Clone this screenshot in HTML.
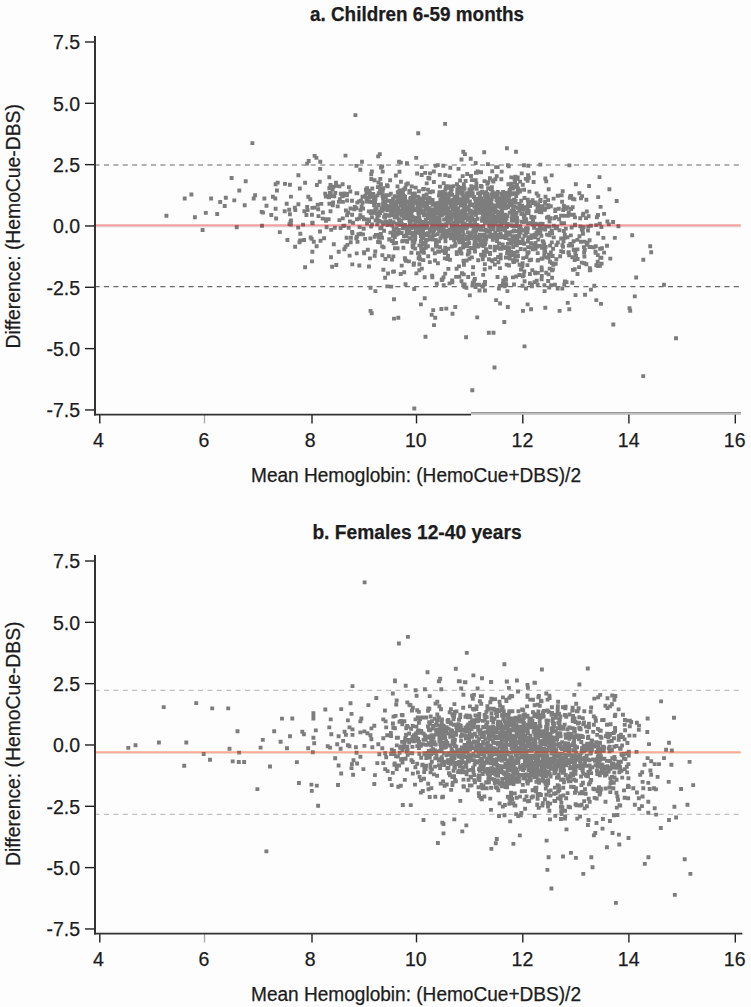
<!DOCTYPE html>
<html><head><meta charset="utf-8"><style>
html,body{margin:0;padding:0;background:#fdfdfd;}
svg{display:block;font-family:"Liberation Sans",sans-serif;}
text{font-size:19.5px;fill:#1c1c1c;stroke:#1c1c1c;stroke-width:0.25px;}
</style></head><body>
<svg width="751" height="1007" viewBox="0 0 751 1007">
<defs><filter id="bl" x="-5%" y="-5%" width="110%" height="110%"><feGaussianBlur stdDeviation="0.45"/></filter></defs>
<rect width="751" height="1007" fill="#fdfdfd"/>
<text x="310.0" y="21.3" font-weight="bold" textLength="214.0" lengthAdjust="spacingAndGlyphs">a. Children 6-59 months</text>
<text transform="translate(20,348.5) rotate(-90)" x="0" y="0" textLength="244.4" lengthAdjust="spacingAndGlyphs">Difference: (HemoCue-DBS)</text>
<text x="251.0" y="481.8" textLength="330" lengthAdjust="spacingAndGlyphs">Mean Hemoglobin: (HemoCue+DBS)/2</text>
<line x1="85" y1="41.99" x2="95" y2="41.99" stroke="#222" stroke-width="1.4"/>
<text x="80.1" y="49.39" text-anchor="end">7.5</text>
<line x1="85" y1="103.32" x2="95" y2="103.32" stroke="#222" stroke-width="1.4"/>
<text x="80.1" y="110.72" text-anchor="end">5.0</text>
<line x1="85" y1="164.64" x2="95" y2="164.64" stroke="#222" stroke-width="1.4"/>
<text x="80.1" y="172.04" text-anchor="end">2.5</text>
<line x1="85" y1="225.97" x2="95" y2="225.97" stroke="#222" stroke-width="1.4"/>
<text x="80.1" y="233.37" text-anchor="end">0.0</text>
<line x1="85" y1="287.30" x2="95" y2="287.30" stroke="#222" stroke-width="1.4"/>
<text x="80.1" y="294.69" text-anchor="end">-2.5</text>
<line x1="85" y1="348.62" x2="95" y2="348.62" stroke="#222" stroke-width="1.4"/>
<text x="80.1" y="356.02" text-anchor="end">-5.0</text>
<line x1="85" y1="409.95" x2="95" y2="409.95" stroke="#222" stroke-width="1.4"/>
<text x="80.1" y="417.35" text-anchor="end">-7.5</text>
<line x1="99.8" y1="414.0" x2="99.8" y2="423.4" stroke="#222" stroke-width="1.4"/>
<text x="98.4" y="447.4" text-anchor="middle">4</text>
<line x1="204.5" y1="414.0" x2="204.5" y2="423.4" stroke="#aaa" stroke-width="1.4"/>
<text x="203.9" y="447.4" text-anchor="middle">6</text>
<line x1="312.0" y1="414.0" x2="312.0" y2="423.4" stroke="#222" stroke-width="1.4"/>
<text x="310.2" y="447.4" text-anchor="middle">8</text>
<line x1="416.5" y1="414.0" x2="416.5" y2="423.4" stroke="#222" stroke-width="1.4"/>
<text x="415.8" y="447.4" text-anchor="middle">10</text>
<line x1="522.8" y1="414.0" x2="522.8" y2="423.4" stroke="#222" stroke-width="1.4"/>
<text x="522.4" y="447.4" text-anchor="middle">12</text>
<line x1="628.9" y1="414.0" x2="628.9" y2="423.4" stroke="#222" stroke-width="1.4"/>
<text x="628.7" y="447.4" text-anchor="middle">14</text>
<line x1="735.3" y1="414.0" x2="735.3" y2="423.4" stroke="#222" stroke-width="1.4"/>
<text x="734.7" y="447.4" text-anchor="middle">16</text>
<line x1="94.6" y1="165.00" x2="740.7" y2="165.00" stroke="#686868" stroke-width="1.15" stroke-dasharray="5 4.4"/>
<line x1="94.6" y1="286.60" x2="740.7" y2="286.60" stroke="#686868" stroke-width="1.15" stroke-dasharray="5 4.4"/>
<path d="M354.45 163.95h3.9v3.9h-3.9zM380.25 164.55h3.9v3.9h-3.9zM419.85 165.15h3.9v3.9h-3.9zM433.65 163.85h3.9v3.9h-3.9zM435.85 163.15h3.9v3.9h-3.9zM441.35 163.85h3.9v3.9h-3.9zM494.15 165.15h3.9v3.9h-3.9zM495.65 165.15h3.9v3.9h-3.9zM505.95 163.15h3.9v3.9h-3.9zM506.75 164.25h3.9v3.9h-3.9zM526.35 163.75h3.9v3.9h-3.9zM522.05 163.35h3.9v3.9h-3.9zM538.35 162.65h3.9v3.9h-3.9zM567.45 163.45h3.9v3.9h-3.9zM318.25 166.95h3.9v3.9h-3.9zM358.35 167.75h3.9v3.9h-3.9zM379.05 165.55h3.9v3.9h-3.9zM448.35 165.75h3.9v3.9h-3.9zM456.55 166.95h3.9v3.9h-3.9zM369.95 169.45h3.9v3.9h-3.9zM380.75 169.65h3.9v3.9h-3.9zM397.55 169.85h3.9v3.9h-3.9zM415.15 171.55h3.9v3.9h-3.9zM428.05 171.45h3.9v3.9h-3.9zM423.25 170.95h3.9v3.9h-3.9zM431.85 169.55h3.9v3.9h-3.9zM474.05 170.75h3.9v3.9h-3.9zM474.85 170.95h3.9v3.9h-3.9zM475.85 169.55h3.9v3.9h-3.9zM479.15 170.25h3.9v3.9h-3.9zM490.25 169.35h3.9v3.9h-3.9zM499.75 169.65h3.9v3.9h-3.9zM519.75 171.45h3.9v3.9h-3.9zM531.85 171.25h3.9v3.9h-3.9zM296.45 173.25h3.9v3.9h-3.9zM369.25 172.25h3.9v3.9h-3.9zM393.95 173.55h3.9v3.9h-3.9zM419.75 173.05h3.9v3.9h-3.9zM437.85 172.95h3.9v3.9h-3.9zM447.55 174.15h3.9v3.9h-3.9zM443.35 173.15h3.9v3.9h-3.9zM460.75 174.15h3.9v3.9h-3.9zM465.25 172.05h3.9v3.9h-3.9zM469.05 174.05h3.9v3.9h-3.9zM494.75 174.25h3.9v3.9h-3.9zM513.35 174.65h3.9v3.9h-3.9zM526.15 173.25h3.9v3.9h-3.9zM549.75 173.45h3.9v3.9h-3.9zM327.35 175.25h3.9v3.9h-3.9zM369.35 177.05h3.9v3.9h-3.9zM378.35 176.95h3.9v3.9h-3.9zM426.45 176.05h3.9v3.9h-3.9zM427.35 176.55h3.9v3.9h-3.9zM487.95 176.25h3.9v3.9h-3.9zM493.45 177.25h3.9v3.9h-3.9zM499.35 177.35h3.9v3.9h-3.9zM509.35 175.45h3.9v3.9h-3.9zM512.55 176.85h3.9v3.9h-3.9zM515.75 175.55h3.9v3.9h-3.9zM515.65 176.95h3.9v3.9h-3.9zM526.85 175.75h3.9v3.9h-3.9zM523.85 176.95h3.9v3.9h-3.9zM543.35 176.55h3.9v3.9h-3.9zM597.55 175.15h3.9v3.9h-3.9zM303.15 180.75h3.9v3.9h-3.9zM317.75 179.85h3.9v3.9h-3.9zM334.05 180.75h3.9v3.9h-3.9zM372.55 178.35h3.9v3.9h-3.9zM376.55 180.55h3.9v3.9h-3.9zM388.15 178.25h3.9v3.9h-3.9zM398.95 179.85h3.9v3.9h-3.9zM431.95 180.05h3.9v3.9h-3.9zM458.15 178.55h3.9v3.9h-3.9zM463.65 179.05h3.9v3.9h-3.9zM473.75 178.15h3.9v3.9h-3.9zM469.85 178.15h3.9v3.9h-3.9zM482.55 179.15h3.9v3.9h-3.9zM486.25 180.35h3.9v3.9h-3.9zM490.65 178.45h3.9v3.9h-3.9zM491.45 179.55h3.9v3.9h-3.9zM513.15 180.55h3.9v3.9h-3.9zM518.15 179.65h3.9v3.9h-3.9zM525.65 178.75h3.9v3.9h-3.9zM531.65 180.05h3.9v3.9h-3.9zM544.25 179.45h3.9v3.9h-3.9zM287.95 182.85h3.9v3.9h-3.9zM283.05 181.95h3.9v3.9h-3.9zM314.95 183.05h3.9v3.9h-3.9zM328.55 183.05h3.9v3.9h-3.9zM334.35 183.75h3.9v3.9h-3.9zM340.65 182.35h3.9v3.9h-3.9zM378.95 182.15h3.9v3.9h-3.9zM385.05 183.25h3.9v3.9h-3.9zM404.35 182.55h3.9v3.9h-3.9zM405.85 181.55h3.9v3.9h-3.9zM424.75 181.45h3.9v3.9h-3.9zM441.75 181.25h3.9v3.9h-3.9zM455.05 182.25h3.9v3.9h-3.9zM461.85 182.15h3.9v3.9h-3.9zM474.45 181.55h3.9v3.9h-3.9zM485.45 181.95h3.9v3.9h-3.9zM506.45 182.35h3.9v3.9h-3.9zM509.45 181.75h3.9v3.9h-3.9zM515.05 182.95h3.9v3.9h-3.9zM520.85 182.75h3.9v3.9h-3.9zM573.85 182.35h3.9v3.9h-3.9zM297.85 186.55h3.9v3.9h-3.9zM327.35 186.25h3.9v3.9h-3.9zM327.95 185.65h3.9v3.9h-3.9zM331.75 184.65h3.9v3.9h-3.9zM337.45 184.45h3.9v3.9h-3.9zM346.95 185.15h3.9v3.9h-3.9zM365.25 186.25h3.9v3.9h-3.9zM370.35 186.55h3.9v3.9h-3.9zM381.35 186.25h3.9v3.9h-3.9zM377.55 185.05h3.9v3.9h-3.9zM375.85 185.15h3.9v3.9h-3.9zM385.75 184.25h3.9v3.9h-3.9zM395.55 184.45h3.9v3.9h-3.9zM403.35 186.95h3.9v3.9h-3.9zM403.35 185.65h3.9v3.9h-3.9zM413.75 185.65h3.9v3.9h-3.9zM409.75 184.55h3.9v3.9h-3.9zM421.95 186.95h3.9v3.9h-3.9zM438.05 184.65h3.9v3.9h-3.9zM443.95 185.85h3.9v3.9h-3.9zM444.55 184.25h3.9v3.9h-3.9zM447.15 185.75h3.9v3.9h-3.9zM447.05 184.55h3.9v3.9h-3.9zM448.75 185.05h3.9v3.9h-3.9zM451.45 184.15h3.9v3.9h-3.9zM459.15 185.85h3.9v3.9h-3.9zM456.25 185.05h3.9v3.9h-3.9zM462.05 184.65h3.9v3.9h-3.9zM462.55 186.85h3.9v3.9h-3.9zM474.35 186.75h3.9v3.9h-3.9zM474.35 185.45h3.9v3.9h-3.9zM473.25 185.25h3.9v3.9h-3.9zM474.75 186.75h3.9v3.9h-3.9zM470.05 186.85h3.9v3.9h-3.9zM469.35 184.25h3.9v3.9h-3.9zM478.95 184.05h3.9v3.9h-3.9zM479.65 184.85h3.9v3.9h-3.9zM486.25 186.25h3.9v3.9h-3.9zM489.95 185.25h3.9v3.9h-3.9zM508.95 184.95h3.9v3.9h-3.9zM510.95 185.55h3.9v3.9h-3.9zM511.45 185.05h3.9v3.9h-3.9zM513.45 184.85h3.9v3.9h-3.9zM510.95 186.65h3.9v3.9h-3.9zM516.05 186.45h3.9v3.9h-3.9zM587.15 184.05h3.9v3.9h-3.9zM330.75 187.15h3.9v3.9h-3.9zM348.35 189.55h3.9v3.9h-3.9zM367.65 188.75h3.9v3.9h-3.9zM363.95 187.55h3.9v3.9h-3.9zM379.75 189.85h3.9v3.9h-3.9zM380.75 188.85h3.9v3.9h-3.9zM378.15 188.65h3.9v3.9h-3.9zM397.55 188.45h3.9v3.9h-3.9zM400.55 188.45h3.9v3.9h-3.9zM401.65 187.55h3.9v3.9h-3.9zM407.55 189.55h3.9v3.9h-3.9zM408.05 188.95h3.9v3.9h-3.9zM416.95 189.25h3.9v3.9h-3.9zM421.15 187.35h3.9v3.9h-3.9zM427.65 189.95h3.9v3.9h-3.9zM426.05 187.65h3.9v3.9h-3.9zM430.95 189.55h3.9v3.9h-3.9zM441.25 189.95h3.9v3.9h-3.9zM443.45 187.45h3.9v3.9h-3.9zM449.75 187.65h3.9v3.9h-3.9zM448.75 188.65h3.9v3.9h-3.9zM456.75 189.95h3.9v3.9h-3.9zM455.35 187.85h3.9v3.9h-3.9zM458.05 187.85h3.9v3.9h-3.9zM458.45 187.15h3.9v3.9h-3.9zM467.45 187.55h3.9v3.9h-3.9zM468.05 189.05h3.9v3.9h-3.9zM468.45 189.35h3.9v3.9h-3.9zM480.15 189.75h3.9v3.9h-3.9zM490.55 190.05h3.9v3.9h-3.9zM489.85 187.45h3.9v3.9h-3.9zM488.95 187.45h3.9v3.9h-3.9zM495.85 189.95h3.9v3.9h-3.9zM501.15 190.05h3.9v3.9h-3.9zM507.55 188.55h3.9v3.9h-3.9zM507.95 188.05h3.9v3.9h-3.9zM518.05 188.35h3.9v3.9h-3.9zM517.95 189.55h3.9v3.9h-3.9zM515.75 188.85h3.9v3.9h-3.9zM527.45 189.65h3.9v3.9h-3.9zM522.15 187.85h3.9v3.9h-3.9zM546.75 187.35h3.9v3.9h-3.9zM560.75 189.15h3.9v3.9h-3.9zM327.95 190.95h3.9v3.9h-3.9zM328.85 190.95h3.9v3.9h-3.9zM323.25 191.65h3.9v3.9h-3.9zM333.35 190.95h3.9v3.9h-3.9zM338.85 191.75h3.9v3.9h-3.9zM345.15 191.95h3.9v3.9h-3.9zM342.75 191.45h3.9v3.9h-3.9zM354.55 191.25h3.9v3.9h-3.9zM355.35 191.25h3.9v3.9h-3.9zM367.85 192.25h3.9v3.9h-3.9zM364.55 191.05h3.9v3.9h-3.9zM371.25 192.05h3.9v3.9h-3.9zM376.85 191.25h3.9v3.9h-3.9zM379.45 190.55h3.9v3.9h-3.9zM388.85 191.75h3.9v3.9h-3.9zM399.75 190.45h3.9v3.9h-3.9zM401.05 191.25h3.9v3.9h-3.9zM398.45 192.85h3.9v3.9h-3.9zM397.15 190.65h3.9v3.9h-3.9zM400.75 191.95h3.9v3.9h-3.9zM395.85 190.15h3.9v3.9h-3.9zM407.35 190.65h3.9v3.9h-3.9zM411.35 192.05h3.9v3.9h-3.9zM412.85 191.45h3.9v3.9h-3.9zM424.65 192.45h3.9v3.9h-3.9zM428.35 190.25h3.9v3.9h-3.9zM437.75 191.85h3.9v3.9h-3.9zM440.85 190.75h3.9v3.9h-3.9zM437.55 190.35h3.9v3.9h-3.9zM439.25 190.15h3.9v3.9h-3.9zM443.15 191.55h3.9v3.9h-3.9zM447.25 191.75h3.9v3.9h-3.9zM443.45 193.15h3.9v3.9h-3.9zM450.25 192.85h3.9v3.9h-3.9zM449.15 191.75h3.9v3.9h-3.9zM455.25 191.45h3.9v3.9h-3.9zM456.95 190.65h3.9v3.9h-3.9zM460.65 190.75h3.9v3.9h-3.9zM460.35 192.95h3.9v3.9h-3.9zM455.65 192.85h3.9v3.9h-3.9zM457.45 190.75h3.9v3.9h-3.9zM464.75 191.25h3.9v3.9h-3.9zM470.75 191.25h3.9v3.9h-3.9zM469.25 190.85h3.9v3.9h-3.9zM476.15 191.45h3.9v3.9h-3.9zM478.45 190.85h3.9v3.9h-3.9zM479.35 190.75h3.9v3.9h-3.9zM483.95 191.75h3.9v3.9h-3.9zM485.35 192.05h3.9v3.9h-3.9zM484.25 190.25h3.9v3.9h-3.9zM493.95 192.25h3.9v3.9h-3.9zM489.45 192.65h3.9v3.9h-3.9zM494.45 191.15h3.9v3.9h-3.9zM494.55 191.55h3.9v3.9h-3.9zM499.45 191.85h3.9v3.9h-3.9zM495.35 191.75h3.9v3.9h-3.9zM504.45 191.85h3.9v3.9h-3.9zM506.65 190.75h3.9v3.9h-3.9zM501.85 192.45h3.9v3.9h-3.9zM504.85 191.05h3.9v3.9h-3.9zM507.95 192.15h3.9v3.9h-3.9zM512.75 191.15h3.9v3.9h-3.9zM511.05 191.85h3.9v3.9h-3.9zM509.45 192.25h3.9v3.9h-3.9zM511.55 191.25h3.9v3.9h-3.9zM508.55 191.75h3.9v3.9h-3.9zM515.65 191.35h3.9v3.9h-3.9zM534.65 191.55h3.9v3.9h-3.9zM577.45 191.35h3.9v3.9h-3.9zM288.95 194.65h3.9v3.9h-3.9zM306.35 194.75h3.9v3.9h-3.9zM327.05 195.45h3.9v3.9h-3.9zM323.85 194.55h3.9v3.9h-3.9zM328.85 194.15h3.9v3.9h-3.9zM327.45 193.65h3.9v3.9h-3.9zM332.35 194.35h3.9v3.9h-3.9zM340.25 194.45h3.9v3.9h-3.9zM340.95 193.95h3.9v3.9h-3.9zM344.85 193.35h3.9v3.9h-3.9zM360.55 194.75h3.9v3.9h-3.9zM362.45 194.85h3.9v3.9h-3.9zM367.05 195.95h3.9v3.9h-3.9zM363.45 193.65h3.9v3.9h-3.9zM369.75 194.85h3.9v3.9h-3.9zM373.15 195.05h3.9v3.9h-3.9zM369.85 193.55h3.9v3.9h-3.9zM375.45 193.45h3.9v3.9h-3.9zM380.55 194.35h3.9v3.9h-3.9zM386.65 193.15h3.9v3.9h-3.9zM383.85 195.35h3.9v3.9h-3.9zM383.15 193.25h3.9v3.9h-3.9zM393.95 194.35h3.9v3.9h-3.9zM393.95 194.55h3.9v3.9h-3.9zM393.05 194.15h3.9v3.9h-3.9zM396.75 194.45h3.9v3.9h-3.9zM395.85 194.15h3.9v3.9h-3.9zM399.05 194.85h3.9v3.9h-3.9zM402.05 194.25h3.9v3.9h-3.9zM403.15 194.95h3.9v3.9h-3.9zM411.95 194.45h3.9v3.9h-3.9zM410.55 193.35h3.9v3.9h-3.9zM413.75 194.65h3.9v3.9h-3.9zM409.15 196.05h3.9v3.9h-3.9zM421.75 193.65h3.9v3.9h-3.9zM417.55 196.25h3.9v3.9h-3.9zM415.95 194.65h3.9v3.9h-3.9zM421.85 194.65h3.9v3.9h-3.9zM421.75 195.35h3.9v3.9h-3.9zM427.45 195.95h3.9v3.9h-3.9zM437.05 193.55h3.9v3.9h-3.9zM439.15 193.45h3.9v3.9h-3.9zM441.35 193.25h3.9v3.9h-3.9zM446.55 194.75h3.9v3.9h-3.9zM446.75 194.75h3.9v3.9h-3.9zM452.65 194.75h3.9v3.9h-3.9zM455.35 195.25h3.9v3.9h-3.9zM465.45 193.25h3.9v3.9h-3.9zM463.55 195.45h3.9v3.9h-3.9zM463.15 194.65h3.9v3.9h-3.9zM463.15 194.25h3.9v3.9h-3.9zM465.75 195.45h3.9v3.9h-3.9zM468.45 193.95h3.9v3.9h-3.9zM471.95 195.05h3.9v3.9h-3.9zM469.65 193.75h3.9v3.9h-3.9zM478.05 193.95h3.9v3.9h-3.9zM486.15 195.45h3.9v3.9h-3.9zM483.75 195.35h3.9v3.9h-3.9zM483.15 193.85h3.9v3.9h-3.9zM482.85 193.75h3.9v3.9h-3.9zM493.05 194.65h3.9v3.9h-3.9zM490.45 194.75h3.9v3.9h-3.9zM490.85 193.75h3.9v3.9h-3.9zM500.45 195.65h3.9v3.9h-3.9zM499.35 196.15h3.9v3.9h-3.9zM495.55 195.55h3.9v3.9h-3.9zM500.55 193.55h3.9v3.9h-3.9zM502.15 193.85h3.9v3.9h-3.9zM506.75 194.45h3.9v3.9h-3.9zM503.35 194.55h3.9v3.9h-3.9zM507.35 193.95h3.9v3.9h-3.9zM501.35 196.05h3.9v3.9h-3.9zM514.25 194.05h3.9v3.9h-3.9zM522.55 196.05h3.9v3.9h-3.9zM536.35 193.85h3.9v3.9h-3.9zM543.55 194.75h3.9v3.9h-3.9zM559.65 193.35h3.9v3.9h-3.9zM555.85 193.75h3.9v3.9h-3.9zM568.25 194.45h3.9v3.9h-3.9zM567.85 195.95h3.9v3.9h-3.9zM569.15 194.05h3.9v3.9h-3.9zM580.15 194.15h3.9v3.9h-3.9zM596.25 195.15h3.9v3.9h-3.9zM308.35 197.25h3.9v3.9h-3.9zM337.85 197.15h3.9v3.9h-3.9zM345.15 198.55h3.9v3.9h-3.9zM350.05 198.85h3.9v3.9h-3.9zM358.95 198.85h3.9v3.9h-3.9zM364.55 196.25h3.9v3.9h-3.9zM371.75 197.65h3.9v3.9h-3.9zM373.55 196.85h3.9v3.9h-3.9zM381.15 196.75h3.9v3.9h-3.9zM385.55 198.85h3.9v3.9h-3.9zM387.65 198.95h3.9v3.9h-3.9zM391.15 196.55h3.9v3.9h-3.9zM401.15 196.55h3.9v3.9h-3.9zM395.85 198.75h3.9v3.9h-3.9zM397.15 198.25h3.9v3.9h-3.9zM395.45 196.85h3.9v3.9h-3.9zM399.95 196.35h3.9v3.9h-3.9zM398.65 199.15h3.9v3.9h-3.9zM396.65 198.35h3.9v3.9h-3.9zM400.15 198.15h3.9v3.9h-3.9zM403.15 197.85h3.9v3.9h-3.9zM408.25 196.85h3.9v3.9h-3.9zM411.95 198.25h3.9v3.9h-3.9zM409.45 198.45h3.9v3.9h-3.9zM413.75 198.85h3.9v3.9h-3.9zM421.05 197.55h3.9v3.9h-3.9zM417.75 197.85h3.9v3.9h-3.9zM423.75 196.45h3.9v3.9h-3.9zM427.85 198.45h3.9v3.9h-3.9zM425.65 197.45h3.9v3.9h-3.9zM428.05 197.55h3.9v3.9h-3.9zM430.65 198.05h3.9v3.9h-3.9zM439.05 197.75h3.9v3.9h-3.9zM438.45 197.75h3.9v3.9h-3.9zM440.45 196.85h3.9v3.9h-3.9zM440.15 197.15h3.9v3.9h-3.9zM440.65 196.45h3.9v3.9h-3.9zM443.35 196.65h3.9v3.9h-3.9zM445.35 198.05h3.9v3.9h-3.9zM441.65 196.75h3.9v3.9h-3.9zM452.65 198.75h3.9v3.9h-3.9zM452.65 196.25h3.9v3.9h-3.9zM451.15 197.75h3.9v3.9h-3.9zM448.55 198.65h3.9v3.9h-3.9zM458.15 198.85h3.9v3.9h-3.9zM458.25 197.25h3.9v3.9h-3.9zM455.25 197.95h3.9v3.9h-3.9zM461.75 196.75h3.9v3.9h-3.9zM462.05 198.85h3.9v3.9h-3.9zM465.35 196.95h3.9v3.9h-3.9zM473.05 196.95h3.9v3.9h-3.9zM474.75 196.65h3.9v3.9h-3.9zM475.75 197.55h3.9v3.9h-3.9zM479.35 196.45h3.9v3.9h-3.9zM480.85 198.85h3.9v3.9h-3.9zM480.85 198.35h3.9v3.9h-3.9zM482.55 198.65h3.9v3.9h-3.9zM481.95 198.55h3.9v3.9h-3.9zM483.95 198.95h3.9v3.9h-3.9zM486.35 198.35h3.9v3.9h-3.9zM489.75 197.35h3.9v3.9h-3.9zM497.95 198.55h3.9v3.9h-3.9zM499.95 197.35h3.9v3.9h-3.9zM496.95 198.15h3.9v3.9h-3.9zM496.15 198.95h3.9v3.9h-3.9zM494.55 198.25h3.9v3.9h-3.9zM497.85 196.85h3.9v3.9h-3.9zM506.65 198.75h3.9v3.9h-3.9zM507.75 198.55h3.9v3.9h-3.9zM503.85 196.85h3.9v3.9h-3.9zM505.55 196.85h3.9v3.9h-3.9zM506.25 197.95h3.9v3.9h-3.9zM506.65 197.35h3.9v3.9h-3.9zM503.25 199.05h3.9v3.9h-3.9zM512.05 197.85h3.9v3.9h-3.9zM509.75 199.25h3.9v3.9h-3.9zM513.65 198.55h3.9v3.9h-3.9zM519.25 198.75h3.9v3.9h-3.9zM525.85 197.85h3.9v3.9h-3.9zM530.65 198.25h3.9v3.9h-3.9zM538.15 199.15h3.9v3.9h-3.9zM538.65 198.05h3.9v3.9h-3.9zM546.15 198.15h3.9v3.9h-3.9zM551.65 196.65h3.9v3.9h-3.9zM572.45 197.45h3.9v3.9h-3.9zM570.95 196.75h3.9v3.9h-3.9zM579.05 196.45h3.9v3.9h-3.9zM584.45 197.75h3.9v3.9h-3.9zM284.75 201.85h3.9v3.9h-3.9zM296.45 202.25h3.9v3.9h-3.9zM319.35 201.95h3.9v3.9h-3.9zM327.45 201.85h3.9v3.9h-3.9zM331.15 200.55h3.9v3.9h-3.9zM336.95 199.95h3.9v3.9h-3.9zM340.95 199.95h3.9v3.9h-3.9zM355.35 200.65h3.9v3.9h-3.9zM360.75 200.55h3.9v3.9h-3.9zM356.95 199.45h3.9v3.9h-3.9zM367.65 199.95h3.9v3.9h-3.9zM365.05 199.55h3.9v3.9h-3.9zM369.75 200.05h3.9v3.9h-3.9zM373.05 200.15h3.9v3.9h-3.9zM381.15 201.25h3.9v3.9h-3.9zM383.15 201.25h3.9v3.9h-3.9zM382.15 199.65h3.9v3.9h-3.9zM388.75 199.55h3.9v3.9h-3.9zM390.25 200.75h3.9v3.9h-3.9zM389.45 202.25h3.9v3.9h-3.9zM392.45 201.55h3.9v3.9h-3.9zM394.55 199.95h3.9v3.9h-3.9zM394.45 202.25h3.9v3.9h-3.9zM390.45 199.65h3.9v3.9h-3.9zM393.95 202.05h3.9v3.9h-3.9zM396.85 200.55h3.9v3.9h-3.9zM400.15 199.55h3.9v3.9h-3.9zM401.45 199.35h3.9v3.9h-3.9zM407.35 199.65h3.9v3.9h-3.9zM407.75 201.15h3.9v3.9h-3.9zM402.25 202.15h3.9v3.9h-3.9zM403.95 199.55h3.9v3.9h-3.9zM403.55 199.35h3.9v3.9h-3.9zM403.75 201.45h3.9v3.9h-3.9zM408.45 201.25h3.9v3.9h-3.9zM412.15 199.95h3.9v3.9h-3.9zM413.35 200.25h3.9v3.9h-3.9zM412.35 200.95h3.9v3.9h-3.9zM412.65 199.75h3.9v3.9h-3.9zM410.15 201.45h3.9v3.9h-3.9zM421.35 200.95h3.9v3.9h-3.9zM420.15 201.35h3.9v3.9h-3.9zM416.45 200.85h3.9v3.9h-3.9zM418.95 200.75h3.9v3.9h-3.9zM419.45 202.05h3.9v3.9h-3.9zM422.85 202.25h3.9v3.9h-3.9zM424.25 201.45h3.9v3.9h-3.9zM425.65 200.55h3.9v3.9h-3.9zM424.65 201.05h3.9v3.9h-3.9zM428.25 200.95h3.9v3.9h-3.9zM426.95 200.25h3.9v3.9h-3.9zM434.75 201.15h3.9v3.9h-3.9zM430.05 200.75h3.9v3.9h-3.9zM429.05 200.05h3.9v3.9h-3.9zM433.95 201.45h3.9v3.9h-3.9zM437.45 200.85h3.9v3.9h-3.9zM439.65 200.25h3.9v3.9h-3.9zM445.55 199.85h3.9v3.9h-3.9zM441.85 200.75h3.9v3.9h-3.9zM445.05 201.15h3.9v3.9h-3.9zM444.05 202.15h3.9v3.9h-3.9zM454.55 200.55h3.9v3.9h-3.9zM448.95 199.85h3.9v3.9h-3.9zM457.15 201.35h3.9v3.9h-3.9zM461.15 201.75h3.9v3.9h-3.9zM459.05 201.25h3.9v3.9h-3.9zM462.85 201.45h3.9v3.9h-3.9zM467.95 199.45h3.9v3.9h-3.9zM463.15 202.35h3.9v3.9h-3.9zM462.05 201.85h3.9v3.9h-3.9zM465.35 199.55h3.9v3.9h-3.9zM473.75 200.25h3.9v3.9h-3.9zM479.75 199.55h3.9v3.9h-3.9zM475.25 199.65h3.9v3.9h-3.9zM480.45 200.05h3.9v3.9h-3.9zM476.85 200.65h3.9v3.9h-3.9zM482.95 199.85h3.9v3.9h-3.9zM486.85 200.25h3.9v3.9h-3.9zM487.25 201.85h3.9v3.9h-3.9zM483.85 200.35h3.9v3.9h-3.9zM482.05 201.95h3.9v3.9h-3.9zM489.45 201.95h3.9v3.9h-3.9zM488.85 201.05h3.9v3.9h-3.9zM500.05 202.05h3.9v3.9h-3.9zM498.35 200.05h3.9v3.9h-3.9zM500.65 199.95h3.9v3.9h-3.9zM495.75 201.25h3.9v3.9h-3.9zM507.65 199.75h3.9v3.9h-3.9zM503.45 202.35h3.9v3.9h-3.9zM513.45 200.55h3.9v3.9h-3.9zM507.95 201.75h3.9v3.9h-3.9zM517.45 202.05h3.9v3.9h-3.9zM526.25 200.65h3.9v3.9h-3.9zM532.25 201.05h3.9v3.9h-3.9zM530.85 201.05h3.9v3.9h-3.9zM529.75 199.95h3.9v3.9h-3.9zM533.75 200.45h3.9v3.9h-3.9zM543.15 199.75h3.9v3.9h-3.9zM543.15 201.85h3.9v3.9h-3.9zM560.15 199.85h3.9v3.9h-3.9zM305.25 204.95h3.9v3.9h-3.9zM315.75 202.75h3.9v3.9h-3.9zM330.85 203.25h3.9v3.9h-3.9zM335.75 204.45h3.9v3.9h-3.9zM352.85 204.95h3.9v3.9h-3.9zM359.65 204.55h3.9v3.9h-3.9zM372.15 203.25h3.9v3.9h-3.9zM376.85 202.65h3.9v3.9h-3.9zM376.25 203.05h3.9v3.9h-3.9zM381.25 203.65h3.9v3.9h-3.9zM384.15 203.95h3.9v3.9h-3.9zM383.75 203.45h3.9v3.9h-3.9zM383.45 203.15h3.9v3.9h-3.9zM386.95 204.25h3.9v3.9h-3.9zM394.25 203.75h3.9v3.9h-3.9zM390.85 205.35h3.9v3.9h-3.9zM393.65 203.45h3.9v3.9h-3.9zM388.75 203.75h3.9v3.9h-3.9zM399.05 203.15h3.9v3.9h-3.9zM400.25 203.95h3.9v3.9h-3.9zM403.75 202.55h3.9v3.9h-3.9zM404.75 205.15h3.9v3.9h-3.9zM408.15 204.35h3.9v3.9h-3.9zM410.95 204.35h3.9v3.9h-3.9zM408.65 203.85h3.9v3.9h-3.9zM418.15 204.35h3.9v3.9h-3.9zM415.45 203.95h3.9v3.9h-3.9zM418.45 202.95h3.9v3.9h-3.9zM416.75 204.85h3.9v3.9h-3.9zM417.45 202.95h3.9v3.9h-3.9zM423.85 203.05h3.9v3.9h-3.9zM425.05 204.25h3.9v3.9h-3.9zM422.35 204.15h3.9v3.9h-3.9zM430.65 202.75h3.9v3.9h-3.9zM434.15 205.15h3.9v3.9h-3.9zM433.55 204.35h3.9v3.9h-3.9zM434.85 204.05h3.9v3.9h-3.9zM438.65 204.15h3.9v3.9h-3.9zM437.35 205.05h3.9v3.9h-3.9zM440.65 204.45h3.9v3.9h-3.9zM438.55 204.55h3.9v3.9h-3.9zM436.25 204.85h3.9v3.9h-3.9zM442.85 204.25h3.9v3.9h-3.9zM444.65 204.55h3.9v3.9h-3.9zM442.25 205.05h3.9v3.9h-3.9zM451.35 202.45h3.9v3.9h-3.9zM449.95 204.95h3.9v3.9h-3.9zM449.05 202.65h3.9v3.9h-3.9zM453.85 203.55h3.9v3.9h-3.9zM451.75 204.15h3.9v3.9h-3.9zM460.45 203.35h3.9v3.9h-3.9zM458.95 203.35h3.9v3.9h-3.9zM459.85 203.55h3.9v3.9h-3.9zM467.75 203.05h3.9v3.9h-3.9zM462.75 205.25h3.9v3.9h-3.9zM467.85 202.75h3.9v3.9h-3.9zM466.65 205.25h3.9v3.9h-3.9zM463.25 204.75h3.9v3.9h-3.9zM472.45 204.55h3.9v3.9h-3.9zM470.05 202.55h3.9v3.9h-3.9zM468.65 203.15h3.9v3.9h-3.9zM474.75 204.65h3.9v3.9h-3.9zM479.45 204.75h3.9v3.9h-3.9zM480.75 203.65h3.9v3.9h-3.9zM474.95 203.35h3.9v3.9h-3.9zM474.85 203.25h3.9v3.9h-3.9zM478.65 203.25h3.9v3.9h-3.9zM476.35 202.65h3.9v3.9h-3.9zM477.05 203.95h3.9v3.9h-3.9zM481.85 205.25h3.9v3.9h-3.9zM485.55 204.35h3.9v3.9h-3.9zM486.75 202.35h3.9v3.9h-3.9zM489.85 203.15h3.9v3.9h-3.9zM492.75 203.75h3.9v3.9h-3.9zM488.95 203.45h3.9v3.9h-3.9zM491.75 203.55h3.9v3.9h-3.9zM491.85 204.95h3.9v3.9h-3.9zM495.15 204.65h3.9v3.9h-3.9zM500.35 204.55h3.9v3.9h-3.9zM497.95 204.05h3.9v3.9h-3.9zM495.35 204.25h3.9v3.9h-3.9zM501.25 203.05h3.9v3.9h-3.9zM498.65 204.95h3.9v3.9h-3.9zM506.05 205.25h3.9v3.9h-3.9zM507.05 203.65h3.9v3.9h-3.9zM509.15 202.35h3.9v3.9h-3.9zM512.65 204.65h3.9v3.9h-3.9zM508.15 202.55h3.9v3.9h-3.9zM509.95 203.05h3.9v3.9h-3.9zM518.15 203.45h3.9v3.9h-3.9zM520.15 203.75h3.9v3.9h-3.9zM522.35 205.25h3.9v3.9h-3.9zM526.05 204.05h3.9v3.9h-3.9zM528.15 204.05h3.9v3.9h-3.9zM533.65 202.65h3.9v3.9h-3.9zM536.15 203.05h3.9v3.9h-3.9zM540.25 205.35h3.9v3.9h-3.9zM539.65 204.15h3.9v3.9h-3.9zM546.45 203.25h3.9v3.9h-3.9zM546.45 205.25h3.9v3.9h-3.9zM548.85 204.35h3.9v3.9h-3.9zM561.85 203.95h3.9v3.9h-3.9zM565.55 205.15h3.9v3.9h-3.9zM570.75 205.35h3.9v3.9h-3.9zM598.65 204.95h3.9v3.9h-3.9zM287.25 207.85h3.9v3.9h-3.9zM293.35 208.05h3.9v3.9h-3.9zM292.85 205.75h3.9v3.9h-3.9zM305.65 208.15h3.9v3.9h-3.9zM312.55 205.65h3.9v3.9h-3.9zM310.45 205.95h3.9v3.9h-3.9zM316.25 207.35h3.9v3.9h-3.9zM348.55 206.55h3.9v3.9h-3.9zM354.45 206.25h3.9v3.9h-3.9zM352.35 207.45h3.9v3.9h-3.9zM358.55 208.35h3.9v3.9h-3.9zM361.15 206.55h3.9v3.9h-3.9zM374.65 206.25h3.9v3.9h-3.9zM373.35 207.55h3.9v3.9h-3.9zM379.55 206.25h3.9v3.9h-3.9zM385.35 207.25h3.9v3.9h-3.9zM385.25 208.25h3.9v3.9h-3.9zM383.35 206.95h3.9v3.9h-3.9zM385.15 206.05h3.9v3.9h-3.9zM391.05 208.35h3.9v3.9h-3.9zM389.15 205.75h3.9v3.9h-3.9zM389.05 208.35h3.9v3.9h-3.9zM391.95 206.75h3.9v3.9h-3.9zM389.25 208.15h3.9v3.9h-3.9zM395.25 207.55h3.9v3.9h-3.9zM396.25 206.55h3.9v3.9h-3.9zM395.55 205.55h3.9v3.9h-3.9zM401.15 208.05h3.9v3.9h-3.9zM400.65 206.55h3.9v3.9h-3.9zM407.45 206.55h3.9v3.9h-3.9zM401.85 206.65h3.9v3.9h-3.9zM407.75 205.95h3.9v3.9h-3.9zM406.05 205.85h3.9v3.9h-3.9zM403.65 207.35h3.9v3.9h-3.9zM413.55 208.05h3.9v3.9h-3.9zM410.35 207.75h3.9v3.9h-3.9zM413.55 207.25h3.9v3.9h-3.9zM418.15 208.15h3.9v3.9h-3.9zM417.25 207.15h3.9v3.9h-3.9zM418.85 207.25h3.9v3.9h-3.9zM416.35 207.45h3.9v3.9h-3.9zM415.85 207.05h3.9v3.9h-3.9zM418.15 207.55h3.9v3.9h-3.9zM427.45 206.15h3.9v3.9h-3.9zM423.55 206.35h3.9v3.9h-3.9zM423.25 206.35h3.9v3.9h-3.9zM423.65 207.05h3.9v3.9h-3.9zM424.15 207.75h3.9v3.9h-3.9zM427.95 208.25h3.9v3.9h-3.9zM433.35 207.45h3.9v3.9h-3.9zM430.65 207.45h3.9v3.9h-3.9zM428.85 207.85h3.9v3.9h-3.9zM434.35 208.45h3.9v3.9h-3.9zM429.15 207.55h3.9v3.9h-3.9zM436.45 205.55h3.9v3.9h-3.9zM436.85 208.05h3.9v3.9h-3.9zM438.85 207.85h3.9v3.9h-3.9zM444.55 206.55h3.9v3.9h-3.9zM443.35 207.55h3.9v3.9h-3.9zM445.85 206.25h3.9v3.9h-3.9zM442.75 206.95h3.9v3.9h-3.9zM446.35 207.45h3.9v3.9h-3.9zM445.85 208.15h3.9v3.9h-3.9zM450.75 207.65h3.9v3.9h-3.9zM453.25 206.35h3.9v3.9h-3.9zM451.85 205.65h3.9v3.9h-3.9zM452.15 206.85h3.9v3.9h-3.9zM453.35 208.05h3.9v3.9h-3.9zM461.25 208.45h3.9v3.9h-3.9zM456.35 206.35h3.9v3.9h-3.9zM463.65 206.75h3.9v3.9h-3.9zM466.15 206.45h3.9v3.9h-3.9zM465.15 207.15h3.9v3.9h-3.9zM466.75 206.85h3.9v3.9h-3.9zM464.25 207.15h3.9v3.9h-3.9zM464.55 207.65h3.9v3.9h-3.9zM462.15 205.95h3.9v3.9h-3.9zM473.75 207.25h3.9v3.9h-3.9zM476.25 207.25h3.9v3.9h-3.9zM475.25 206.65h3.9v3.9h-3.9zM479.55 206.25h3.9v3.9h-3.9zM475.75 207.75h3.9v3.9h-3.9zM476.05 208.25h3.9v3.9h-3.9zM487.65 206.15h3.9v3.9h-3.9zM481.85 208.35h3.9v3.9h-3.9zM484.95 207.25h3.9v3.9h-3.9zM487.45 207.65h3.9v3.9h-3.9zM483.05 206.35h3.9v3.9h-3.9zM491.35 205.65h3.9v3.9h-3.9zM493.25 207.45h3.9v3.9h-3.9zM488.95 207.25h3.9v3.9h-3.9zM499.85 206.85h3.9v3.9h-3.9zM499.45 206.15h3.9v3.9h-3.9zM503.55 205.45h3.9v3.9h-3.9zM504.15 205.95h3.9v3.9h-3.9zM502.85 206.35h3.9v3.9h-3.9zM511.15 205.85h3.9v3.9h-3.9zM518.85 206.15h3.9v3.9h-3.9zM520.65 206.95h3.9v3.9h-3.9zM519.25 207.85h3.9v3.9h-3.9zM515.35 205.75h3.9v3.9h-3.9zM521.25 207.85h3.9v3.9h-3.9zM525.65 206.55h3.9v3.9h-3.9zM525.55 207.95h3.9v3.9h-3.9zM538.35 205.75h3.9v3.9h-3.9zM539.55 207.45h3.9v3.9h-3.9zM537.05 205.55h3.9v3.9h-3.9zM535.55 206.65h3.9v3.9h-3.9zM542.65 206.15h3.9v3.9h-3.9zM542.85 207.85h3.9v3.9h-3.9zM543.35 206.45h3.9v3.9h-3.9zM553.35 207.55h3.9v3.9h-3.9zM556.85 206.85h3.9v3.9h-3.9zM561.25 208.05h3.9v3.9h-3.9zM564.85 206.75h3.9v3.9h-3.9zM561.95 206.85h3.9v3.9h-3.9zM569.15 207.05h3.9v3.9h-3.9zM282.75 209.25h3.9v3.9h-3.9zM302.45 209.35h3.9v3.9h-3.9zM320.95 210.55h3.9v3.9h-3.9zM328.55 209.25h3.9v3.9h-3.9zM343.95 208.55h3.9v3.9h-3.9zM346.25 210.65h3.9v3.9h-3.9zM368.65 210.75h3.9v3.9h-3.9zM366.85 209.45h3.9v3.9h-3.9zM369.65 209.15h3.9v3.9h-3.9zM369.55 211.25h3.9v3.9h-3.9zM372.35 209.95h3.9v3.9h-3.9zM371.25 210.05h3.9v3.9h-3.9zM371.65 210.75h3.9v3.9h-3.9zM378.15 211.05h3.9v3.9h-3.9zM377.75 210.25h3.9v3.9h-3.9zM376.75 211.05h3.9v3.9h-3.9zM377.55 209.65h3.9v3.9h-3.9zM380.75 208.75h3.9v3.9h-3.9zM391.25 210.85h3.9v3.9h-3.9zM394.45 211.35h3.9v3.9h-3.9zM398.25 208.55h3.9v3.9h-3.9zM400.45 209.35h3.9v3.9h-3.9zM403.15 208.55h3.9v3.9h-3.9zM404.65 209.25h3.9v3.9h-3.9zM403.55 210.95h3.9v3.9h-3.9zM406.75 209.75h3.9v3.9h-3.9zM410.25 208.85h3.9v3.9h-3.9zM416.15 208.55h3.9v3.9h-3.9zM421.05 210.95h3.9v3.9h-3.9zM416.35 210.45h3.9v3.9h-3.9zM416.35 210.85h3.9v3.9h-3.9zM417.65 210.65h3.9v3.9h-3.9zM418.65 208.75h3.9v3.9h-3.9zM421.95 209.35h3.9v3.9h-3.9zM426.55 211.55h3.9v3.9h-3.9zM431.75 210.75h3.9v3.9h-3.9zM429.35 209.95h3.9v3.9h-3.9zM431.85 210.25h3.9v3.9h-3.9zM432.95 209.35h3.9v3.9h-3.9zM431.55 209.95h3.9v3.9h-3.9zM429.05 210.95h3.9v3.9h-3.9zM436.75 211.45h3.9v3.9h-3.9zM437.45 209.15h3.9v3.9h-3.9zM439.35 208.55h3.9v3.9h-3.9zM437.35 210.25h3.9v3.9h-3.9zM440.45 209.45h3.9v3.9h-3.9zM444.35 210.05h3.9v3.9h-3.9zM448.15 209.65h3.9v3.9h-3.9zM454.15 210.05h3.9v3.9h-3.9zM453.05 209.35h3.9v3.9h-3.9zM452.65 211.35h3.9v3.9h-3.9zM457.45 209.85h3.9v3.9h-3.9zM460.95 210.35h3.9v3.9h-3.9zM455.25 208.95h3.9v3.9h-3.9zM458.35 209.55h3.9v3.9h-3.9zM455.25 211.05h3.9v3.9h-3.9zM457.05 211.25h3.9v3.9h-3.9zM463.15 210.15h3.9v3.9h-3.9zM463.25 209.65h3.9v3.9h-3.9zM461.55 208.55h3.9v3.9h-3.9zM467.65 210.85h3.9v3.9h-3.9zM463.05 210.35h3.9v3.9h-3.9zM470.95 209.85h3.9v3.9h-3.9zM473.55 209.45h3.9v3.9h-3.9zM468.65 208.85h3.9v3.9h-3.9zM478.45 208.95h3.9v3.9h-3.9zM477.55 210.85h3.9v3.9h-3.9zM487.75 210.25h3.9v3.9h-3.9zM482.35 211.55h3.9v3.9h-3.9zM482.15 211.55h3.9v3.9h-3.9zM481.55 208.75h3.9v3.9h-3.9zM484.45 210.35h3.9v3.9h-3.9zM494.25 210.45h3.9v3.9h-3.9zM492.55 208.95h3.9v3.9h-3.9zM494.05 209.35h3.9v3.9h-3.9zM489.35 209.75h3.9v3.9h-3.9zM495.35 209.75h3.9v3.9h-3.9zM499.35 210.55h3.9v3.9h-3.9zM495.95 210.55h3.9v3.9h-3.9zM500.15 210.65h3.9v3.9h-3.9zM507.75 210.65h3.9v3.9h-3.9zM512.25 209.65h3.9v3.9h-3.9zM510.35 209.55h3.9v3.9h-3.9zM512.75 211.15h3.9v3.9h-3.9zM509.75 208.75h3.9v3.9h-3.9zM514.55 211.05h3.9v3.9h-3.9zM517.35 208.75h3.9v3.9h-3.9zM526.45 210.05h3.9v3.9h-3.9zM525.35 209.15h3.9v3.9h-3.9zM525.25 208.75h3.9v3.9h-3.9zM526.75 209.05h3.9v3.9h-3.9zM524.85 211.05h3.9v3.9h-3.9zM526.55 211.15h3.9v3.9h-3.9zM534.25 209.45h3.9v3.9h-3.9zM537.95 210.15h3.9v3.9h-3.9zM539.45 210.35h3.9v3.9h-3.9zM553.25 209.05h3.9v3.9h-3.9zM566.75 210.95h3.9v3.9h-3.9zM584.85 209.55h3.9v3.9h-3.9zM287.95 212.25h3.9v3.9h-3.9zM304.45 213.05h3.9v3.9h-3.9zM309.95 212.75h3.9v3.9h-3.9zM316.55 214.15h3.9v3.9h-3.9zM345.15 213.25h3.9v3.9h-3.9zM350.15 212.85h3.9v3.9h-3.9zM358.35 213.35h3.9v3.9h-3.9zM374.75 211.65h3.9v3.9h-3.9zM376.95 213.35h3.9v3.9h-3.9zM383.25 213.05h3.9v3.9h-3.9zM387.15 213.75h3.9v3.9h-3.9zM386.65 213.15h3.9v3.9h-3.9zM390.55 212.85h3.9v3.9h-3.9zM393.65 212.75h3.9v3.9h-3.9zM390.95 213.25h3.9v3.9h-3.9zM389.15 212.35h3.9v3.9h-3.9zM395.15 212.35h3.9v3.9h-3.9zM393.95 211.55h3.9v3.9h-3.9zM390.65 213.15h3.9v3.9h-3.9zM401.35 214.05h3.9v3.9h-3.9zM398.65 211.75h3.9v3.9h-3.9zM395.35 213.65h3.9v3.9h-3.9zM399.75 213.05h3.9v3.9h-3.9zM405.95 212.85h3.9v3.9h-3.9zM404.15 212.25h3.9v3.9h-3.9zM406.25 214.45h3.9v3.9h-3.9zM409.35 214.15h3.9v3.9h-3.9zM409.45 211.95h3.9v3.9h-3.9zM409.05 214.05h3.9v3.9h-3.9zM416.95 213.15h3.9v3.9h-3.9zM423.85 212.35h3.9v3.9h-3.9zM421.85 213.45h3.9v3.9h-3.9zM423.55 213.65h3.9v3.9h-3.9zM427.25 212.55h3.9v3.9h-3.9zM430.95 212.55h3.9v3.9h-3.9zM429.15 214.15h3.9v3.9h-3.9zM432.95 213.05h3.9v3.9h-3.9zM439.25 212.35h3.9v3.9h-3.9zM439.95 213.35h3.9v3.9h-3.9zM437.35 214.05h3.9v3.9h-3.9zM445.65 212.45h3.9v3.9h-3.9zM442.65 211.75h3.9v3.9h-3.9zM453.85 214.35h3.9v3.9h-3.9zM450.35 212.75h3.9v3.9h-3.9zM454.15 212.45h3.9v3.9h-3.9zM448.85 211.65h3.9v3.9h-3.9zM451.95 212.55h3.9v3.9h-3.9zM454.55 211.65h3.9v3.9h-3.9zM450.85 213.75h3.9v3.9h-3.9zM456.55 213.15h3.9v3.9h-3.9zM457.75 212.75h3.9v3.9h-3.9zM455.45 214.55h3.9v3.9h-3.9zM457.05 213.05h3.9v3.9h-3.9zM457.15 213.25h3.9v3.9h-3.9zM460.05 214.45h3.9v3.9h-3.9zM458.85 214.45h3.9v3.9h-3.9zM457.25 213.05h3.9v3.9h-3.9zM457.05 214.55h3.9v3.9h-3.9zM461.95 212.75h3.9v3.9h-3.9zM464.55 212.95h3.9v3.9h-3.9zM463.05 212.65h3.9v3.9h-3.9zM469.35 214.45h3.9v3.9h-3.9zM473.95 212.75h3.9v3.9h-3.9zM471.65 211.85h3.9v3.9h-3.9zM480.95 211.85h3.9v3.9h-3.9zM485.25 212.35h3.9v3.9h-3.9zM486.35 214.15h3.9v3.9h-3.9zM489.95 212.15h3.9v3.9h-3.9zM491.05 212.85h3.9v3.9h-3.9zM490.65 214.55h3.9v3.9h-3.9zM489.45 214.25h3.9v3.9h-3.9zM497.75 211.95h3.9v3.9h-3.9zM496.05 212.85h3.9v3.9h-3.9zM495.85 214.15h3.9v3.9h-3.9zM501.75 214.25h3.9v3.9h-3.9zM504.45 214.55h3.9v3.9h-3.9zM503.35 212.75h3.9v3.9h-3.9zM505.55 214.15h3.9v3.9h-3.9zM513.85 214.35h3.9v3.9h-3.9zM510.75 212.05h3.9v3.9h-3.9zM513.65 213.05h3.9v3.9h-3.9zM519.35 211.95h3.9v3.9h-3.9zM520.65 212.05h3.9v3.9h-3.9zM522.55 213.55h3.9v3.9h-3.9zM559.15 213.65h3.9v3.9h-3.9zM565.95 213.75h3.9v3.9h-3.9zM562.05 213.95h3.9v3.9h-3.9zM561.05 213.65h3.9v3.9h-3.9zM571.85 212.85h3.9v3.9h-3.9zM568.15 212.75h3.9v3.9h-3.9zM586.65 214.35h3.9v3.9h-3.9zM580.85 213.25h3.9v3.9h-3.9zM581.35 211.85h3.9v3.9h-3.9zM596.05 213.05h3.9v3.9h-3.9zM320.75 216.65h3.9v3.9h-3.9zM324.55 217.25h3.9v3.9h-3.9zM326.65 217.25h3.9v3.9h-3.9zM340.85 216.45h3.9v3.9h-3.9zM355.05 217.35h3.9v3.9h-3.9zM357.15 216.65h3.9v3.9h-3.9zM362.05 217.35h3.9v3.9h-3.9zM360.85 215.15h3.9v3.9h-3.9zM365.85 217.45h3.9v3.9h-3.9zM369.95 215.45h3.9v3.9h-3.9zM375.25 217.45h3.9v3.9h-3.9zM375.55 214.75h3.9v3.9h-3.9zM375.55 215.25h3.9v3.9h-3.9zM382.15 214.65h3.9v3.9h-3.9zM382.95 215.65h3.9v3.9h-3.9zM383.05 215.35h3.9v3.9h-3.9zM393.75 215.55h3.9v3.9h-3.9zM392.75 215.55h3.9v3.9h-3.9zM397.05 217.25h3.9v3.9h-3.9zM404.65 216.05h3.9v3.9h-3.9zM402.15 216.25h3.9v3.9h-3.9zM404.65 215.75h3.9v3.9h-3.9zM410.75 216.85h3.9v3.9h-3.9zM412.35 217.25h3.9v3.9h-3.9zM410.45 214.85h3.9v3.9h-3.9zM414.25 216.45h3.9v3.9h-3.9zM413.85 216.95h3.9v3.9h-3.9zM413.65 215.75h3.9v3.9h-3.9zM414.25 216.55h3.9v3.9h-3.9zM416.65 215.65h3.9v3.9h-3.9zM417.35 216.55h3.9v3.9h-3.9zM426.35 216.25h3.9v3.9h-3.9zM426.85 215.75h3.9v3.9h-3.9zM426.05 216.25h3.9v3.9h-3.9zM432.95 214.95h3.9v3.9h-3.9zM434.35 216.55h3.9v3.9h-3.9zM428.55 214.65h3.9v3.9h-3.9zM433.95 217.05h3.9v3.9h-3.9zM432.45 215.85h3.9v3.9h-3.9zM429.95 216.15h3.9v3.9h-3.9zM434.35 216.55h3.9v3.9h-3.9zM428.65 215.25h3.9v3.9h-3.9zM428.95 217.25h3.9v3.9h-3.9zM433.95 217.45h3.9v3.9h-3.9zM436.65 215.75h3.9v3.9h-3.9zM437.55 215.65h3.9v3.9h-3.9zM446.85 214.95h3.9v3.9h-3.9zM442.15 217.65h3.9v3.9h-3.9zM444.75 215.95h3.9v3.9h-3.9zM446.75 217.35h3.9v3.9h-3.9zM444.05 217.15h3.9v3.9h-3.9zM448.65 215.85h3.9v3.9h-3.9zM448.95 216.65h3.9v3.9h-3.9zM454.85 215.55h3.9v3.9h-3.9zM453.25 216.45h3.9v3.9h-3.9zM456.15 215.35h3.9v3.9h-3.9zM461.15 216.55h3.9v3.9h-3.9zM458.15 216.15h3.9v3.9h-3.9zM460.45 216.55h3.9v3.9h-3.9zM456.35 217.55h3.9v3.9h-3.9zM460.45 217.05h3.9v3.9h-3.9zM464.35 214.85h3.9v3.9h-3.9zM467.35 215.35h3.9v3.9h-3.9zM464.25 214.95h3.9v3.9h-3.9zM464.95 216.25h3.9v3.9h-3.9zM466.95 217.55h3.9v3.9h-3.9zM467.35 216.65h3.9v3.9h-3.9zM470.55 216.35h3.9v3.9h-3.9zM468.85 215.35h3.9v3.9h-3.9zM468.25 215.95h3.9v3.9h-3.9zM469.65 217.15h3.9v3.9h-3.9zM480.25 216.25h3.9v3.9h-3.9zM475.65 216.75h3.9v3.9h-3.9zM481.35 215.55h3.9v3.9h-3.9zM483.85 217.15h3.9v3.9h-3.9zM484.15 216.25h3.9v3.9h-3.9zM485.05 214.65h3.9v3.9h-3.9zM481.55 217.35h3.9v3.9h-3.9zM492.15 214.65h3.9v3.9h-3.9zM491.55 217.15h3.9v3.9h-3.9zM491.15 215.75h3.9v3.9h-3.9zM493.65 216.75h3.9v3.9h-3.9zM494.05 216.35h3.9v3.9h-3.9zM495.45 217.55h3.9v3.9h-3.9zM498.85 214.75h3.9v3.9h-3.9zM499.55 216.95h3.9v3.9h-3.9zM504.55 216.85h3.9v3.9h-3.9zM504.45 215.75h3.9v3.9h-3.9zM513.85 217.45h3.9v3.9h-3.9zM509.85 217.05h3.9v3.9h-3.9zM510.15 214.85h3.9v3.9h-3.9zM510.95 217.45h3.9v3.9h-3.9zM511.35 217.15h3.9v3.9h-3.9zM513.45 217.05h3.9v3.9h-3.9zM509.85 217.45h3.9v3.9h-3.9zM515.05 215.85h3.9v3.9h-3.9zM524.25 217.45h3.9v3.9h-3.9zM523.35 217.25h3.9v3.9h-3.9zM523.05 217.15h3.9v3.9h-3.9zM522.35 217.65h3.9v3.9h-3.9zM521.85 214.85h3.9v3.9h-3.9zM532.45 215.25h3.9v3.9h-3.9zM529.85 215.55h3.9v3.9h-3.9zM529.25 214.75h3.9v3.9h-3.9zM544.95 215.65h3.9v3.9h-3.9zM546.35 214.65h3.9v3.9h-3.9zM554.05 215.05h3.9v3.9h-3.9zM548.15 216.25h3.9v3.9h-3.9zM552.35 216.25h3.9v3.9h-3.9zM557.25 217.35h3.9v3.9h-3.9zM573.05 215.45h3.9v3.9h-3.9zM578.25 216.25h3.9v3.9h-3.9zM584.05 216.15h3.9v3.9h-3.9zM594.95 215.25h3.9v3.9h-3.9zM289.05 218.45h3.9v3.9h-3.9zM288.55 220.05h3.9v3.9h-3.9zM324.05 218.75h3.9v3.9h-3.9zM337.45 218.15h3.9v3.9h-3.9zM347.95 219.55h3.9v3.9h-3.9zM367.15 219.35h3.9v3.9h-3.9zM373.65 218.45h3.9v3.9h-3.9zM376.95 218.95h3.9v3.9h-3.9zM380.85 220.15h3.9v3.9h-3.9zM377.95 219.55h3.9v3.9h-3.9zM388.25 218.85h3.9v3.9h-3.9zM384.15 219.65h3.9v3.9h-3.9zM391.55 220.25h3.9v3.9h-3.9zM399.25 218.55h3.9v3.9h-3.9zM398.75 219.25h3.9v3.9h-3.9zM407.35 218.35h3.9v3.9h-3.9zM412.85 217.75h3.9v3.9h-3.9zM409.35 218.95h3.9v3.9h-3.9zM414.55 219.25h3.9v3.9h-3.9zM416.55 219.35h3.9v3.9h-3.9zM417.85 220.75h3.9v3.9h-3.9zM421.35 219.95h3.9v3.9h-3.9zM416.75 218.45h3.9v3.9h-3.9zM418.05 218.65h3.9v3.9h-3.9zM423.75 218.05h3.9v3.9h-3.9zM423.75 220.65h3.9v3.9h-3.9zM430.55 219.35h3.9v3.9h-3.9zM434.95 217.75h3.9v3.9h-3.9zM432.95 220.15h3.9v3.9h-3.9zM430.15 220.05h3.9v3.9h-3.9zM434.15 217.95h3.9v3.9h-3.9zM435.25 219.05h3.9v3.9h-3.9zM437.25 219.05h3.9v3.9h-3.9zM436.35 220.75h3.9v3.9h-3.9zM437.75 219.25h3.9v3.9h-3.9zM437.35 220.45h3.9v3.9h-3.9zM445.55 218.45h3.9v3.9h-3.9zM447.05 218.35h3.9v3.9h-3.9zM446.85 219.75h3.9v3.9h-3.9zM447.55 220.75h3.9v3.9h-3.9zM453.65 220.55h3.9v3.9h-3.9zM449.15 217.85h3.9v3.9h-3.9zM453.55 218.75h3.9v3.9h-3.9zM458.05 217.85h3.9v3.9h-3.9zM455.55 220.55h3.9v3.9h-3.9zM457.85 219.95h3.9v3.9h-3.9zM457.95 219.95h3.9v3.9h-3.9zM458.35 218.15h3.9v3.9h-3.9zM456.95 219.65h3.9v3.9h-3.9zM455.85 220.65h3.9v3.9h-3.9zM455.25 219.45h3.9v3.9h-3.9zM460.65 219.95h3.9v3.9h-3.9zM455.85 218.05h3.9v3.9h-3.9zM459.55 218.95h3.9v3.9h-3.9zM465.85 217.75h3.9v3.9h-3.9zM469.45 217.85h3.9v3.9h-3.9zM472.95 219.45h3.9v3.9h-3.9zM473.15 220.25h3.9v3.9h-3.9zM472.85 218.05h3.9v3.9h-3.9zM480.05 218.85h3.9v3.9h-3.9zM484.35 220.65h3.9v3.9h-3.9zM487.85 220.55h3.9v3.9h-3.9zM484.55 218.25h3.9v3.9h-3.9zM487.25 218.35h3.9v3.9h-3.9zM485.35 218.95h3.9v3.9h-3.9zM486.95 218.85h3.9v3.9h-3.9zM483.85 220.35h3.9v3.9h-3.9zM492.45 219.25h3.9v3.9h-3.9zM493.85 219.15h3.9v3.9h-3.9zM488.25 219.15h3.9v3.9h-3.9zM498.35 218.35h3.9v3.9h-3.9zM501.05 218.15h3.9v3.9h-3.9zM498.85 219.95h3.9v3.9h-3.9zM495.95 219.55h3.9v3.9h-3.9zM503.05 217.95h3.9v3.9h-3.9zM512.45 218.65h3.9v3.9h-3.9zM509.85 218.85h3.9v3.9h-3.9zM513.35 218.85h3.9v3.9h-3.9zM512.95 218.15h3.9v3.9h-3.9zM515.55 218.95h3.9v3.9h-3.9zM519.85 219.75h3.9v3.9h-3.9zM522.65 219.25h3.9v3.9h-3.9zM521.85 220.15h3.9v3.9h-3.9zM531.05 219.05h3.9v3.9h-3.9zM547.55 219.55h3.9v3.9h-3.9zM288.85 222.55h3.9v3.9h-3.9zM287.55 222.15h3.9v3.9h-3.9zM301.15 222.65h3.9v3.9h-3.9zM310.25 220.85h3.9v3.9h-3.9zM310.75 221.35h3.9v3.9h-3.9zM342.35 223.65h3.9v3.9h-3.9zM351.05 220.85h3.9v3.9h-3.9zM365.05 221.55h3.9v3.9h-3.9zM370.15 222.45h3.9v3.9h-3.9zM375.25 222.45h3.9v3.9h-3.9zM381.25 221.95h3.9v3.9h-3.9zM385.55 223.05h3.9v3.9h-3.9zM383.15 220.95h3.9v3.9h-3.9zM387.55 221.35h3.9v3.9h-3.9zM387.05 222.25h3.9v3.9h-3.9zM390.35 223.55h3.9v3.9h-3.9zM395.15 221.75h3.9v3.9h-3.9zM397.85 221.75h3.9v3.9h-3.9zM399.75 222.05h3.9v3.9h-3.9zM398.05 222.85h3.9v3.9h-3.9zM397.55 221.05h3.9v3.9h-3.9zM407.95 221.25h3.9v3.9h-3.9zM408.25 221.75h3.9v3.9h-3.9zM403.25 223.05h3.9v3.9h-3.9zM408.55 222.95h3.9v3.9h-3.9zM413.45 221.75h3.9v3.9h-3.9zM411.65 223.15h3.9v3.9h-3.9zM419.65 221.75h3.9v3.9h-3.9zM417.85 223.35h3.9v3.9h-3.9zM420.45 222.65h3.9v3.9h-3.9zM420.45 223.45h3.9v3.9h-3.9zM417.65 221.05h3.9v3.9h-3.9zM421.35 220.95h3.9v3.9h-3.9zM426.95 220.85h3.9v3.9h-3.9zM425.05 222.05h3.9v3.9h-3.9zM431.45 221.25h3.9v3.9h-3.9zM434.05 221.85h3.9v3.9h-3.9zM430.75 221.45h3.9v3.9h-3.9zM431.95 223.25h3.9v3.9h-3.9zM435.45 222.05h3.9v3.9h-3.9zM439.25 222.65h3.9v3.9h-3.9zM447.35 220.85h3.9v3.9h-3.9zM444.15 223.35h3.9v3.9h-3.9zM443.55 222.35h3.9v3.9h-3.9zM443.95 222.75h3.9v3.9h-3.9zM447.15 220.95h3.9v3.9h-3.9zM444.35 223.45h3.9v3.9h-3.9zM444.35 223.75h3.9v3.9h-3.9zM443.45 222.35h3.9v3.9h-3.9zM442.75 223.45h3.9v3.9h-3.9zM454.35 223.15h3.9v3.9h-3.9zM449.85 222.55h3.9v3.9h-3.9zM450.55 222.25h3.9v3.9h-3.9zM454.55 222.15h3.9v3.9h-3.9zM452.05 220.95h3.9v3.9h-3.9zM461.05 222.55h3.9v3.9h-3.9zM460.75 222.55h3.9v3.9h-3.9zM466.45 222.75h3.9v3.9h-3.9zM462.75 221.45h3.9v3.9h-3.9zM469.35 222.95h3.9v3.9h-3.9zM468.25 222.35h3.9v3.9h-3.9zM468.65 221.25h3.9v3.9h-3.9zM473.15 223.45h3.9v3.9h-3.9zM471.45 223.75h3.9v3.9h-3.9zM472.75 222.45h3.9v3.9h-3.9zM475.35 223.05h3.9v3.9h-3.9zM487.55 222.45h3.9v3.9h-3.9zM483.05 220.95h3.9v3.9h-3.9zM485.25 220.85h3.9v3.9h-3.9zM487.05 221.25h3.9v3.9h-3.9zM493.85 221.55h3.9v3.9h-3.9zM491.75 220.85h3.9v3.9h-3.9zM491.75 223.75h3.9v3.9h-3.9zM490.55 223.05h3.9v3.9h-3.9zM490.15 221.95h3.9v3.9h-3.9zM490.55 223.45h3.9v3.9h-3.9zM498.25 222.55h3.9v3.9h-3.9zM502.95 221.35h3.9v3.9h-3.9zM501.55 221.45h3.9v3.9h-3.9zM505.65 221.95h3.9v3.9h-3.9zM504.25 221.45h3.9v3.9h-3.9zM512.45 223.75h3.9v3.9h-3.9zM511.45 223.55h3.9v3.9h-3.9zM509.05 223.15h3.9v3.9h-3.9zM515.05 220.75h3.9v3.9h-3.9zM525.95 221.55h3.9v3.9h-3.9zM526.75 221.35h3.9v3.9h-3.9zM530.45 221.75h3.9v3.9h-3.9zM530.65 222.45h3.9v3.9h-3.9zM533.35 221.75h3.9v3.9h-3.9zM531.35 221.65h3.9v3.9h-3.9zM530.65 220.95h3.9v3.9h-3.9zM531.25 222.65h3.9v3.9h-3.9zM540.65 222.05h3.9v3.9h-3.9zM535.65 222.35h3.9v3.9h-3.9zM538.95 221.65h3.9v3.9h-3.9zM559.45 221.25h3.9v3.9h-3.9zM562.15 221.15h3.9v3.9h-3.9zM572.95 223.25h3.9v3.9h-3.9zM573.15 222.75h3.9v3.9h-3.9zM588.95 223.85h3.9v3.9h-3.9zM594.25 223.15h3.9v3.9h-3.9zM597.85 221.65h3.9v3.9h-3.9zM296.25 225.65h3.9v3.9h-3.9zM324.65 225.35h3.9v3.9h-3.9zM332.85 225.85h3.9v3.9h-3.9zM341.35 224.05h3.9v3.9h-3.9zM338.65 226.15h3.9v3.9h-3.9zM346.75 225.95h3.9v3.9h-3.9zM357.65 225.15h3.9v3.9h-3.9zM361.75 226.75h3.9v3.9h-3.9zM369.15 224.55h3.9v3.9h-3.9zM379.55 225.85h3.9v3.9h-3.9zM378.35 226.45h3.9v3.9h-3.9zM394.65 226.25h3.9v3.9h-3.9zM400.95 226.25h3.9v3.9h-3.9zM407.45 224.75h3.9v3.9h-3.9zM404.75 226.55h3.9v3.9h-3.9zM401.95 224.85h3.9v3.9h-3.9zM407.25 225.05h3.9v3.9h-3.9zM407.85 226.05h3.9v3.9h-3.9zM413.25 225.35h3.9v3.9h-3.9zM408.95 226.45h3.9v3.9h-3.9zM409.65 225.75h3.9v3.9h-3.9zM418.75 224.15h3.9v3.9h-3.9zM416.25 224.45h3.9v3.9h-3.9zM423.95 224.85h3.9v3.9h-3.9zM425.35 225.95h3.9v3.9h-3.9zM423.55 225.15h3.9v3.9h-3.9zM424.25 224.85h3.9v3.9h-3.9zM422.15 226.15h3.9v3.9h-3.9zM429.85 225.15h3.9v3.9h-3.9zM435.95 226.55h3.9v3.9h-3.9zM437.55 225.05h3.9v3.9h-3.9zM437.35 224.85h3.9v3.9h-3.9zM436.25 224.75h3.9v3.9h-3.9zM438.15 225.25h3.9v3.9h-3.9zM441.75 225.25h3.9v3.9h-3.9zM452.75 226.05h3.9v3.9h-3.9zM450.25 225.85h3.9v3.9h-3.9zM449.65 224.15h3.9v3.9h-3.9zM450.45 225.55h3.9v3.9h-3.9zM450.85 224.65h3.9v3.9h-3.9zM454.65 225.95h3.9v3.9h-3.9zM450.05 224.05h3.9v3.9h-3.9zM457.45 225.65h3.9v3.9h-3.9zM455.85 225.75h3.9v3.9h-3.9zM459.55 224.65h3.9v3.9h-3.9zM458.95 224.95h3.9v3.9h-3.9zM459.35 225.25h3.9v3.9h-3.9zM461.25 225.25h3.9v3.9h-3.9zM455.15 224.05h3.9v3.9h-3.9zM464.15 226.45h3.9v3.9h-3.9zM465.05 225.15h3.9v3.9h-3.9zM464.55 225.65h3.9v3.9h-3.9zM464.45 226.05h3.9v3.9h-3.9zM471.15 224.45h3.9v3.9h-3.9zM469.35 224.35h3.9v3.9h-3.9zM475.05 226.35h3.9v3.9h-3.9zM478.05 226.85h3.9v3.9h-3.9zM478.95 224.55h3.9v3.9h-3.9zM481.25 224.15h3.9v3.9h-3.9zM475.85 224.25h3.9v3.9h-3.9zM487.35 224.25h3.9v3.9h-3.9zM488.55 224.95h3.9v3.9h-3.9zM489.85 226.05h3.9v3.9h-3.9zM498.95 225.05h3.9v3.9h-3.9zM497.95 226.05h3.9v3.9h-3.9zM499.15 225.05h3.9v3.9h-3.9zM499.95 225.65h3.9v3.9h-3.9zM496.15 224.45h3.9v3.9h-3.9zM505.15 224.05h3.9v3.9h-3.9zM501.65 225.95h3.9v3.9h-3.9zM504.85 225.15h3.9v3.9h-3.9zM514.05 224.05h3.9v3.9h-3.9zM511.75 224.35h3.9v3.9h-3.9zM510.25 223.95h3.9v3.9h-3.9zM517.25 225.75h3.9v3.9h-3.9zM518.25 224.15h3.9v3.9h-3.9zM525.05 226.25h3.9v3.9h-3.9zM523.85 226.85h3.9v3.9h-3.9zM525.85 226.55h3.9v3.9h-3.9zM532.15 225.95h3.9v3.9h-3.9zM538.05 224.55h3.9v3.9h-3.9zM540.75 226.65h3.9v3.9h-3.9zM544.55 224.45h3.9v3.9h-3.9zM547.55 224.65h3.9v3.9h-3.9zM541.65 226.25h3.9v3.9h-3.9zM553.65 226.35h3.9v3.9h-3.9zM551.85 223.85h3.9v3.9h-3.9zM555.05 224.85h3.9v3.9h-3.9zM563.85 226.65h3.9v3.9h-3.9zM569.65 225.55h3.9v3.9h-3.9zM578.35 224.45h3.9v3.9h-3.9zM581.65 225.25h3.9v3.9h-3.9zM586.35 224.65h3.9v3.9h-3.9zM599.45 225.05h3.9v3.9h-3.9zM318.05 229.55h3.9v3.9h-3.9zM329.25 227.95h3.9v3.9h-3.9zM350.15 229.95h3.9v3.9h-3.9zM382.15 228.85h3.9v3.9h-3.9zM391.75 227.45h3.9v3.9h-3.9zM396.85 227.95h3.9v3.9h-3.9zM404.95 227.75h3.9v3.9h-3.9zM407.45 229.75h3.9v3.9h-3.9zM407.45 228.15h3.9v3.9h-3.9zM406.65 227.85h3.9v3.9h-3.9zM415.05 228.65h3.9v3.9h-3.9zM413.65 229.55h3.9v3.9h-3.9zM413.85 227.25h3.9v3.9h-3.9zM416.05 229.35h3.9v3.9h-3.9zM420.95 226.95h3.9v3.9h-3.9zM417.35 227.25h3.9v3.9h-3.9zM417.95 226.95h3.9v3.9h-3.9zM428.15 227.35h3.9v3.9h-3.9zM427.85 229.15h3.9v3.9h-3.9zM432.15 227.35h3.9v3.9h-3.9zM432.25 228.45h3.9v3.9h-3.9zM429.65 229.85h3.9v3.9h-3.9zM439.85 227.15h3.9v3.9h-3.9zM438.75 229.45h3.9v3.9h-3.9zM437.95 228.45h3.9v3.9h-3.9zM439.55 229.35h3.9v3.9h-3.9zM437.15 228.75h3.9v3.9h-3.9zM440.35 228.85h3.9v3.9h-3.9zM446.15 228.65h3.9v3.9h-3.9zM447.65 227.65h3.9v3.9h-3.9zM441.75 227.95h3.9v3.9h-3.9zM444.45 229.05h3.9v3.9h-3.9zM454.75 227.15h3.9v3.9h-3.9zM449.95 227.15h3.9v3.9h-3.9zM453.55 229.85h3.9v3.9h-3.9zM460.95 229.55h3.9v3.9h-3.9zM458.05 228.65h3.9v3.9h-3.9zM455.35 228.15h3.9v3.9h-3.9zM460.15 227.05h3.9v3.9h-3.9zM456.15 228.65h3.9v3.9h-3.9zM474.35 228.55h3.9v3.9h-3.9zM472.65 227.15h3.9v3.9h-3.9zM471.55 228.55h3.9v3.9h-3.9zM478.75 227.95h3.9v3.9h-3.9zM479.35 227.75h3.9v3.9h-3.9zM483.25 228.55h3.9v3.9h-3.9zM483.75 227.75h3.9v3.9h-3.9zM487.95 229.85h3.9v3.9h-3.9zM484.75 228.65h3.9v3.9h-3.9zM486.75 228.85h3.9v3.9h-3.9zM490.65 227.15h3.9v3.9h-3.9zM491.75 227.05h3.9v3.9h-3.9zM490.85 227.35h3.9v3.9h-3.9zM499.95 227.55h3.9v3.9h-3.9zM496.05 228.25h3.9v3.9h-3.9zM498.65 227.55h3.9v3.9h-3.9zM502.95 228.15h3.9v3.9h-3.9zM512.55 229.25h3.9v3.9h-3.9zM513.95 229.15h3.9v3.9h-3.9zM512.05 228.85h3.9v3.9h-3.9zM510.35 229.65h3.9v3.9h-3.9zM517.85 229.65h3.9v3.9h-3.9zM518.75 226.95h3.9v3.9h-3.9zM522.35 228.35h3.9v3.9h-3.9zM535.85 227.85h3.9v3.9h-3.9zM538.45 229.45h3.9v3.9h-3.9zM535.55 228.55h3.9v3.9h-3.9zM538.65 227.65h3.9v3.9h-3.9zM543.25 227.55h3.9v3.9h-3.9zM549.65 228.75h3.9v3.9h-3.9zM557.55 228.35h3.9v3.9h-3.9zM561.95 229.05h3.9v3.9h-3.9zM579.85 227.65h3.9v3.9h-3.9zM586.05 228.65h3.9v3.9h-3.9zM580.75 228.75h3.9v3.9h-3.9zM298.35 231.75h3.9v3.9h-3.9zM350.55 231.45h3.9v3.9h-3.9zM361.05 232.45h3.9v3.9h-3.9zM357.85 232.35h3.9v3.9h-3.9zM358.75 231.75h3.9v3.9h-3.9zM356.55 232.25h3.9v3.9h-3.9zM373.85 232.95h3.9v3.9h-3.9zM378.95 231.95h3.9v3.9h-3.9zM377.75 232.75h3.9v3.9h-3.9zM388.45 230.65h3.9v3.9h-3.9zM392.45 230.25h3.9v3.9h-3.9zM394.65 232.65h3.9v3.9h-3.9zM394.65 230.65h3.9v3.9h-3.9zM392.25 232.55h3.9v3.9h-3.9zM399.75 231.05h3.9v3.9h-3.9zM396.15 231.55h3.9v3.9h-3.9zM404.75 231.25h3.9v3.9h-3.9zM410.05 231.05h3.9v3.9h-3.9zM408.65 231.55h3.9v3.9h-3.9zM414.45 230.75h3.9v3.9h-3.9zM421.25 230.25h3.9v3.9h-3.9zM418.05 230.95h3.9v3.9h-3.9zM418.45 231.65h3.9v3.9h-3.9zM419.65 230.85h3.9v3.9h-3.9zM421.25 232.95h3.9v3.9h-3.9zM425.85 231.35h3.9v3.9h-3.9zM423.85 232.05h3.9v3.9h-3.9zM424.25 232.75h3.9v3.9h-3.9zM431.45 230.45h3.9v3.9h-3.9zM435.85 232.15h3.9v3.9h-3.9zM440.65 231.85h3.9v3.9h-3.9zM444.75 231.15h3.9v3.9h-3.9zM445.75 230.45h3.9v3.9h-3.9zM442.95 231.65h3.9v3.9h-3.9zM442.55 230.45h3.9v3.9h-3.9zM445.25 231.35h3.9v3.9h-3.9zM447.05 233.05h3.9v3.9h-3.9zM449.85 231.25h3.9v3.9h-3.9zM453.85 230.05h3.9v3.9h-3.9zM454.85 232.25h3.9v3.9h-3.9zM451.55 230.85h3.9v3.9h-3.9zM449.85 231.05h3.9v3.9h-3.9zM453.05 231.95h3.9v3.9h-3.9zM457.35 232.15h3.9v3.9h-3.9zM454.95 232.85h3.9v3.9h-3.9zM454.95 231.35h3.9v3.9h-3.9zM461.75 232.75h3.9v3.9h-3.9zM467.55 232.65h3.9v3.9h-3.9zM466.05 230.45h3.9v3.9h-3.9zM469.15 233.05h3.9v3.9h-3.9zM470.25 230.45h3.9v3.9h-3.9zM469.15 232.95h3.9v3.9h-3.9zM473.45 231.35h3.9v3.9h-3.9zM468.45 232.45h3.9v3.9h-3.9zM468.15 232.25h3.9v3.9h-3.9zM479.15 232.65h3.9v3.9h-3.9zM477.75 232.65h3.9v3.9h-3.9zM482.55 233.05h3.9v3.9h-3.9zM484.75 229.95h3.9v3.9h-3.9zM493.35 231.05h3.9v3.9h-3.9zM489.75 232.65h3.9v3.9h-3.9zM495.05 233.05h3.9v3.9h-3.9zM498.65 231.65h3.9v3.9h-3.9zM507.15 232.95h3.9v3.9h-3.9zM506.55 230.45h3.9v3.9h-3.9zM504.25 232.75h3.9v3.9h-3.9zM504.15 230.65h3.9v3.9h-3.9zM504.35 230.35h3.9v3.9h-3.9zM507.85 231.25h3.9v3.9h-3.9zM518.65 230.55h3.9v3.9h-3.9zM517.65 230.55h3.9v3.9h-3.9zM517.15 232.45h3.9v3.9h-3.9zM523.95 231.15h3.9v3.9h-3.9zM523.55 231.45h3.9v3.9h-3.9zM525.55 230.05h3.9v3.9h-3.9zM532.65 232.85h3.9v3.9h-3.9zM538.35 231.45h3.9v3.9h-3.9zM537.75 231.25h3.9v3.9h-3.9zM534.45 231.05h3.9v3.9h-3.9zM534.55 232.75h3.9v3.9h-3.9zM545.15 232.65h3.9v3.9h-3.9zM550.15 231.05h3.9v3.9h-3.9zM548.15 230.95h3.9v3.9h-3.9zM562.85 233.05h3.9v3.9h-3.9zM581.05 231.75h3.9v3.9h-3.9zM596.15 231.55h3.9v3.9h-3.9zM308.75 235.55h3.9v3.9h-3.9zM344.65 235.85h3.9v3.9h-3.9zM355.05 234.65h3.9v3.9h-3.9zM348.95 235.75h3.9v3.9h-3.9zM372.75 234.75h3.9v3.9h-3.9zM376.95 235.75h3.9v3.9h-3.9zM380.05 235.85h3.9v3.9h-3.9zM378.05 235.95h3.9v3.9h-3.9zM390.95 233.75h3.9v3.9h-3.9zM392.85 235.15h3.9v3.9h-3.9zM392.65 234.25h3.9v3.9h-3.9zM404.45 233.15h3.9v3.9h-3.9zM403.25 234.05h3.9v3.9h-3.9zM401.95 234.15h3.9v3.9h-3.9zM403.95 234.35h3.9v3.9h-3.9zM410.65 234.45h3.9v3.9h-3.9zM413.05 233.55h3.9v3.9h-3.9zM413.15 236.05h3.9v3.9h-3.9zM413.35 235.15h3.9v3.9h-3.9zM418.85 234.25h3.9v3.9h-3.9zM426.35 233.35h3.9v3.9h-3.9zM424.25 233.35h3.9v3.9h-3.9zM430.25 234.35h3.9v3.9h-3.9zM428.45 235.75h3.9v3.9h-3.9zM432.65 233.15h3.9v3.9h-3.9zM440.15 233.65h3.9v3.9h-3.9zM440.45 234.55h3.9v3.9h-3.9zM443.15 235.45h3.9v3.9h-3.9zM444.65 233.15h3.9v3.9h-3.9zM447.55 233.45h3.9v3.9h-3.9zM446.55 233.55h3.9v3.9h-3.9zM444.65 234.65h3.9v3.9h-3.9zM454.45 233.55h3.9v3.9h-3.9zM454.05 235.85h3.9v3.9h-3.9zM452.35 233.15h3.9v3.9h-3.9zM450.05 233.75h3.9v3.9h-3.9zM460.25 234.35h3.9v3.9h-3.9zM458.25 234.45h3.9v3.9h-3.9zM457.25 234.65h3.9v3.9h-3.9zM458.75 234.05h3.9v3.9h-3.9zM465.65 234.75h3.9v3.9h-3.9zM466.35 235.05h3.9v3.9h-3.9zM473.35 235.85h3.9v3.9h-3.9zM472.45 234.65h3.9v3.9h-3.9zM470.15 234.75h3.9v3.9h-3.9zM476.15 234.75h3.9v3.9h-3.9zM480.55 233.95h3.9v3.9h-3.9zM478.05 234.05h3.9v3.9h-3.9zM485.85 234.15h3.9v3.9h-3.9zM491.75 235.85h3.9v3.9h-3.9zM490.95 234.65h3.9v3.9h-3.9zM488.55 234.95h3.9v3.9h-3.9zM491.85 235.95h3.9v3.9h-3.9zM488.45 233.75h3.9v3.9h-3.9zM492.95 235.45h3.9v3.9h-3.9zM497.95 235.05h3.9v3.9h-3.9zM495.45 235.35h3.9v3.9h-3.9zM500.75 234.95h3.9v3.9h-3.9zM498.85 235.35h3.9v3.9h-3.9zM498.95 233.45h3.9v3.9h-3.9zM500.15 235.45h3.9v3.9h-3.9zM502.85 234.15h3.9v3.9h-3.9zM504.45 235.45h3.9v3.9h-3.9zM511.45 234.25h3.9v3.9h-3.9zM511.55 234.35h3.9v3.9h-3.9zM512.25 235.35h3.9v3.9h-3.9zM510.65 234.55h3.9v3.9h-3.9zM515.15 233.95h3.9v3.9h-3.9zM517.35 234.55h3.9v3.9h-3.9zM526.45 235.25h3.9v3.9h-3.9zM522.45 233.95h3.9v3.9h-3.9zM528.85 236.05h3.9v3.9h-3.9zM529.75 234.95h3.9v3.9h-3.9zM529.55 233.45h3.9v3.9h-3.9zM533.05 235.35h3.9v3.9h-3.9zM539.45 233.95h3.9v3.9h-3.9zM547.55 233.45h3.9v3.9h-3.9zM551.75 235.45h3.9v3.9h-3.9zM565.55 235.25h3.9v3.9h-3.9zM562.75 235.75h3.9v3.9h-3.9zM568.85 233.45h3.9v3.9h-3.9zM577.55 234.35h3.9v3.9h-3.9zM285.45 238.05h3.9v3.9h-3.9zM302.15 238.05h3.9v3.9h-3.9zM298.25 238.55h3.9v3.9h-3.9zM309.75 236.95h3.9v3.9h-3.9zM322.15 236.35h3.9v3.9h-3.9zM318.55 238.75h3.9v3.9h-3.9zM354.35 236.35h3.9v3.9h-3.9zM363.25 236.95h3.9v3.9h-3.9zM368.35 236.45h3.9v3.9h-3.9zM387.25 237.55h3.9v3.9h-3.9zM387.45 237.25h3.9v3.9h-3.9zM389.85 238.75h3.9v3.9h-3.9zM390.95 239.05h3.9v3.9h-3.9zM401.15 238.75h3.9v3.9h-3.9zM403.75 238.95h3.9v3.9h-3.9zM407.65 236.35h3.9v3.9h-3.9zM411.25 238.85h3.9v3.9h-3.9zM408.55 236.55h3.9v3.9h-3.9zM413.15 237.35h3.9v3.9h-3.9zM419.95 236.45h3.9v3.9h-3.9zM418.95 239.15h3.9v3.9h-3.9zM421.45 236.35h3.9v3.9h-3.9zM427.75 237.35h3.9v3.9h-3.9zM427.85 236.35h3.9v3.9h-3.9zM425.25 237.95h3.9v3.9h-3.9zM433.95 238.85h3.9v3.9h-3.9zM433.85 238.05h3.9v3.9h-3.9zM431.05 237.55h3.9v3.9h-3.9zM438.45 236.25h3.9v3.9h-3.9zM448.95 236.35h3.9v3.9h-3.9zM452.15 238.45h3.9v3.9h-3.9zM451.25 236.25h3.9v3.9h-3.9zM458.55 236.15h3.9v3.9h-3.9zM457.15 236.75h3.9v3.9h-3.9zM461.05 238.35h3.9v3.9h-3.9zM456.55 238.35h3.9v3.9h-3.9zM455.65 236.35h3.9v3.9h-3.9zM464.35 237.35h3.9v3.9h-3.9zM466.05 237.55h3.9v3.9h-3.9zM463.05 236.95h3.9v3.9h-3.9zM465.15 236.35h3.9v3.9h-3.9zM469.45 236.25h3.9v3.9h-3.9zM478.05 238.05h3.9v3.9h-3.9zM478.95 238.95h3.9v3.9h-3.9zM475.05 236.35h3.9v3.9h-3.9zM475.15 236.45h3.9v3.9h-3.9zM484.35 236.75h3.9v3.9h-3.9zM482.75 237.25h3.9v3.9h-3.9zM482.15 238.05h3.9v3.9h-3.9zM482.95 239.05h3.9v3.9h-3.9zM483.55 238.45h3.9v3.9h-3.9zM490.85 237.75h3.9v3.9h-3.9zM495.15 238.75h3.9v3.9h-3.9zM495.05 239.05h3.9v3.9h-3.9zM507.25 237.55h3.9v3.9h-3.9zM503.65 236.15h3.9v3.9h-3.9zM513.45 237.55h3.9v3.9h-3.9zM511.95 237.95h3.9v3.9h-3.9zM508.65 237.95h3.9v3.9h-3.9zM515.55 237.45h3.9v3.9h-3.9zM520.75 237.55h3.9v3.9h-3.9zM526.05 238.75h3.9v3.9h-3.9zM536.35 237.55h3.9v3.9h-3.9zM559.25 236.55h3.9v3.9h-3.9zM575.45 237.95h3.9v3.9h-3.9zM587.65 238.25h3.9v3.9h-3.9zM297.55 240.35h3.9v3.9h-3.9zM311.85 239.85h3.9v3.9h-3.9zM348.75 240.35h3.9v3.9h-3.9zM355.55 239.95h3.9v3.9h-3.9zM377.95 240.35h3.9v3.9h-3.9zM376.15 240.05h3.9v3.9h-3.9zM394.15 240.95h3.9v3.9h-3.9zM391.75 241.45h3.9v3.9h-3.9zM400.25 239.45h3.9v3.9h-3.9zM405.25 239.75h3.9v3.9h-3.9zM410.65 239.55h3.9v3.9h-3.9zM412.45 240.45h3.9v3.9h-3.9zM419.05 239.25h3.9v3.9h-3.9zM421.15 240.95h3.9v3.9h-3.9zM423.75 240.15h3.9v3.9h-3.9zM422.85 242.15h3.9v3.9h-3.9zM433.95 239.55h3.9v3.9h-3.9zM434.85 239.75h3.9v3.9h-3.9zM437.05 239.45h3.9v3.9h-3.9zM443.55 239.25h3.9v3.9h-3.9zM457.85 240.25h3.9v3.9h-3.9zM461.35 242.15h3.9v3.9h-3.9zM465.05 241.95h3.9v3.9h-3.9zM467.25 241.35h3.9v3.9h-3.9zM472.65 239.95h3.9v3.9h-3.9zM473.95 239.85h3.9v3.9h-3.9zM473.85 241.15h3.9v3.9h-3.9zM478.15 242.25h3.9v3.9h-3.9zM479.35 241.45h3.9v3.9h-3.9zM483.45 240.25h3.9v3.9h-3.9zM481.95 242.05h3.9v3.9h-3.9zM483.05 241.75h3.9v3.9h-3.9zM483.65 240.15h3.9v3.9h-3.9zM497.05 241.55h3.9v3.9h-3.9zM505.95 241.95h3.9v3.9h-3.9zM509.15 241.65h3.9v3.9h-3.9zM510.45 240.65h3.9v3.9h-3.9zM512.45 240.45h3.9v3.9h-3.9zM509.55 240.05h3.9v3.9h-3.9zM517.15 240.75h3.9v3.9h-3.9zM517.85 241.05h3.9v3.9h-3.9zM515.85 240.55h3.9v3.9h-3.9zM519.35 240.05h3.9v3.9h-3.9zM521.75 241.25h3.9v3.9h-3.9zM526.05 239.55h3.9v3.9h-3.9zM522.25 241.95h3.9v3.9h-3.9zM533.65 241.05h3.9v3.9h-3.9zM529.15 241.35h3.9v3.9h-3.9zM540.85 239.25h3.9v3.9h-3.9zM542.15 242.15h3.9v3.9h-3.9zM541.55 240.25h3.9v3.9h-3.9zM549.85 240.45h3.9v3.9h-3.9zM555.85 240.55h3.9v3.9h-3.9zM561.55 239.35h3.9v3.9h-3.9zM571.65 239.35h3.9v3.9h-3.9zM568.35 242.05h3.9v3.9h-3.9zM579.05 239.85h3.9v3.9h-3.9zM585.65 240.75h3.9v3.9h-3.9zM582.55 239.65h3.9v3.9h-3.9zM293.15 244.85h3.9v3.9h-3.9zM314.65 244.35h3.9v3.9h-3.9zM331.85 242.35h3.9v3.9h-3.9zM345.55 242.95h3.9v3.9h-3.9zM343.55 244.75h3.9v3.9h-3.9zM380.25 244.45h3.9v3.9h-3.9zM411.45 244.05h3.9v3.9h-3.9zM410.55 243.95h3.9v3.9h-3.9zM410.55 243.75h3.9v3.9h-3.9zM419.15 243.55h3.9v3.9h-3.9zM417.45 243.45h3.9v3.9h-3.9zM425.95 244.25h3.9v3.9h-3.9zM433.95 243.55h3.9v3.9h-3.9zM434.65 243.05h3.9v3.9h-3.9zM438.15 245.15h3.9v3.9h-3.9zM435.15 244.55h3.9v3.9h-3.9zM453.55 242.35h3.9v3.9h-3.9zM449.85 244.55h3.9v3.9h-3.9zM452.95 243.85h3.9v3.9h-3.9zM464.85 244.45h3.9v3.9h-3.9zM472.35 243.45h3.9v3.9h-3.9zM476.25 244.65h3.9v3.9h-3.9zM477.75 243.25h3.9v3.9h-3.9zM481.75 243.15h3.9v3.9h-3.9zM482.85 242.65h3.9v3.9h-3.9zM481.45 244.05h3.9v3.9h-3.9zM488.15 244.85h3.9v3.9h-3.9zM492.95 244.85h3.9v3.9h-3.9zM500.75 242.55h3.9v3.9h-3.9zM503.25 245.15h3.9v3.9h-3.9zM511.25 245.05h3.9v3.9h-3.9zM513.55 242.45h3.9v3.9h-3.9zM514.85 243.45h3.9v3.9h-3.9zM526.15 245.15h3.9v3.9h-3.9zM532.45 242.75h3.9v3.9h-3.9zM540.15 244.45h3.9v3.9h-3.9zM535.25 244.55h3.9v3.9h-3.9zM537.55 243.95h3.9v3.9h-3.9zM543.75 244.95h3.9v3.9h-3.9zM542.25 243.35h3.9v3.9h-3.9zM548.15 243.65h3.9v3.9h-3.9zM554.45 243.15h3.9v3.9h-3.9zM560.45 243.15h3.9v3.9h-3.9zM566.85 243.65h3.9v3.9h-3.9zM561.05 244.95h3.9v3.9h-3.9zM570.15 243.55h3.9v3.9h-3.9zM581.95 245.25h3.9v3.9h-3.9zM584.75 242.75h3.9v3.9h-3.9zM587.65 245.05h3.9v3.9h-3.9zM591.75 245.35h3.9v3.9h-3.9zM593.85 244.35h3.9v3.9h-3.9zM587.95 245.05h3.9v3.9h-3.9zM342.35 247.25h3.9v3.9h-3.9zM365.85 247.85h3.9v3.9h-3.9zM381.65 245.45h3.9v3.9h-3.9zM392.95 246.35h3.9v3.9h-3.9zM401.45 245.85h3.9v3.9h-3.9zM395.65 246.25h3.9v3.9h-3.9zM410.95 245.45h3.9v3.9h-3.9zM413.25 246.65h3.9v3.9h-3.9zM419.25 246.05h3.9v3.9h-3.9zM421.25 248.35h3.9v3.9h-3.9zM422.05 246.55h3.9v3.9h-3.9zM423.85 245.95h3.9v3.9h-3.9zM430.65 247.55h3.9v3.9h-3.9zM443.25 245.75h3.9v3.9h-3.9zM443.45 247.55h3.9v3.9h-3.9zM446.25 246.75h3.9v3.9h-3.9zM458.55 246.75h3.9v3.9h-3.9zM461.15 245.55h3.9v3.9h-3.9zM457.65 248.25h3.9v3.9h-3.9zM469.05 246.05h3.9v3.9h-3.9zM468.55 246.35h3.9v3.9h-3.9zM471.65 246.35h3.9v3.9h-3.9zM472.45 245.45h3.9v3.9h-3.9zM484.05 247.25h3.9v3.9h-3.9zM488.45 245.35h3.9v3.9h-3.9zM495.05 245.55h3.9v3.9h-3.9zM499.65 246.95h3.9v3.9h-3.9zM498.85 246.55h3.9v3.9h-3.9zM496.45 245.95h3.9v3.9h-3.9zM497.95 246.75h3.9v3.9h-3.9zM507.15 245.95h3.9v3.9h-3.9zM503.95 246.15h3.9v3.9h-3.9zM501.25 245.55h3.9v3.9h-3.9zM518.75 247.05h3.9v3.9h-3.9zM522.95 247.45h3.9v3.9h-3.9zM531.05 247.35h3.9v3.9h-3.9zM533.75 246.75h3.9v3.9h-3.9zM529.65 245.55h3.9v3.9h-3.9zM529.05 245.65h3.9v3.9h-3.9zM539.85 245.75h3.9v3.9h-3.9zM542.85 245.95h3.9v3.9h-3.9zM551.15 246.85h3.9v3.9h-3.9zM571.75 247.75h3.9v3.9h-3.9zM575.55 247.45h3.9v3.9h-3.9zM582.85 247.85h3.9v3.9h-3.9zM600.05 246.35h3.9v3.9h-3.9zM598.15 246.75h3.9v3.9h-3.9zM310.45 249.75h3.9v3.9h-3.9zM336.75 249.85h3.9v3.9h-3.9zM354.75 251.45h3.9v3.9h-3.9zM362.05 250.15h3.9v3.9h-3.9zM362.25 251.45h3.9v3.9h-3.9zM373.35 249.55h3.9v3.9h-3.9zM409.45 250.75h3.9v3.9h-3.9zM415.95 251.25h3.9v3.9h-3.9zM419.55 249.75h3.9v3.9h-3.9zM420.95 248.65h3.9v3.9h-3.9zM421.95 250.95h3.9v3.9h-3.9zM432.85 251.35h3.9v3.9h-3.9zM440.95 248.95h3.9v3.9h-3.9zM436.25 249.55h3.9v3.9h-3.9zM440.75 248.75h3.9v3.9h-3.9zM437.05 249.95h3.9v3.9h-3.9zM444.05 248.85h3.9v3.9h-3.9zM442.75 251.05h3.9v3.9h-3.9zM443.85 249.75h3.9v3.9h-3.9zM454.75 250.25h3.9v3.9h-3.9zM458.95 250.85h3.9v3.9h-3.9zM467.45 250.55h3.9v3.9h-3.9zM466.45 248.95h3.9v3.9h-3.9zM472.85 248.75h3.9v3.9h-3.9zM473.05 249.55h3.9v3.9h-3.9zM484.75 249.85h3.9v3.9h-3.9zM481.75 249.85h3.9v3.9h-3.9zM488.15 250.95h3.9v3.9h-3.9zM492.75 248.45h3.9v3.9h-3.9zM505.15 251.15h3.9v3.9h-3.9zM505.65 248.45h3.9v3.9h-3.9zM512.35 250.65h3.9v3.9h-3.9zM508.05 251.05h3.9v3.9h-3.9zM509.05 249.85h3.9v3.9h-3.9zM515.55 249.85h3.9v3.9h-3.9zM526.65 250.25h3.9v3.9h-3.9zM525.45 250.25h3.9v3.9h-3.9zM535.75 251.15h3.9v3.9h-3.9zM542.45 249.55h3.9v3.9h-3.9zM543.25 249.75h3.9v3.9h-3.9zM548.85 250.55h3.9v3.9h-3.9zM559.25 249.15h3.9v3.9h-3.9zM566.75 250.35h3.9v3.9h-3.9zM561.25 250.05h3.9v3.9h-3.9zM566.45 250.75h3.9v3.9h-3.9zM573.35 250.75h3.9v3.9h-3.9zM582.15 250.25h3.9v3.9h-3.9zM593.75 250.75h3.9v3.9h-3.9zM593.55 249.75h3.9v3.9h-3.9zM347.65 253.65h3.9v3.9h-3.9zM372.75 253.75h3.9v3.9h-3.9zM380.45 253.25h3.9v3.9h-3.9zM386.85 254.35h3.9v3.9h-3.9zM391.45 254.45h3.9v3.9h-3.9zM417.55 254.25h3.9v3.9h-3.9zM426.25 254.25h3.9v3.9h-3.9zM446.05 253.85h3.9v3.9h-3.9zM454.85 252.05h3.9v3.9h-3.9zM459.55 251.65h3.9v3.9h-3.9zM465.85 252.65h3.9v3.9h-3.9zM480.35 253.75h3.9v3.9h-3.9zM479.15 252.75h3.9v3.9h-3.9zM482.85 253.55h3.9v3.9h-3.9zM488.05 252.05h3.9v3.9h-3.9zM498.65 252.65h3.9v3.9h-3.9zM507.45 254.45h3.9v3.9h-3.9zM513.25 254.45h3.9v3.9h-3.9zM509.95 253.25h3.9v3.9h-3.9zM516.05 254.05h3.9v3.9h-3.9zM525.55 251.65h3.9v3.9h-3.9zM546.95 252.85h3.9v3.9h-3.9zM542.35 253.45h3.9v3.9h-3.9zM550.65 254.05h3.9v3.9h-3.9zM558.25 254.35h3.9v3.9h-3.9zM567.25 253.45h3.9v3.9h-3.9zM574.05 253.75h3.9v3.9h-3.9zM595.85 253.15h3.9v3.9h-3.9zM329.05 255.35h3.9v3.9h-3.9zM367.95 256.45h3.9v3.9h-3.9zM383.45 257.05h3.9v3.9h-3.9zM390.05 257.55h3.9v3.9h-3.9zM402.95 256.25h3.9v3.9h-3.9zM403.25 257.55h3.9v3.9h-3.9zM416.65 256.15h3.9v3.9h-3.9zM418.15 257.45h3.9v3.9h-3.9zM442.85 256.45h3.9v3.9h-3.9zM445.35 257.05h3.9v3.9h-3.9zM467.55 256.95h3.9v3.9h-3.9zM469.95 255.45h3.9v3.9h-3.9zM480.85 257.25h3.9v3.9h-3.9zM487.05 257.25h3.9v3.9h-3.9zM493.45 257.15h3.9v3.9h-3.9zM498.75 256.35h3.9v3.9h-3.9zM496.15 255.05h3.9v3.9h-3.9zM503.95 255.55h3.9v3.9h-3.9zM507.75 256.55h3.9v3.9h-3.9zM524.65 255.15h3.9v3.9h-3.9zM521.25 256.15h3.9v3.9h-3.9zM540.45 256.55h3.9v3.9h-3.9zM539.65 256.85h3.9v3.9h-3.9zM544.45 255.45h3.9v3.9h-3.9zM546.55 255.75h3.9v3.9h-3.9zM554.35 257.25h3.9v3.9h-3.9zM570.45 255.25h3.9v3.9h-3.9zM575.65 257.05h3.9v3.9h-3.9zM582.45 254.55h3.9v3.9h-3.9zM598.35 255.85h3.9v3.9h-3.9zM599.45 255.85h3.9v3.9h-3.9zM310.05 259.45h3.9v3.9h-3.9zM403.95 258.75h3.9v3.9h-3.9zM406.95 259.45h3.9v3.9h-3.9zM421.35 258.15h3.9v3.9h-3.9zM427.85 260.15h3.9v3.9h-3.9zM433.05 258.55h3.9v3.9h-3.9zM448.05 257.85h3.9v3.9h-3.9zM464.65 258.55h3.9v3.9h-3.9zM461.55 258.85h3.9v3.9h-3.9zM476.25 258.25h3.9v3.9h-3.9zM489.65 258.15h3.9v3.9h-3.9zM490.55 259.25h3.9v3.9h-3.9zM496.45 260.35h3.9v3.9h-3.9zM511.45 260.05h3.9v3.9h-3.9zM511.15 258.35h3.9v3.9h-3.9zM512.05 259.85h3.9v3.9h-3.9zM514.95 258.55h3.9v3.9h-3.9zM527.65 258.45h3.9v3.9h-3.9zM529.15 257.75h3.9v3.9h-3.9zM536.25 257.95h3.9v3.9h-3.9zM535.75 258.65h3.9v3.9h-3.9zM548.05 259.75h3.9v3.9h-3.9zM572.75 258.05h3.9v3.9h-3.9zM579.85 260.65h3.9v3.9h-3.9zM595.75 259.75h3.9v3.9h-3.9zM334.35 263.05h3.9v3.9h-3.9zM350.35 262.45h3.9v3.9h-3.9zM357.35 263.55h3.9v3.9h-3.9zM399.75 263.65h3.9v3.9h-3.9zM411.65 262.95h3.9v3.9h-3.9zM412.05 261.55h3.9v3.9h-3.9zM417.45 262.35h3.9v3.9h-3.9zM435.95 261.25h3.9v3.9h-3.9zM462.05 262.85h3.9v3.9h-3.9zM482.85 262.15h3.9v3.9h-3.9zM492.85 262.65h3.9v3.9h-3.9zM504.75 262.65h3.9v3.9h-3.9zM506.95 263.25h3.9v3.9h-3.9zM507.05 263.65h3.9v3.9h-3.9zM518.85 262.95h3.9v3.9h-3.9zM517.65 262.85h3.9v3.9h-3.9zM520.65 261.25h3.9v3.9h-3.9zM525.45 263.15h3.9v3.9h-3.9zM553.75 261.85h3.9v3.9h-3.9zM551.35 262.95h3.9v3.9h-3.9zM549.95 261.15h3.9v3.9h-3.9zM584.45 262.25h3.9v3.9h-3.9zM582.35 261.35h3.9v3.9h-3.9zM599.65 261.65h3.9v3.9h-3.9zM594.35 263.25h3.9v3.9h-3.9zM303.15 265.35h3.9v3.9h-3.9zM330.15 264.75h3.9v3.9h-3.9zM367.05 264.55h3.9v3.9h-3.9zM419.85 266.65h3.9v3.9h-3.9zM454.65 266.75h3.9v3.9h-3.9zM457.05 264.45h3.9v3.9h-3.9zM471.15 265.25h3.9v3.9h-3.9zM488.15 265.65h3.9v3.9h-3.9zM498.05 266.15h3.9v3.9h-3.9zM520.45 264.55h3.9v3.9h-3.9zM539.65 265.45h3.9v3.9h-3.9zM547.75 266.65h3.9v3.9h-3.9zM577.15 265.15h3.9v3.9h-3.9zM587.95 266.35h3.9v3.9h-3.9zM596.15 264.15h3.9v3.9h-3.9zM597.95 263.95h3.9v3.9h-3.9zM596.95 263.95h3.9v3.9h-3.9zM381.45 267.75h3.9v3.9h-3.9zM391.15 269.75h3.9v3.9h-3.9zM392.05 269.45h3.9v3.9h-3.9zM417.35 268.25h3.9v3.9h-3.9zM446.45 266.95h3.9v3.9h-3.9zM482.75 267.25h3.9v3.9h-3.9zM519.05 267.55h3.9v3.9h-3.9zM522.35 269.55h3.9v3.9h-3.9zM530.35 268.15h3.9v3.9h-3.9zM539.85 268.45h3.9v3.9h-3.9zM539.75 267.25h3.9v3.9h-3.9zM550.95 267.55h3.9v3.9h-3.9zM550.05 268.35h3.9v3.9h-3.9zM572.75 267.25h3.9v3.9h-3.9zM571.05 267.95h3.9v3.9h-3.9zM587.85 268.45h3.9v3.9h-3.9zM588.35 268.15h3.9v3.9h-3.9zM386.05 271.55h3.9v3.9h-3.9zM398.75 272.05h3.9v3.9h-3.9zM402.25 270.35h3.9v3.9h-3.9zM414.45 271.45h3.9v3.9h-3.9zM443.25 271.65h3.9v3.9h-3.9zM460.05 271.25h3.9v3.9h-3.9zM461.85 272.45h3.9v3.9h-3.9zM470.95 271.85h3.9v3.9h-3.9zM481.25 272.95h3.9v3.9h-3.9zM533.35 271.35h3.9v3.9h-3.9zM527.95 272.05h3.9v3.9h-3.9zM532.95 270.45h3.9v3.9h-3.9zM535.85 270.95h3.9v3.9h-3.9zM544.25 270.85h3.9v3.9h-3.9zM546.55 272.45h3.9v3.9h-3.9zM575.55 272.05h3.9v3.9h-3.9zM383.15 275.75h3.9v3.9h-3.9zM422.75 275.35h3.9v3.9h-3.9zM430.15 273.65h3.9v3.9h-3.9zM430.45 275.25h3.9v3.9h-3.9zM441.55 275.45h3.9v3.9h-3.9zM454.15 274.95h3.9v3.9h-3.9zM457.35 274.85h3.9v3.9h-3.9zM466.25 275.05h3.9v3.9h-3.9zM495.55 275.05h3.9v3.9h-3.9zM503.25 275.65h3.9v3.9h-3.9zM510.95 275.45h3.9v3.9h-3.9zM514.25 274.55h3.9v3.9h-3.9zM517.45 273.05h3.9v3.9h-3.9zM520.85 274.25h3.9v3.9h-3.9zM521.75 273.05h3.9v3.9h-3.9zM539.85 273.95h3.9v3.9h-3.9zM550.15 275.75h3.9v3.9h-3.9zM440.45 277.65h3.9v3.9h-3.9zM439.75 278.05h3.9v3.9h-3.9zM440.15 277.45h3.9v3.9h-3.9zM450.15 278.55h3.9v3.9h-3.9zM472.95 276.95h3.9v3.9h-3.9zM472.25 278.65h3.9v3.9h-3.9zM504.15 277.55h3.9v3.9h-3.9zM501.35 278.55h3.9v3.9h-3.9zM534.75 278.65h3.9v3.9h-3.9zM539.65 277.35h3.9v3.9h-3.9zM546.25 279.05h3.9v3.9h-3.9zM434.85 281.75h3.9v3.9h-3.9zM447.55 281.45h3.9v3.9h-3.9zM450.45 280.35h3.9v3.9h-3.9zM459.55 279.25h3.9v3.9h-3.9zM470.85 280.65h3.9v3.9h-3.9zM483.05 280.05h3.9v3.9h-3.9zM500.85 282.05h3.9v3.9h-3.9zM503.85 281.65h3.9v3.9h-3.9zM522.65 279.35h3.9v3.9h-3.9zM527.95 281.35h3.9v3.9h-3.9zM532.55 280.15h3.9v3.9h-3.9zM562.95 279.45h3.9v3.9h-3.9zM564.55 280.15h3.9v3.9h-3.9zM570.35 280.75h3.9v3.9h-3.9zM385.35 284.45h3.9v3.9h-3.9zM389.25 284.65h3.9v3.9h-3.9zM403.55 282.25h3.9v3.9h-3.9zM441.75 283.25h3.9v3.9h-3.9zM461.25 283.05h3.9v3.9h-3.9zM462.35 284.95h3.9v3.9h-3.9zM462.05 283.25h3.9v3.9h-3.9zM462.65 282.55h3.9v3.9h-3.9zM470.55 283.35h3.9v3.9h-3.9zM473.55 285.15h3.9v3.9h-3.9zM480.75 284.55h3.9v3.9h-3.9zM474.75 282.75h3.9v3.9h-3.9zM476.95 282.85h3.9v3.9h-3.9zM482.95 282.45h3.9v3.9h-3.9zM481.65 282.75h3.9v3.9h-3.9zM497.85 283.95h3.9v3.9h-3.9zM504.35 283.15h3.9v3.9h-3.9zM502.75 284.45h3.9v3.9h-3.9zM512.05 282.55h3.9v3.9h-3.9zM520.55 283.75h3.9v3.9h-3.9zM529.85 282.65h3.9v3.9h-3.9zM529.95 284.45h3.9v3.9h-3.9zM535.75 282.65h3.9v3.9h-3.9zM542.45 283.35h3.9v3.9h-3.9zM552.95 282.75h3.9v3.9h-3.9zM549.15 283.35h3.9v3.9h-3.9zM562.35 282.45h3.9v3.9h-3.9zM592.35 283.85h3.9v3.9h-3.9zM164.45 213.85h3.9v3.9h-3.9zM182.75 196.55h3.9v3.9h-3.9zM189.45 192.55h3.9v3.9h-3.9zM192.95 215.25h3.9v3.9h-3.9zM200.65 228.05h3.9v3.9h-3.9zM203.85 210.95h3.9v3.9h-3.9zM209.15 196.55h3.9v3.9h-3.9zM215.25 212.05h3.9v3.9h-3.9zM218.25 200.05h3.9v3.9h-3.9zM222.75 204.05h3.9v3.9h-3.9zM223.85 195.75h3.9v3.9h-3.9zM229.65 176.05h3.9v3.9h-3.9zM232.35 198.45h3.9v3.9h-3.9zM234.75 225.35h3.9v3.9h-3.9zM237.35 188.55h3.9v3.9h-3.9zM242.75 203.25h3.9v3.9h-3.9zM243.75 179.25h3.9v3.9h-3.9zM250.45 141.15h3.9v3.9h-3.9zM251.75 196.55h3.9v3.9h-3.9zM253.15 193.35h3.9v3.9h-3.9zM259.75 209.95h3.9v3.9h-3.9zM261.05 210.65h3.9v3.9h-3.9zM260.05 223.75h3.9v3.9h-3.9zM262.45 196.55h3.9v3.9h-3.9zM264.55 203.75h3.9v3.9h-3.9zM269.35 213.05h3.9v3.9h-3.9zM270.95 194.75h3.9v3.9h-3.9zM273.35 196.55h3.9v3.9h-3.9zM273.65 206.75h3.9v3.9h-3.9zM274.15 216.55h3.9v3.9h-3.9zM273.65 182.25h3.9v3.9h-3.9zM275.75 180.65h3.9v3.9h-3.9zM274.95 188.55h3.9v3.9h-3.9zM277.85 230.15h3.9v3.9h-3.9zM607.45 187.25h3.9v3.9h-3.9zM614.75 199.05h3.9v3.9h-3.9zM602.15 211.95h3.9v3.9h-3.9zM605.45 219.55h3.9v3.9h-3.9zM611.15 220.05h3.9v3.9h-3.9zM606.85 222.45h3.9v3.9h-3.9zM616.45 224.25h3.9v3.9h-3.9zM630.25 233.25h3.9v3.9h-3.9zM601.45 235.95h3.9v3.9h-3.9zM612.85 235.95h3.9v3.9h-3.9zM605.05 243.85h3.9v3.9h-3.9zM602.15 250.65h3.9v3.9h-3.9zM608.35 256.65h3.9v3.9h-3.9zM648.25 244.25h3.9v3.9h-3.9zM649.25 250.35h3.9v3.9h-3.9zM641.35 257.75h3.9v3.9h-3.9zM634.25 275.55h3.9v3.9h-3.9zM662.05 282.75h3.9v3.9h-3.9zM353.45 113.15h3.9v3.9h-3.9zM312.65 153.95h3.9v3.9h-3.9zM314.45 155.95h3.9v3.9h-3.9zM306.75 159.05h3.9v3.9h-3.9zM305.25 161.65h3.9v3.9h-3.9zM318.35 159.85h3.9v3.9h-3.9zM343.55 153.65h3.9v3.9h-3.9zM360.05 159.85h3.9v3.9h-3.9zM376.25 154.45h3.9v3.9h-3.9zM377.85 152.15h3.9v3.9h-3.9zM397.05 159.85h3.9v3.9h-3.9zM416.25 131.25h3.9v3.9h-3.9zM443.15 121.95h3.9v3.9h-3.9zM414.25 155.95h3.9v3.9h-3.9zM405.05 161.35h3.9v3.9h-3.9zM398.85 160.65h3.9v3.9h-3.9zM461.35 149.75h3.9v3.9h-3.9zM462.95 152.15h3.9v3.9h-3.9zM459.55 157.55h3.9v3.9h-3.9zM468.75 156.75h3.9v3.9h-3.9zM482.25 150.25h3.9v3.9h-3.9zM504.95 146.35h3.9v3.9h-3.9zM514.05 149.75h3.9v3.9h-3.9zM473.75 161.05h3.9v3.9h-3.9zM486.05 162.15h3.9v3.9h-3.9zM373.45 289.15h3.9v3.9h-3.9zM392.05 297.35h3.9v3.9h-3.9zM368.55 308.95h3.9v3.9h-3.9zM369.75 311.25h3.9v3.9h-3.9zM392.05 316.65h3.9v3.9h-3.9zM396.35 315.85h3.9v3.9h-3.9zM368.55 285.85h3.9v3.9h-3.9zM412.25 287.05h3.9v3.9h-3.9zM467.85 293.45h3.9v3.9h-3.9zM477.55 288.55h3.9v3.9h-3.9zM483.05 288.55h3.9v3.9h-3.9zM496.95 286.55h3.9v3.9h-3.9zM505.45 289.15h3.9v3.9h-3.9zM422.75 296.25h3.9v3.9h-3.9zM418.95 302.45h3.9v3.9h-3.9zM431.25 308.15h3.9v3.9h-3.9zM429.75 312.85h3.9v3.9h-3.9zM433.25 315.85h3.9v3.9h-3.9zM439.45 307.05h3.9v3.9h-3.9zM444.35 306.65h3.9v3.9h-3.9zM453.35 305.05h3.9v3.9h-3.9zM450.55 311.75h3.9v3.9h-3.9zM432.05 323.15h3.9v3.9h-3.9zM423.55 334.85h3.9v3.9h-3.9zM464.15 335.25h3.9v3.9h-3.9zM475.25 315.45h3.9v3.9h-3.9zM494.15 298.15h3.9v3.9h-3.9zM498.15 301.55h3.9v3.9h-3.9zM505.85 305.05h3.9v3.9h-3.9zM502.35 320.05h3.9v3.9h-3.9zM486.85 330.85h3.9v3.9h-3.9zM491.55 330.85h3.9v3.9h-3.9zM464.45 285.75h3.9v3.9h-3.9zM524.05 286.55h3.9v3.9h-3.9zM542.65 289.15h3.9v3.9h-3.9zM547.25 285.65h3.9v3.9h-3.9zM555.75 286.55h3.9v3.9h-3.9zM560.35 286.55h3.9v3.9h-3.9zM573.55 293.15h3.9v3.9h-3.9zM583.05 292.75h3.9v3.9h-3.9zM588.95 287.65h3.9v3.9h-3.9zM594.35 298.15h3.9v3.9h-3.9zM599.05 301.95h3.9v3.9h-3.9zM525.65 302.45h3.9v3.9h-3.9zM521.05 308.95h3.9v3.9h-3.9zM529.15 307.35h3.9v3.9h-3.9zM543.35 305.85h3.9v3.9h-3.9zM557.65 308.95h3.9v3.9h-3.9zM565.75 300.95h3.9v3.9h-3.9zM567.35 307.35h3.9v3.9h-3.9zM611.35 322.55h3.9v3.9h-3.9zM627.55 306.15h3.9v3.9h-3.9zM628.25 308.85h3.9v3.9h-3.9zM522.55 344.45h3.9v3.9h-3.9zM632.85 294.45h3.9v3.9h-3.9zM674.05 336.35h3.9v3.9h-3.9zM641.25 374.15h3.9v3.9h-3.9zM492.55 365.55h3.9v3.9h-3.9zM470.35 388.35h3.9v3.9h-3.9zM412.35 406.55h3.9v3.9h-3.9z" fill="#7d7d7d" filter="url(#bl)"/>
<line x1="95" y1="225.30" x2="740.7" y2="225.30" stroke="rgb(225,0,0)" stroke-opacity="0.37" stroke-width="2.0"/>
<line x1="95" y1="226.80" x2="740.7" y2="226.80" stroke="rgba(150,60,60,0.25)" stroke-width="1"/>
<line x1="95" y1="36.0" x2="95" y2="415.4" stroke="#333" stroke-width="2"/>
<line x1="96" y1="413.5" x2="471" y2="413.5" stroke="#c8c8c8" stroke-width="1"/>
<line x1="94" y1="414.8" x2="471" y2="414.8" stroke="#333" stroke-width="1.5"/>
<line x1="471" y1="412.6" x2="741" y2="412.6" stroke="#8a8a8a" stroke-width="1"/>
<line x1="471" y1="414.0" x2="741" y2="414.0" stroke="#b5b5b5" stroke-width="1.4"/>
<text x="312.4" y="538.6" font-weight="bold" textLength="209.2" lengthAdjust="spacingAndGlyphs">b. Females 12-40 years</text>
<text transform="translate(20,865.9) rotate(-90)" x="0" y="0" textLength="244.4" lengthAdjust="spacingAndGlyphs">Difference: (HemoCue-DBS)</text>
<text x="251.0" y="1000.8" textLength="330" lengthAdjust="spacingAndGlyphs">Mean Hemoglobin: (HemoCue+DBS)/2</text>
<line x1="85" y1="561.00" x2="95" y2="561.00" stroke="#222" stroke-width="1.4"/>
<text x="80.1" y="568.39" text-anchor="end">7.5</text>
<line x1="85" y1="622.32" x2="95" y2="622.32" stroke="#222" stroke-width="1.4"/>
<text x="80.1" y="629.72" text-anchor="end">5.0</text>
<line x1="85" y1="683.64" x2="95" y2="683.64" stroke="#222" stroke-width="1.4"/>
<text x="80.1" y="691.04" text-anchor="end">2.5</text>
<line x1="85" y1="744.97" x2="95" y2="744.97" stroke="#222" stroke-width="1.4"/>
<text x="80.1" y="752.37" text-anchor="end">0.0</text>
<line x1="85" y1="806.30" x2="95" y2="806.30" stroke="#222" stroke-width="1.4"/>
<text x="80.1" y="813.70" text-anchor="end">-2.5</text>
<line x1="85" y1="867.62" x2="95" y2="867.62" stroke="#222" stroke-width="1.4"/>
<text x="80.1" y="875.02" text-anchor="end">-5.0</text>
<line x1="85" y1="928.95" x2="95" y2="928.95" stroke="#222" stroke-width="1.4"/>
<text x="80.1" y="936.35" text-anchor="end">-7.5</text>
<line x1="99.8" y1="933.0" x2="99.8" y2="942.4" stroke="#222" stroke-width="1.4"/>
<text x="98.4" y="966.4" text-anchor="middle">4</text>
<line x1="204.5" y1="933.0" x2="204.5" y2="942.4" stroke="#aaa" stroke-width="1.4"/>
<text x="203.9" y="966.4" text-anchor="middle">6</text>
<line x1="312.0" y1="933.0" x2="312.0" y2="942.4" stroke="#222" stroke-width="1.4"/>
<text x="310.2" y="966.4" text-anchor="middle">8</text>
<line x1="416.5" y1="933.0" x2="416.5" y2="942.4" stroke="#222" stroke-width="1.4"/>
<text x="415.8" y="966.4" text-anchor="middle">10</text>
<line x1="522.8" y1="933.0" x2="522.8" y2="942.4" stroke="#222" stroke-width="1.4"/>
<text x="522.4" y="966.4" text-anchor="middle">12</text>
<line x1="628.9" y1="933.0" x2="628.9" y2="942.4" stroke="#222" stroke-width="1.4"/>
<text x="628.7" y="966.4" text-anchor="middle">14</text>
<line x1="735.3" y1="933.0" x2="735.3" y2="942.4" stroke="#222" stroke-width="1.4"/>
<text x="734.7" y="966.4" text-anchor="middle">16</text>
<line x1="94.6" y1="690.40" x2="740.7" y2="690.40" stroke="#c0c0c0" stroke-width="1.15" stroke-dasharray="5 4.4"/>
<line x1="94.6" y1="814.40" x2="740.7" y2="814.40" stroke="#c0c0c0" stroke-width="1.15" stroke-dasharray="5 4.4"/>
<path d="M414.65 693.85h3.9v3.9h-3.9zM427.75 694.15h3.9v3.9h-3.9zM480.05 694.15h3.9v3.9h-3.9zM478.85 694.15h3.9v3.9h-3.9zM489.35 696.75h3.9v3.9h-3.9zM500.95 695.45h3.9v3.9h-3.9zM507.45 695.85h3.9v3.9h-3.9zM510.25 694.25h3.9v3.9h-3.9zM508.75 693.95h3.9v3.9h-3.9zM525.55 694.75h3.9v3.9h-3.9zM536.45 695.25h3.9v3.9h-3.9zM547.45 693.85h3.9v3.9h-3.9zM547.65 696.15h3.9v3.9h-3.9zM592.35 696.65h3.9v3.9h-3.9zM596.25 695.35h3.9v3.9h-3.9zM605.55 696.25h3.9v3.9h-3.9zM613.45 694.05h3.9v3.9h-3.9zM394.75 698.45h3.9v3.9h-3.9zM435.35 699.85h3.9v3.9h-3.9zM470.85 696.95h3.9v3.9h-3.9zM477.95 699.35h3.9v3.9h-3.9zM493.15 697.15h3.9v3.9h-3.9zM490.85 697.25h3.9v3.9h-3.9zM497.55 699.85h3.9v3.9h-3.9zM504.45 699.05h3.9v3.9h-3.9zM504.35 697.75h3.9v3.9h-3.9zM531.05 697.85h3.9v3.9h-3.9zM528.25 697.65h3.9v3.9h-3.9zM539.55 699.25h3.9v3.9h-3.9zM538.95 698.85h3.9v3.9h-3.9zM545.65 697.65h3.9v3.9h-3.9zM556.15 699.75h3.9v3.9h-3.9zM612.45 697.85h3.9v3.9h-3.9zM394.25 702.55h3.9v3.9h-3.9zM405.35 700.45h3.9v3.9h-3.9zM407.45 702.75h3.9v3.9h-3.9zM433.55 701.65h3.9v3.9h-3.9zM452.45 702.15h3.9v3.9h-3.9zM479.25 701.85h3.9v3.9h-3.9zM488.35 700.35h3.9v3.9h-3.9zM535.95 702.65h3.9v3.9h-3.9zM574.25 701.75h3.9v3.9h-3.9zM609.95 702.35h3.9v3.9h-3.9zM410.85 705.75h3.9v3.9h-3.9zM408.55 703.25h3.9v3.9h-3.9zM437.45 704.25h3.9v3.9h-3.9zM461.25 705.75h3.9v3.9h-3.9zM467.95 704.45h3.9v3.9h-3.9zM474.65 704.45h3.9v3.9h-3.9zM485.45 704.35h3.9v3.9h-3.9zM498.15 703.75h3.9v3.9h-3.9zM500.75 705.35h3.9v3.9h-3.9zM525.15 704.45h3.9v3.9h-3.9zM532.65 703.35h3.9v3.9h-3.9zM537.85 703.95h3.9v3.9h-3.9zM549.95 705.25h3.9v3.9h-3.9zM555.85 704.35h3.9v3.9h-3.9zM560.95 705.35h3.9v3.9h-3.9zM563.65 704.75h3.9v3.9h-3.9zM570.65 705.75h3.9v3.9h-3.9zM589.25 705.55h3.9v3.9h-3.9zM603.45 703.85h3.9v3.9h-3.9zM608.15 704.45h3.9v3.9h-3.9zM410.05 708.55h3.9v3.9h-3.9zM415.25 708.25h3.9v3.9h-3.9zM427.35 706.75h3.9v3.9h-3.9zM426.05 708.95h3.9v3.9h-3.9zM426.45 706.45h3.9v3.9h-3.9zM439.05 707.25h3.9v3.9h-3.9zM448.95 707.15h3.9v3.9h-3.9zM470.95 706.95h3.9v3.9h-3.9zM472.05 707.55h3.9v3.9h-3.9zM474.35 707.15h3.9v3.9h-3.9zM485.55 707.55h3.9v3.9h-3.9zM491.65 706.85h3.9v3.9h-3.9zM492.95 707.65h3.9v3.9h-3.9zM488.85 706.75h3.9v3.9h-3.9zM499.35 708.05h3.9v3.9h-3.9zM495.15 708.05h3.9v3.9h-3.9zM520.25 707.55h3.9v3.9h-3.9zM521.25 708.25h3.9v3.9h-3.9zM541.75 709.05h3.9v3.9h-3.9zM545.35 708.55h3.9v3.9h-3.9zM555.75 707.05h3.9v3.9h-3.9zM563.35 706.45h3.9v3.9h-3.9zM570.35 708.65h3.9v3.9h-3.9zM570.85 707.85h3.9v3.9h-3.9zM576.65 706.35h3.9v3.9h-3.9zM605.55 706.05h3.9v3.9h-3.9zM616.65 707.45h3.9v3.9h-3.9zM416.85 709.95h3.9v3.9h-3.9zM447.75 710.25h3.9v3.9h-3.9zM454.45 709.45h3.9v3.9h-3.9zM452.65 709.95h3.9v3.9h-3.9zM452.65 711.35h3.9v3.9h-3.9zM477.35 712.05h3.9v3.9h-3.9zM484.45 709.95h3.9v3.9h-3.9zM489.55 711.15h3.9v3.9h-3.9zM494.15 711.05h3.9v3.9h-3.9zM494.95 711.45h3.9v3.9h-3.9zM497.35 709.25h3.9v3.9h-3.9zM501.85 709.35h3.9v3.9h-3.9zM507.15 710.65h3.9v3.9h-3.9zM507.45 709.25h3.9v3.9h-3.9zM510.45 709.25h3.9v3.9h-3.9zM516.45 709.25h3.9v3.9h-3.9zM531.05 710.35h3.9v3.9h-3.9zM536.45 709.45h3.9v3.9h-3.9zM546.65 709.75h3.9v3.9h-3.9zM541.05 710.75h3.9v3.9h-3.9zM550.05 711.05h3.9v3.9h-3.9zM557.15 711.65h3.9v3.9h-3.9zM555.65 709.45h3.9v3.9h-3.9zM574.95 709.35h3.9v3.9h-3.9zM575.65 709.35h3.9v3.9h-3.9zM582.35 709.25h3.9v3.9h-3.9zM588.65 709.95h3.9v3.9h-3.9zM393.65 713.95h3.9v3.9h-3.9zM391.55 714.65h3.9v3.9h-3.9zM399.85 712.95h3.9v3.9h-3.9zM400.65 713.35h3.9v3.9h-3.9zM428.75 714.55h3.9v3.9h-3.9zM435.35 712.55h3.9v3.9h-3.9zM451.05 713.25h3.9v3.9h-3.9zM450.45 712.25h3.9v3.9h-3.9zM452.15 714.75h3.9v3.9h-3.9zM458.35 712.65h3.9v3.9h-3.9zM463.55 714.95h3.9v3.9h-3.9zM464.55 713.45h3.9v3.9h-3.9zM464.45 714.55h3.9v3.9h-3.9zM467.65 713.75h3.9v3.9h-3.9zM473.45 713.45h3.9v3.9h-3.9zM468.45 715.15h3.9v3.9h-3.9zM482.75 713.05h3.9v3.9h-3.9zM482.65 713.85h3.9v3.9h-3.9zM483.75 714.45h3.9v3.9h-3.9zM489.65 715.15h3.9v3.9h-3.9zM500.05 713.65h3.9v3.9h-3.9zM494.85 712.65h3.9v3.9h-3.9zM495.25 714.35h3.9v3.9h-3.9zM500.55 712.75h3.9v3.9h-3.9zM506.55 713.35h3.9v3.9h-3.9zM501.25 713.75h3.9v3.9h-3.9zM505.05 712.75h3.9v3.9h-3.9zM503.75 713.15h3.9v3.9h-3.9zM517.65 714.35h3.9v3.9h-3.9zM524.65 714.65h3.9v3.9h-3.9zM523.45 713.95h3.9v3.9h-3.9zM525.55 713.75h3.9v3.9h-3.9zM522.95 712.45h3.9v3.9h-3.9zM521.65 713.25h3.9v3.9h-3.9zM533.85 713.05h3.9v3.9h-3.9zM532.45 712.35h3.9v3.9h-3.9zM532.65 714.25h3.9v3.9h-3.9zM537.75 714.95h3.9v3.9h-3.9zM535.95 715.15h3.9v3.9h-3.9zM537.95 713.35h3.9v3.9h-3.9zM534.35 713.35h3.9v3.9h-3.9zM535.55 714.15h3.9v3.9h-3.9zM540.25 714.95h3.9v3.9h-3.9zM541.65 714.25h3.9v3.9h-3.9zM553.45 712.85h3.9v3.9h-3.9zM549.55 712.95h3.9v3.9h-3.9zM558.35 714.55h3.9v3.9h-3.9zM555.65 712.35h3.9v3.9h-3.9zM563.55 713.45h3.9v3.9h-3.9zM564.35 714.95h3.9v3.9h-3.9zM562.85 713.05h3.9v3.9h-3.9zM567.65 712.55h3.9v3.9h-3.9zM571.15 714.05h3.9v3.9h-3.9zM591.85 714.45h3.9v3.9h-3.9zM612.85 714.15h3.9v3.9h-3.9zM613.35 712.85h3.9v3.9h-3.9zM621.05 712.75h3.9v3.9h-3.9zM413.55 717.45h3.9v3.9h-3.9zM421.55 715.55h3.9v3.9h-3.9zM415.85 715.45h3.9v3.9h-3.9zM416.45 716.35h3.9v3.9h-3.9zM418.15 717.35h3.9v3.9h-3.9zM420.05 715.45h3.9v3.9h-3.9zM424.25 715.55h3.9v3.9h-3.9zM432.85 716.75h3.9v3.9h-3.9zM440.05 717.45h3.9v3.9h-3.9zM436.95 715.55h3.9v3.9h-3.9zM446.45 718.05h3.9v3.9h-3.9zM451.55 717.35h3.9v3.9h-3.9zM457.05 717.85h3.9v3.9h-3.9zM458.25 715.35h3.9v3.9h-3.9zM465.85 715.45h3.9v3.9h-3.9zM471.25 718.25h3.9v3.9h-3.9zM477.05 717.75h3.9v3.9h-3.9zM474.75 717.55h3.9v3.9h-3.9zM477.15 715.25h3.9v3.9h-3.9zM484.75 715.35h3.9v3.9h-3.9zM482.75 718.25h3.9v3.9h-3.9zM489.85 718.15h3.9v3.9h-3.9zM492.55 716.75h3.9v3.9h-3.9zM507.15 717.25h3.9v3.9h-3.9zM505.45 715.35h3.9v3.9h-3.9zM501.35 717.55h3.9v3.9h-3.9zM513.75 715.65h3.9v3.9h-3.9zM513.05 716.55h3.9v3.9h-3.9zM514.25 718.25h3.9v3.9h-3.9zM509.25 716.55h3.9v3.9h-3.9zM509.65 716.65h3.9v3.9h-3.9zM509.75 717.25h3.9v3.9h-3.9zM517.45 715.45h3.9v3.9h-3.9zM521.25 717.75h3.9v3.9h-3.9zM527.45 717.05h3.9v3.9h-3.9zM521.95 715.95h3.9v3.9h-3.9zM528.95 716.55h3.9v3.9h-3.9zM529.45 717.55h3.9v3.9h-3.9zM537.75 718.25h3.9v3.9h-3.9zM538.95 715.55h3.9v3.9h-3.9zM550.75 717.05h3.9v3.9h-3.9zM553.95 715.95h3.9v3.9h-3.9zM557.85 717.45h3.9v3.9h-3.9zM572.55 716.55h3.9v3.9h-3.9zM570.75 717.15h3.9v3.9h-3.9zM577.35 715.35h3.9v3.9h-3.9zM580.85 716.15h3.9v3.9h-3.9zM593.45 716.35h3.9v3.9h-3.9zM600.15 718.15h3.9v3.9h-3.9zM601.65 718.05h3.9v3.9h-3.9zM622.95 718.05h3.9v3.9h-3.9zM397.55 719.85h3.9v3.9h-3.9zM399.05 718.95h3.9v3.9h-3.9zM402.45 719.35h3.9v3.9h-3.9zM416.95 720.75h3.9v3.9h-3.9zM427.25 720.25h3.9v3.9h-3.9zM429.95 719.15h3.9v3.9h-3.9zM435.85 718.45h3.9v3.9h-3.9zM439.85 720.05h3.9v3.9h-3.9zM435.05 718.45h3.9v3.9h-3.9zM445.55 718.65h3.9v3.9h-3.9zM446.35 720.15h3.9v3.9h-3.9zM445.65 718.95h3.9v3.9h-3.9zM448.65 720.45h3.9v3.9h-3.9zM472.35 720.85h3.9v3.9h-3.9zM468.85 720.65h3.9v3.9h-3.9zM469.85 719.25h3.9v3.9h-3.9zM468.15 720.65h3.9v3.9h-3.9zM476.15 719.15h3.9v3.9h-3.9zM480.95 718.95h3.9v3.9h-3.9zM475.35 719.35h3.9v3.9h-3.9zM485.45 720.25h3.9v3.9h-3.9zM491.25 720.45h3.9v3.9h-3.9zM496.35 719.85h3.9v3.9h-3.9zM498.15 721.05h3.9v3.9h-3.9zM498.25 720.35h3.9v3.9h-3.9zM502.95 719.35h3.9v3.9h-3.9zM507.15 719.15h3.9v3.9h-3.9zM505.35 720.25h3.9v3.9h-3.9zM507.55 718.65h3.9v3.9h-3.9zM512.05 720.85h3.9v3.9h-3.9zM511.65 718.45h3.9v3.9h-3.9zM517.15 719.35h3.9v3.9h-3.9zM515.05 718.45h3.9v3.9h-3.9zM519.25 719.55h3.9v3.9h-3.9zM520.25 718.45h3.9v3.9h-3.9zM527.35 720.75h3.9v3.9h-3.9zM530.45 718.95h3.9v3.9h-3.9zM527.85 720.05h3.9v3.9h-3.9zM537.75 721.15h3.9v3.9h-3.9zM546.05 718.65h3.9v3.9h-3.9zM544.55 718.55h3.9v3.9h-3.9zM551.25 721.25h3.9v3.9h-3.9zM550.45 718.95h3.9v3.9h-3.9zM550.95 721.15h3.9v3.9h-3.9zM556.35 720.75h3.9v3.9h-3.9zM557.65 718.75h3.9v3.9h-3.9zM573.55 720.05h3.9v3.9h-3.9zM570.75 719.15h3.9v3.9h-3.9zM577.15 720.65h3.9v3.9h-3.9zM582.05 720.45h3.9v3.9h-3.9zM593.95 718.75h3.9v3.9h-3.9zM625.05 718.65h3.9v3.9h-3.9zM390.95 721.55h3.9v3.9h-3.9zM400.35 722.45h3.9v3.9h-3.9zM405.15 724.05h3.9v3.9h-3.9zM410.75 724.05h3.9v3.9h-3.9zM428.25 721.75h3.9v3.9h-3.9zM434.65 722.35h3.9v3.9h-3.9zM434.05 723.35h3.9v3.9h-3.9zM431.15 723.95h3.9v3.9h-3.9zM438.35 723.55h3.9v3.9h-3.9zM439.05 723.85h3.9v3.9h-3.9zM441.65 723.75h3.9v3.9h-3.9zM451.75 722.85h3.9v3.9h-3.9zM449.05 721.95h3.9v3.9h-3.9zM457.45 723.35h3.9v3.9h-3.9zM456.35 722.25h3.9v3.9h-3.9zM454.95 723.35h3.9v3.9h-3.9zM458.75 723.65h3.9v3.9h-3.9zM466.35 722.55h3.9v3.9h-3.9zM465.45 723.65h3.9v3.9h-3.9zM469.85 723.95h3.9v3.9h-3.9zM469.05 721.55h3.9v3.9h-3.9zM484.25 723.85h3.9v3.9h-3.9zM484.55 722.95h3.9v3.9h-3.9zM500.45 724.45h3.9v3.9h-3.9zM495.95 721.55h3.9v3.9h-3.9zM496.85 721.65h3.9v3.9h-3.9zM497.05 721.65h3.9v3.9h-3.9zM496.05 721.35h3.9v3.9h-3.9zM497.45 722.25h3.9v3.9h-3.9zM499.45 722.55h3.9v3.9h-3.9zM495.65 724.25h3.9v3.9h-3.9zM503.95 721.45h3.9v3.9h-3.9zM504.25 723.75h3.9v3.9h-3.9zM505.85 724.05h3.9v3.9h-3.9zM505.75 723.75h3.9v3.9h-3.9zM509.05 722.35h3.9v3.9h-3.9zM509.45 723.45h3.9v3.9h-3.9zM512.95 721.95h3.9v3.9h-3.9zM511.35 723.95h3.9v3.9h-3.9zM510.25 721.65h3.9v3.9h-3.9zM511.85 722.45h3.9v3.9h-3.9zM508.75 722.25h3.9v3.9h-3.9zM507.85 721.85h3.9v3.9h-3.9zM514.45 723.05h3.9v3.9h-3.9zM522.05 721.35h3.9v3.9h-3.9zM521.45 723.25h3.9v3.9h-3.9zM526.05 722.85h3.9v3.9h-3.9zM526.45 722.75h3.9v3.9h-3.9zM530.55 722.75h3.9v3.9h-3.9zM533.15 722.05h3.9v3.9h-3.9zM529.65 723.85h3.9v3.9h-3.9zM544.85 721.65h3.9v3.9h-3.9zM545.75 722.65h3.9v3.9h-3.9zM552.05 721.75h3.9v3.9h-3.9zM551.05 721.65h3.9v3.9h-3.9zM551.85 724.15h3.9v3.9h-3.9zM557.55 722.85h3.9v3.9h-3.9zM562.65 722.75h3.9v3.9h-3.9zM575.95 721.65h3.9v3.9h-3.9zM581.35 722.45h3.9v3.9h-3.9zM586.95 721.65h3.9v3.9h-3.9zM591.85 722.75h3.9v3.9h-3.9zM605.05 722.75h3.9v3.9h-3.9zM608.65 722.25h3.9v3.9h-3.9zM622.75 722.95h3.9v3.9h-3.9zM392.95 726.35h3.9v3.9h-3.9zM391.35 725.75h3.9v3.9h-3.9zM404.25 726.25h3.9v3.9h-3.9zM405.75 724.95h3.9v3.9h-3.9zM409.25 726.75h3.9v3.9h-3.9zM414.45 724.65h3.9v3.9h-3.9zM426.05 724.55h3.9v3.9h-3.9zM430.55 726.55h3.9v3.9h-3.9zM438.15 725.45h3.9v3.9h-3.9zM439.15 724.75h3.9v3.9h-3.9zM440.85 725.55h3.9v3.9h-3.9zM440.15 727.35h3.9v3.9h-3.9zM441.25 725.65h3.9v3.9h-3.9zM446.55 726.65h3.9v3.9h-3.9zM444.65 725.25h3.9v3.9h-3.9zM454.45 725.65h3.9v3.9h-3.9zM458.95 725.85h3.9v3.9h-3.9zM456.75 724.55h3.9v3.9h-3.9zM465.35 725.95h3.9v3.9h-3.9zM467.45 726.85h3.9v3.9h-3.9zM463.55 725.45h3.9v3.9h-3.9zM471.45 725.25h3.9v3.9h-3.9zM471.55 724.55h3.9v3.9h-3.9zM469.55 727.45h3.9v3.9h-3.9zM475.55 725.05h3.9v3.9h-3.9zM481.25 725.35h3.9v3.9h-3.9zM476.35 724.65h3.9v3.9h-3.9zM482.45 725.25h3.9v3.9h-3.9zM481.75 724.95h3.9v3.9h-3.9zM486.15 725.95h3.9v3.9h-3.9zM481.45 725.35h3.9v3.9h-3.9zM486.95 727.05h3.9v3.9h-3.9zM486.15 726.65h3.9v3.9h-3.9zM488.25 725.25h3.9v3.9h-3.9zM490.95 724.85h3.9v3.9h-3.9zM488.55 725.15h3.9v3.9h-3.9zM490.45 727.35h3.9v3.9h-3.9zM496.65 726.35h3.9v3.9h-3.9zM500.25 726.85h3.9v3.9h-3.9zM496.55 724.85h3.9v3.9h-3.9zM494.65 726.25h3.9v3.9h-3.9zM496.15 724.45h3.9v3.9h-3.9zM505.65 726.25h3.9v3.9h-3.9zM503.05 726.65h3.9v3.9h-3.9zM511.75 726.65h3.9v3.9h-3.9zM512.65 725.95h3.9v3.9h-3.9zM515.65 725.85h3.9v3.9h-3.9zM518.05 724.75h3.9v3.9h-3.9zM519.35 725.55h3.9v3.9h-3.9zM525.05 726.45h3.9v3.9h-3.9zM523.15 725.25h3.9v3.9h-3.9zM524.15 726.25h3.9v3.9h-3.9zM525.35 724.85h3.9v3.9h-3.9zM533.85 724.55h3.9v3.9h-3.9zM531.05 725.35h3.9v3.9h-3.9zM527.95 725.25h3.9v3.9h-3.9zM536.65 726.55h3.9v3.9h-3.9zM538.45 724.55h3.9v3.9h-3.9zM535.85 725.35h3.9v3.9h-3.9zM544.15 724.85h3.9v3.9h-3.9zM545.35 726.65h3.9v3.9h-3.9zM544.15 726.05h3.9v3.9h-3.9zM550.95 726.45h3.9v3.9h-3.9zM549.75 726.55h3.9v3.9h-3.9zM550.05 726.35h3.9v3.9h-3.9zM555.75 726.35h3.9v3.9h-3.9zM558.35 724.65h3.9v3.9h-3.9zM559.15 725.15h3.9v3.9h-3.9zM557.45 726.05h3.9v3.9h-3.9zM558.95 726.75h3.9v3.9h-3.9zM567.35 725.45h3.9v3.9h-3.9zM565.55 727.35h3.9v3.9h-3.9zM561.35 726.85h3.9v3.9h-3.9zM570.65 726.35h3.9v3.9h-3.9zM572.05 727.35h3.9v3.9h-3.9zM572.75 726.95h3.9v3.9h-3.9zM567.85 725.75h3.9v3.9h-3.9zM577.55 726.45h3.9v3.9h-3.9zM578.25 727.05h3.9v3.9h-3.9zM578.75 727.45h3.9v3.9h-3.9zM577.35 725.95h3.9v3.9h-3.9zM587.05 725.45h3.9v3.9h-3.9zM583.95 724.55h3.9v3.9h-3.9zM595.95 726.95h3.9v3.9h-3.9zM613.15 725.95h3.9v3.9h-3.9zM416.75 728.45h3.9v3.9h-3.9zM419.25 728.95h3.9v3.9h-3.9zM415.85 729.15h3.9v3.9h-3.9zM426.95 727.85h3.9v3.9h-3.9zM434.65 727.65h3.9v3.9h-3.9zM434.25 728.85h3.9v3.9h-3.9zM428.35 728.35h3.9v3.9h-3.9zM434.95 729.75h3.9v3.9h-3.9zM437.05 728.95h3.9v3.9h-3.9zM441.05 730.25h3.9v3.9h-3.9zM443.65 727.75h3.9v3.9h-3.9zM444.45 729.15h3.9v3.9h-3.9zM450.25 729.85h3.9v3.9h-3.9zM449.85 728.85h3.9v3.9h-3.9zM448.95 728.25h3.9v3.9h-3.9zM457.25 727.95h3.9v3.9h-3.9zM455.05 727.85h3.9v3.9h-3.9zM457.55 727.55h3.9v3.9h-3.9zM459.35 728.55h3.9v3.9h-3.9zM456.45 728.45h3.9v3.9h-3.9zM461.95 727.75h3.9v3.9h-3.9zM467.35 729.25h3.9v3.9h-3.9zM463.45 729.65h3.9v3.9h-3.9zM477.55 730.05h3.9v3.9h-3.9zM478.65 728.15h3.9v3.9h-3.9zM476.25 727.75h3.9v3.9h-3.9zM486.55 727.95h3.9v3.9h-3.9zM487.65 730.15h3.9v3.9h-3.9zM484.55 730.25h3.9v3.9h-3.9zM483.35 730.55h3.9v3.9h-3.9zM483.45 730.35h3.9v3.9h-3.9zM492.35 730.25h3.9v3.9h-3.9zM492.45 727.65h3.9v3.9h-3.9zM490.25 728.55h3.9v3.9h-3.9zM489.15 728.15h3.9v3.9h-3.9zM500.85 729.35h3.9v3.9h-3.9zM499.55 730.35h3.9v3.9h-3.9zM494.75 730.25h3.9v3.9h-3.9zM506.15 729.85h3.9v3.9h-3.9zM509.25 727.85h3.9v3.9h-3.9zM508.05 730.45h3.9v3.9h-3.9zM514.15 728.55h3.9v3.9h-3.9zM510.55 728.35h3.9v3.9h-3.9zM517.45 728.15h3.9v3.9h-3.9zM518.65 728.65h3.9v3.9h-3.9zM516.45 728.45h3.9v3.9h-3.9zM518.45 729.05h3.9v3.9h-3.9zM517.65 729.55h3.9v3.9h-3.9zM522.35 728.75h3.9v3.9h-3.9zM522.15 727.55h3.9v3.9h-3.9zM525.65 728.55h3.9v3.9h-3.9zM522.75 727.55h3.9v3.9h-3.9zM521.25 729.55h3.9v3.9h-3.9zM523.45 728.85h3.9v3.9h-3.9zM525.55 730.25h3.9v3.9h-3.9zM525.75 728.15h3.9v3.9h-3.9zM533.55 729.35h3.9v3.9h-3.9zM532.45 727.95h3.9v3.9h-3.9zM533.25 728.35h3.9v3.9h-3.9zM531.75 729.75h3.9v3.9h-3.9zM540.85 729.55h3.9v3.9h-3.9zM537.45 729.25h3.9v3.9h-3.9zM541.65 729.25h3.9v3.9h-3.9zM544.95 730.55h3.9v3.9h-3.9zM550.05 729.85h3.9v3.9h-3.9zM551.35 727.85h3.9v3.9h-3.9zM553.85 729.15h3.9v3.9h-3.9zM552.55 729.15h3.9v3.9h-3.9zM551.45 729.25h3.9v3.9h-3.9zM572.85 729.85h3.9v3.9h-3.9zM572.45 728.65h3.9v3.9h-3.9zM585.15 729.65h3.9v3.9h-3.9zM591.25 729.95h3.9v3.9h-3.9zM598.75 728.85h3.9v3.9h-3.9zM597.75 728.45h3.9v3.9h-3.9zM613.15 729.35h3.9v3.9h-3.9zM623.15 728.35h3.9v3.9h-3.9zM388.85 731.05h3.9v3.9h-3.9zM407.25 731.55h3.9v3.9h-3.9zM404.15 732.85h3.9v3.9h-3.9zM412.05 733.25h3.9v3.9h-3.9zM414.35 731.15h3.9v3.9h-3.9zM413.85 732.25h3.9v3.9h-3.9zM421.65 731.65h3.9v3.9h-3.9zM417.75 730.95h3.9v3.9h-3.9zM419.65 730.75h3.9v3.9h-3.9zM423.05 733.45h3.9v3.9h-3.9zM430.85 733.55h3.9v3.9h-3.9zM429.65 733.35h3.9v3.9h-3.9zM434.25 732.65h3.9v3.9h-3.9zM439.05 733.55h3.9v3.9h-3.9zM438.85 731.05h3.9v3.9h-3.9zM436.35 732.55h3.9v3.9h-3.9zM435.35 730.55h3.9v3.9h-3.9zM442.05 732.25h3.9v3.9h-3.9zM446.05 731.55h3.9v3.9h-3.9zM453.65 730.85h3.9v3.9h-3.9zM448.95 733.25h3.9v3.9h-3.9zM453.75 730.65h3.9v3.9h-3.9zM454.15 732.45h3.9v3.9h-3.9zM453.95 732.75h3.9v3.9h-3.9zM459.95 732.75h3.9v3.9h-3.9zM467.65 731.95h3.9v3.9h-3.9zM462.85 733.65h3.9v3.9h-3.9zM472.95 731.75h3.9v3.9h-3.9zM471.25 732.65h3.9v3.9h-3.9zM478.35 731.85h3.9v3.9h-3.9zM480.65 731.05h3.9v3.9h-3.9zM480.75 731.35h3.9v3.9h-3.9zM487.85 731.65h3.9v3.9h-3.9zM486.85 733.55h3.9v3.9h-3.9zM489.65 731.65h3.9v3.9h-3.9zM489.05 732.65h3.9v3.9h-3.9zM491.45 731.45h3.9v3.9h-3.9zM497.45 730.85h3.9v3.9h-3.9zM498.05 731.35h3.9v3.9h-3.9zM507.05 732.05h3.9v3.9h-3.9zM504.75 731.35h3.9v3.9h-3.9zM506.25 731.75h3.9v3.9h-3.9zM507.05 732.75h3.9v3.9h-3.9zM504.05 730.65h3.9v3.9h-3.9zM502.95 731.85h3.9v3.9h-3.9zM503.65 732.35h3.9v3.9h-3.9zM520.65 732.25h3.9v3.9h-3.9zM518.45 731.55h3.9v3.9h-3.9zM518.85 732.05h3.9v3.9h-3.9zM520.75 733.65h3.9v3.9h-3.9zM521.05 733.45h3.9v3.9h-3.9zM514.75 730.75h3.9v3.9h-3.9zM516.75 733.15h3.9v3.9h-3.9zM518.15 731.35h3.9v3.9h-3.9zM515.15 731.35h3.9v3.9h-3.9zM526.05 731.15h3.9v3.9h-3.9zM533.25 732.55h3.9v3.9h-3.9zM533.55 732.85h3.9v3.9h-3.9zM540.35 731.95h3.9v3.9h-3.9zM539.65 732.55h3.9v3.9h-3.9zM534.85 731.25h3.9v3.9h-3.9zM538.15 732.95h3.9v3.9h-3.9zM543.95 731.85h3.9v3.9h-3.9zM547.05 732.45h3.9v3.9h-3.9zM548.65 731.75h3.9v3.9h-3.9zM547.95 732.55h3.9v3.9h-3.9zM555.35 732.25h3.9v3.9h-3.9zM557.45 731.15h3.9v3.9h-3.9zM557.15 733.15h3.9v3.9h-3.9zM558.45 731.55h3.9v3.9h-3.9zM555.75 732.55h3.9v3.9h-3.9zM563.55 732.55h3.9v3.9h-3.9zM566.65 731.75h3.9v3.9h-3.9zM569.05 733.45h3.9v3.9h-3.9zM568.45 732.65h3.9v3.9h-3.9zM569.15 732.05h3.9v3.9h-3.9zM575.25 733.55h3.9v3.9h-3.9zM595.25 732.95h3.9v3.9h-3.9zM605.25 731.75h3.9v3.9h-3.9zM608.05 731.95h3.9v3.9h-3.9zM611.85 731.05h3.9v3.9h-3.9zM607.75 733.65h3.9v3.9h-3.9zM618.45 733.65h3.9v3.9h-3.9zM618.95 732.75h3.9v3.9h-3.9zM389.15 734.05h3.9v3.9h-3.9zM394.95 735.85h3.9v3.9h-3.9zM395.95 735.75h3.9v3.9h-3.9zM403.45 735.95h3.9v3.9h-3.9zM411.15 735.05h3.9v3.9h-3.9zM410.65 735.05h3.9v3.9h-3.9zM414.85 736.15h3.9v3.9h-3.9zM425.85 734.85h3.9v3.9h-3.9zM424.85 735.35h3.9v3.9h-3.9zM427.45 735.55h3.9v3.9h-3.9zM427.65 734.45h3.9v3.9h-3.9zM427.05 734.85h3.9v3.9h-3.9zM429.85 736.35h3.9v3.9h-3.9zM431.65 735.75h3.9v3.9h-3.9zM438.55 736.65h3.9v3.9h-3.9zM439.65 734.45h3.9v3.9h-3.9zM439.55 735.55h3.9v3.9h-3.9zM437.45 735.75h3.9v3.9h-3.9zM442.75 734.65h3.9v3.9h-3.9zM442.45 736.35h3.9v3.9h-3.9zM448.25 734.95h3.9v3.9h-3.9zM443.25 736.35h3.9v3.9h-3.9zM451.55 734.05h3.9v3.9h-3.9zM449.65 734.85h3.9v3.9h-3.9zM458.85 734.55h3.9v3.9h-3.9zM467.25 734.95h3.9v3.9h-3.9zM466.05 735.95h3.9v3.9h-3.9zM466.15 735.95h3.9v3.9h-3.9zM463.75 734.15h3.9v3.9h-3.9zM463.95 736.55h3.9v3.9h-3.9zM470.15 734.95h3.9v3.9h-3.9zM474.85 734.65h3.9v3.9h-3.9zM479.55 735.05h3.9v3.9h-3.9zM487.65 735.85h3.9v3.9h-3.9zM481.95 734.25h3.9v3.9h-3.9zM486.55 735.25h3.9v3.9h-3.9zM486.35 735.95h3.9v3.9h-3.9zM492.95 736.15h3.9v3.9h-3.9zM489.95 734.85h3.9v3.9h-3.9zM492.85 734.55h3.9v3.9h-3.9zM495.95 734.95h3.9v3.9h-3.9zM495.75 736.45h3.9v3.9h-3.9zM498.35 736.25h3.9v3.9h-3.9zM497.85 735.15h3.9v3.9h-3.9zM500.95 734.05h3.9v3.9h-3.9zM496.05 736.25h3.9v3.9h-3.9zM507.35 735.25h3.9v3.9h-3.9zM501.45 735.65h3.9v3.9h-3.9zM507.75 735.55h3.9v3.9h-3.9zM504.45 735.05h3.9v3.9h-3.9zM505.35 735.55h3.9v3.9h-3.9zM504.45 736.45h3.9v3.9h-3.9zM507.05 736.05h3.9v3.9h-3.9zM506.05 735.85h3.9v3.9h-3.9zM514.15 734.35h3.9v3.9h-3.9zM513.25 736.25h3.9v3.9h-3.9zM510.55 733.75h3.9v3.9h-3.9zM518.85 736.05h3.9v3.9h-3.9zM519.65 735.35h3.9v3.9h-3.9zM518.25 733.65h3.9v3.9h-3.9zM516.25 734.85h3.9v3.9h-3.9zM514.95 733.85h3.9v3.9h-3.9zM526.45 735.65h3.9v3.9h-3.9zM523.35 735.75h3.9v3.9h-3.9zM522.85 735.95h3.9v3.9h-3.9zM524.75 735.45h3.9v3.9h-3.9zM521.45 736.45h3.9v3.9h-3.9zM527.45 735.95h3.9v3.9h-3.9zM523.05 735.85h3.9v3.9h-3.9zM521.85 735.35h3.9v3.9h-3.9zM523.35 735.05h3.9v3.9h-3.9zM522.95 733.85h3.9v3.9h-3.9zM528.55 733.75h3.9v3.9h-3.9zM534.15 733.85h3.9v3.9h-3.9zM533.65 734.95h3.9v3.9h-3.9zM537.95 733.65h3.9v3.9h-3.9zM536.35 735.85h3.9v3.9h-3.9zM539.95 734.15h3.9v3.9h-3.9zM542.55 736.35h3.9v3.9h-3.9zM543.25 735.65h3.9v3.9h-3.9zM547.15 735.55h3.9v3.9h-3.9zM550.75 735.55h3.9v3.9h-3.9zM554.05 735.75h3.9v3.9h-3.9zM558.65 734.45h3.9v3.9h-3.9zM555.55 734.85h3.9v3.9h-3.9zM557.45 733.75h3.9v3.9h-3.9zM563.85 735.75h3.9v3.9h-3.9zM564.15 734.85h3.9v3.9h-3.9zM564.65 734.45h3.9v3.9h-3.9zM571.65 734.25h3.9v3.9h-3.9zM570.65 735.15h3.9v3.9h-3.9zM567.55 734.05h3.9v3.9h-3.9zM575.05 734.05h3.9v3.9h-3.9zM579.35 734.25h3.9v3.9h-3.9zM576.15 734.05h3.9v3.9h-3.9zM580.05 734.25h3.9v3.9h-3.9zM575.65 735.45h3.9v3.9h-3.9zM578.75 733.75h3.9v3.9h-3.9zM585.95 736.15h3.9v3.9h-3.9zM586.35 734.65h3.9v3.9h-3.9zM580.95 735.05h3.9v3.9h-3.9zM599.45 735.85h3.9v3.9h-3.9zM598.55 734.65h3.9v3.9h-3.9zM606.35 735.05h3.9v3.9h-3.9zM604.05 734.25h3.9v3.9h-3.9zM612.05 736.25h3.9v3.9h-3.9zM616.85 734.35h3.9v3.9h-3.9zM620.65 735.05h3.9v3.9h-3.9zM620.95 734.95h3.9v3.9h-3.9zM404.35 738.65h3.9v3.9h-3.9zM406.95 738.05h3.9v3.9h-3.9zM403.15 737.85h3.9v3.9h-3.9zM411.85 739.25h3.9v3.9h-3.9zM413.25 737.95h3.9v3.9h-3.9zM409.75 738.95h3.9v3.9h-3.9zM410.45 737.55h3.9v3.9h-3.9zM410.15 738.85h3.9v3.9h-3.9zM416.05 738.55h3.9v3.9h-3.9zM421.65 737.75h3.9v3.9h-3.9zM416.15 737.05h3.9v3.9h-3.9zM415.35 738.95h3.9v3.9h-3.9zM423.75 737.55h3.9v3.9h-3.9zM423.45 736.85h3.9v3.9h-3.9zM423.45 737.75h3.9v3.9h-3.9zM429.25 739.45h3.9v3.9h-3.9zM430.25 738.35h3.9v3.9h-3.9zM430.35 739.45h3.9v3.9h-3.9zM437.45 738.85h3.9v3.9h-3.9zM438.75 737.55h3.9v3.9h-3.9zM444.25 739.25h3.9v3.9h-3.9zM452.95 737.95h3.9v3.9h-3.9zM450.75 739.05h3.9v3.9h-3.9zM459.15 738.95h3.9v3.9h-3.9zM467.35 738.25h3.9v3.9h-3.9zM471.95 739.55h3.9v3.9h-3.9zM472.45 739.65h3.9v3.9h-3.9zM477.15 736.85h3.9v3.9h-3.9zM475.25 739.55h3.9v3.9h-3.9zM487.85 737.25h3.9v3.9h-3.9zM483.35 737.45h3.9v3.9h-3.9zM491.05 739.05h3.9v3.9h-3.9zM499.85 739.45h3.9v3.9h-3.9zM500.35 738.35h3.9v3.9h-3.9zM506.35 737.65h3.9v3.9h-3.9zM507.15 737.55h3.9v3.9h-3.9zM511.45 738.35h3.9v3.9h-3.9zM512.45 737.75h3.9v3.9h-3.9zM511.95 737.35h3.9v3.9h-3.9zM511.25 737.45h3.9v3.9h-3.9zM513.05 737.25h3.9v3.9h-3.9zM518.05 737.45h3.9v3.9h-3.9zM515.25 739.45h3.9v3.9h-3.9zM523.25 738.25h3.9v3.9h-3.9zM521.45 738.85h3.9v3.9h-3.9zM526.65 739.55h3.9v3.9h-3.9zM526.55 738.65h3.9v3.9h-3.9zM526.45 737.65h3.9v3.9h-3.9zM524.85 737.25h3.9v3.9h-3.9zM533.35 738.65h3.9v3.9h-3.9zM531.85 739.45h3.9v3.9h-3.9zM529.75 737.55h3.9v3.9h-3.9zM531.45 737.35h3.9v3.9h-3.9zM532.35 738.15h3.9v3.9h-3.9zM538.15 739.55h3.9v3.9h-3.9zM539.65 739.35h3.9v3.9h-3.9zM545.05 738.45h3.9v3.9h-3.9zM541.25 738.45h3.9v3.9h-3.9zM546.25 739.45h3.9v3.9h-3.9zM543.75 739.45h3.9v3.9h-3.9zM541.15 739.45h3.9v3.9h-3.9zM548.75 739.05h3.9v3.9h-3.9zM553.35 737.45h3.9v3.9h-3.9zM551.15 738.25h3.9v3.9h-3.9zM549.65 739.25h3.9v3.9h-3.9zM549.45 739.15h3.9v3.9h-3.9zM555.15 737.05h3.9v3.9h-3.9zM554.35 737.75h3.9v3.9h-3.9zM572.15 737.35h3.9v3.9h-3.9zM567.55 736.75h3.9v3.9h-3.9zM577.05 737.45h3.9v3.9h-3.9zM590.15 738.85h3.9v3.9h-3.9zM589.55 738.45h3.9v3.9h-3.9zM606.65 739.55h3.9v3.9h-3.9zM609.85 739.05h3.9v3.9h-3.9zM616.75 737.95h3.9v3.9h-3.9zM622.65 737.45h3.9v3.9h-3.9zM400.15 739.95h3.9v3.9h-3.9zM402.55 741.65h3.9v3.9h-3.9zM407.25 740.65h3.9v3.9h-3.9zM417.25 742.55h3.9v3.9h-3.9zM417.05 740.05h3.9v3.9h-3.9zM420.85 742.25h3.9v3.9h-3.9zM426.55 742.65h3.9v3.9h-3.9zM426.95 741.35h3.9v3.9h-3.9zM424.35 742.75h3.9v3.9h-3.9zM428.35 742.25h3.9v3.9h-3.9zM432.45 740.15h3.9v3.9h-3.9zM430.55 741.55h3.9v3.9h-3.9zM431.65 741.75h3.9v3.9h-3.9zM433.75 742.65h3.9v3.9h-3.9zM439.95 742.75h3.9v3.9h-3.9zM438.35 742.25h3.9v3.9h-3.9zM440.45 740.75h3.9v3.9h-3.9zM442.45 742.45h3.9v3.9h-3.9zM445.35 741.05h3.9v3.9h-3.9zM450.55 742.15h3.9v3.9h-3.9zM452.45 741.35h3.9v3.9h-3.9zM466.75 742.65h3.9v3.9h-3.9zM466.05 740.95h3.9v3.9h-3.9zM473.25 740.15h3.9v3.9h-3.9zM468.75 741.75h3.9v3.9h-3.9zM468.45 742.45h3.9v3.9h-3.9zM469.35 741.25h3.9v3.9h-3.9zM469.85 741.25h3.9v3.9h-3.9zM472.15 740.35h3.9v3.9h-3.9zM476.05 740.15h3.9v3.9h-3.9zM474.85 742.75h3.9v3.9h-3.9zM481.15 739.95h3.9v3.9h-3.9zM485.55 741.85h3.9v3.9h-3.9zM485.95 740.55h3.9v3.9h-3.9zM482.35 741.75h3.9v3.9h-3.9zM483.25 741.65h3.9v3.9h-3.9zM494.45 741.05h3.9v3.9h-3.9zM491.75 740.75h3.9v3.9h-3.9zM497.55 741.55h3.9v3.9h-3.9zM495.95 742.65h3.9v3.9h-3.9zM498.15 740.95h3.9v3.9h-3.9zM504.25 739.95h3.9v3.9h-3.9zM506.45 742.75h3.9v3.9h-3.9zM505.15 742.75h3.9v3.9h-3.9zM504.35 742.45h3.9v3.9h-3.9zM514.15 740.05h3.9v3.9h-3.9zM511.65 741.65h3.9v3.9h-3.9zM508.95 740.85h3.9v3.9h-3.9zM509.85 739.85h3.9v3.9h-3.9zM519.05 742.25h3.9v3.9h-3.9zM515.35 740.85h3.9v3.9h-3.9zM518.55 740.75h3.9v3.9h-3.9zM520.55 741.05h3.9v3.9h-3.9zM519.15 739.95h3.9v3.9h-3.9zM520.45 742.75h3.9v3.9h-3.9zM520.85 740.85h3.9v3.9h-3.9zM525.45 742.85h3.9v3.9h-3.9zM521.25 742.35h3.9v3.9h-3.9zM525.45 741.25h3.9v3.9h-3.9zM533.65 742.05h3.9v3.9h-3.9zM528.85 741.65h3.9v3.9h-3.9zM531.65 742.65h3.9v3.9h-3.9zM539.25 740.05h3.9v3.9h-3.9zM539.85 741.65h3.9v3.9h-3.9zM538.55 742.65h3.9v3.9h-3.9zM540.05 742.05h3.9v3.9h-3.9zM542.25 741.85h3.9v3.9h-3.9zM543.65 741.15h3.9v3.9h-3.9zM546.55 740.95h3.9v3.9h-3.9zM551.45 740.05h3.9v3.9h-3.9zM548.85 740.55h3.9v3.9h-3.9zM552.75 742.15h3.9v3.9h-3.9zM550.15 741.65h3.9v3.9h-3.9zM550.45 741.45h3.9v3.9h-3.9zM554.95 742.45h3.9v3.9h-3.9zM557.15 741.75h3.9v3.9h-3.9zM558.15 741.65h3.9v3.9h-3.9zM560.15 740.25h3.9v3.9h-3.9zM562.75 741.35h3.9v3.9h-3.9zM566.15 741.55h3.9v3.9h-3.9zM571.25 741.55h3.9v3.9h-3.9zM572.05 741.35h3.9v3.9h-3.9zM579.35 740.05h3.9v3.9h-3.9zM585.25 741.65h3.9v3.9h-3.9zM589.05 741.65h3.9v3.9h-3.9zM598.05 740.75h3.9v3.9h-3.9zM594.25 740.35h3.9v3.9h-3.9zM625.45 741.05h3.9v3.9h-3.9zM394.85 743.45h3.9v3.9h-3.9zM401.75 744.85h3.9v3.9h-3.9zM399.05 744.55h3.9v3.9h-3.9zM398.25 745.75h3.9v3.9h-3.9zM405.35 744.95h3.9v3.9h-3.9zM403.05 745.55h3.9v3.9h-3.9zM410.45 744.95h3.9v3.9h-3.9zM419.05 743.95h3.9v3.9h-3.9zM416.75 743.15h3.9v3.9h-3.9zM415.35 744.15h3.9v3.9h-3.9zM429.25 743.45h3.9v3.9h-3.9zM439.05 744.55h3.9v3.9h-3.9zM441.35 745.35h3.9v3.9h-3.9zM447.75 743.65h3.9v3.9h-3.9zM448.25 743.55h3.9v3.9h-3.9zM443.85 745.15h3.9v3.9h-3.9zM445.35 743.55h3.9v3.9h-3.9zM442.45 745.55h3.9v3.9h-3.9zM442.95 744.45h3.9v3.9h-3.9zM454.45 744.65h3.9v3.9h-3.9zM452.65 744.05h3.9v3.9h-3.9zM452.95 744.05h3.9v3.9h-3.9zM459.85 745.55h3.9v3.9h-3.9zM467.25 745.15h3.9v3.9h-3.9zM465.25 744.65h3.9v3.9h-3.9zM462.55 742.95h3.9v3.9h-3.9zM461.65 745.55h3.9v3.9h-3.9zM464.15 744.65h3.9v3.9h-3.9zM474.35 743.35h3.9v3.9h-3.9zM474.15 744.45h3.9v3.9h-3.9zM469.05 745.85h3.9v3.9h-3.9zM469.45 744.95h3.9v3.9h-3.9zM469.85 743.25h3.9v3.9h-3.9zM478.95 742.95h3.9v3.9h-3.9zM476.85 744.45h3.9v3.9h-3.9zM477.85 744.15h3.9v3.9h-3.9zM477.25 742.95h3.9v3.9h-3.9zM479.05 743.95h3.9v3.9h-3.9zM475.45 743.95h3.9v3.9h-3.9zM479.15 745.15h3.9v3.9h-3.9zM485.35 744.35h3.9v3.9h-3.9zM487.75 743.95h3.9v3.9h-3.9zM488.85 743.45h3.9v3.9h-3.9zM500.65 744.65h3.9v3.9h-3.9zM497.85 744.55h3.9v3.9h-3.9zM501.25 742.95h3.9v3.9h-3.9zM506.05 742.95h3.9v3.9h-3.9zM504.15 744.45h3.9v3.9h-3.9zM503.65 743.75h3.9v3.9h-3.9zM508.85 743.15h3.9v3.9h-3.9zM510.45 744.75h3.9v3.9h-3.9zM509.25 743.05h3.9v3.9h-3.9zM510.05 744.25h3.9v3.9h-3.9zM513.65 745.55h3.9v3.9h-3.9zM513.25 743.65h3.9v3.9h-3.9zM513.25 743.75h3.9v3.9h-3.9zM519.75 743.55h3.9v3.9h-3.9zM519.65 743.45h3.9v3.9h-3.9zM514.55 744.15h3.9v3.9h-3.9zM520.25 744.75h3.9v3.9h-3.9zM522.15 745.95h3.9v3.9h-3.9zM521.35 743.25h3.9v3.9h-3.9zM523.15 743.85h3.9v3.9h-3.9zM524.75 744.35h3.9v3.9h-3.9zM528.45 744.45h3.9v3.9h-3.9zM531.95 745.05h3.9v3.9h-3.9zM529.25 745.55h3.9v3.9h-3.9zM533.65 744.35h3.9v3.9h-3.9zM534.75 744.75h3.9v3.9h-3.9zM539.05 742.95h3.9v3.9h-3.9zM546.55 745.35h3.9v3.9h-3.9zM543.55 742.85h3.9v3.9h-3.9zM549.45 744.05h3.9v3.9h-3.9zM552.05 745.75h3.9v3.9h-3.9zM547.95 744.65h3.9v3.9h-3.9zM556.45 743.85h3.9v3.9h-3.9zM558.85 745.85h3.9v3.9h-3.9zM561.55 744.85h3.9v3.9h-3.9zM565.55 744.35h3.9v3.9h-3.9zM564.65 745.65h3.9v3.9h-3.9zM564.95 744.95h3.9v3.9h-3.9zM566.65 745.15h3.9v3.9h-3.9zM563.85 745.75h3.9v3.9h-3.9zM573.25 744.85h3.9v3.9h-3.9zM572.65 743.95h3.9v3.9h-3.9zM569.35 743.35h3.9v3.9h-3.9zM575.15 745.35h3.9v3.9h-3.9zM586.65 743.15h3.9v3.9h-3.9zM584.05 745.45h3.9v3.9h-3.9zM581.55 743.65h3.9v3.9h-3.9zM584.95 743.15h3.9v3.9h-3.9zM592.95 744.55h3.9v3.9h-3.9zM589.85 745.35h3.9v3.9h-3.9zM590.35 742.95h3.9v3.9h-3.9zM591.95 742.95h3.9v3.9h-3.9zM596.65 744.15h3.9v3.9h-3.9zM602.05 745.25h3.9v3.9h-3.9zM600.95 744.65h3.9v3.9h-3.9zM607.75 744.85h3.9v3.9h-3.9zM612.35 744.75h3.9v3.9h-3.9zM620.15 743.55h3.9v3.9h-3.9zM614.55 744.05h3.9v3.9h-3.9zM389.85 747.75h3.9v3.9h-3.9zM400.45 748.35h3.9v3.9h-3.9zM405.65 747.95h3.9v3.9h-3.9zM416.95 746.15h3.9v3.9h-3.9zM426.85 748.95h3.9v3.9h-3.9zM433.15 748.45h3.9v3.9h-3.9zM430.65 747.75h3.9v3.9h-3.9zM429.05 748.75h3.9v3.9h-3.9zM431.25 747.35h3.9v3.9h-3.9zM429.85 748.55h3.9v3.9h-3.9zM439.65 747.85h3.9v3.9h-3.9zM440.55 745.95h3.9v3.9h-3.9zM438.35 748.85h3.9v3.9h-3.9zM450.25 748.85h3.9v3.9h-3.9zM449.65 747.35h3.9v3.9h-3.9zM458.85 747.85h3.9v3.9h-3.9zM455.15 748.45h3.9v3.9h-3.9zM468.05 747.65h3.9v3.9h-3.9zM467.45 747.55h3.9v3.9h-3.9zM465.45 748.85h3.9v3.9h-3.9zM464.35 746.85h3.9v3.9h-3.9zM469.65 746.05h3.9v3.9h-3.9zM473.65 746.15h3.9v3.9h-3.9zM473.65 748.35h3.9v3.9h-3.9zM474.65 746.25h3.9v3.9h-3.9zM473.45 746.15h3.9v3.9h-3.9zM479.65 748.95h3.9v3.9h-3.9zM477.95 747.25h3.9v3.9h-3.9zM487.25 748.25h3.9v3.9h-3.9zM482.25 748.05h3.9v3.9h-3.9zM483.15 747.25h3.9v3.9h-3.9zM482.35 746.15h3.9v3.9h-3.9zM484.45 748.15h3.9v3.9h-3.9zM488.05 748.75h3.9v3.9h-3.9zM489.15 748.55h3.9v3.9h-3.9zM494.25 747.25h3.9v3.9h-3.9zM491.45 746.15h3.9v3.9h-3.9zM488.45 748.55h3.9v3.9h-3.9zM492.05 746.75h3.9v3.9h-3.9zM489.25 746.15h3.9v3.9h-3.9zM500.05 746.85h3.9v3.9h-3.9zM495.75 747.65h3.9v3.9h-3.9zM504.55 748.85h3.9v3.9h-3.9zM502.65 747.25h3.9v3.9h-3.9zM504.25 747.35h3.9v3.9h-3.9zM503.45 747.85h3.9v3.9h-3.9zM512.45 747.05h3.9v3.9h-3.9zM511.15 748.15h3.9v3.9h-3.9zM509.55 746.15h3.9v3.9h-3.9zM512.05 748.95h3.9v3.9h-3.9zM520.35 747.75h3.9v3.9h-3.9zM517.75 747.85h3.9v3.9h-3.9zM516.75 746.65h3.9v3.9h-3.9zM520.55 746.55h3.9v3.9h-3.9zM516.85 747.75h3.9v3.9h-3.9zM517.75 746.25h3.9v3.9h-3.9zM516.25 748.25h3.9v3.9h-3.9zM515.35 747.35h3.9v3.9h-3.9zM515.15 746.15h3.9v3.9h-3.9zM522.15 747.55h3.9v3.9h-3.9zM527.25 748.75h3.9v3.9h-3.9zM523.75 747.45h3.9v3.9h-3.9zM528.95 748.15h3.9v3.9h-3.9zM533.45 747.25h3.9v3.9h-3.9zM529.85 748.75h3.9v3.9h-3.9zM540.05 748.55h3.9v3.9h-3.9zM536.35 746.55h3.9v3.9h-3.9zM538.55 746.15h3.9v3.9h-3.9zM538.15 746.85h3.9v3.9h-3.9zM544.75 748.15h3.9v3.9h-3.9zM542.05 746.95h3.9v3.9h-3.9zM545.65 748.05h3.9v3.9h-3.9zM549.85 748.65h3.9v3.9h-3.9zM550.85 746.95h3.9v3.9h-3.9zM554.35 747.85h3.9v3.9h-3.9zM560.05 747.15h3.9v3.9h-3.9zM563.05 748.35h3.9v3.9h-3.9zM566.05 748.45h3.9v3.9h-3.9zM561.85 746.65h3.9v3.9h-3.9zM567.35 746.95h3.9v3.9h-3.9zM564.75 747.25h3.9v3.9h-3.9zM565.55 745.95h3.9v3.9h-3.9zM572.55 748.35h3.9v3.9h-3.9zM571.35 748.25h3.9v3.9h-3.9zM572.05 748.25h3.9v3.9h-3.9zM573.45 748.25h3.9v3.9h-3.9zM573.45 748.15h3.9v3.9h-3.9zM580.05 746.15h3.9v3.9h-3.9zM585.45 746.55h3.9v3.9h-3.9zM582.95 748.05h3.9v3.9h-3.9zM584.85 747.75h3.9v3.9h-3.9zM588.95 747.45h3.9v3.9h-3.9zM589.95 747.95h3.9v3.9h-3.9zM587.85 746.85h3.9v3.9h-3.9zM587.95 746.25h3.9v3.9h-3.9zM589.35 747.55h3.9v3.9h-3.9zM600.25 746.95h3.9v3.9h-3.9zM596.05 746.45h3.9v3.9h-3.9zM599.15 747.75h3.9v3.9h-3.9zM606.75 746.15h3.9v3.9h-3.9zM601.85 748.95h3.9v3.9h-3.9zM601.05 748.85h3.9v3.9h-3.9zM609.95 748.35h3.9v3.9h-3.9zM618.75 746.15h3.9v3.9h-3.9zM618.15 746.55h3.9v3.9h-3.9zM618.55 746.75h3.9v3.9h-3.9zM391.95 749.05h3.9v3.9h-3.9zM397.65 750.85h3.9v3.9h-3.9zM404.75 749.85h3.9v3.9h-3.9zM409.35 751.15h3.9v3.9h-3.9zM410.25 751.35h3.9v3.9h-3.9zM417.35 751.85h3.9v3.9h-3.9zM427.65 749.85h3.9v3.9h-3.9zM427.95 751.95h3.9v3.9h-3.9zM427.15 751.95h3.9v3.9h-3.9zM426.25 751.05h3.9v3.9h-3.9zM422.45 751.25h3.9v3.9h-3.9zM422.35 751.75h3.9v3.9h-3.9zM432.35 750.45h3.9v3.9h-3.9zM434.15 750.85h3.9v3.9h-3.9zM431.05 751.15h3.9v3.9h-3.9zM438.75 749.35h3.9v3.9h-3.9zM436.75 749.45h3.9v3.9h-3.9zM438.35 749.35h3.9v3.9h-3.9zM446.25 751.35h3.9v3.9h-3.9zM441.85 751.25h3.9v3.9h-3.9zM453.15 751.15h3.9v3.9h-3.9zM453.15 750.35h3.9v3.9h-3.9zM449.75 750.15h3.9v3.9h-3.9zM449.35 751.05h3.9v3.9h-3.9zM452.75 750.85h3.9v3.9h-3.9zM456.05 749.85h3.9v3.9h-3.9zM456.95 749.95h3.9v3.9h-3.9zM459.35 750.15h3.9v3.9h-3.9zM456.25 751.85h3.9v3.9h-3.9zM461.95 751.75h3.9v3.9h-3.9zM461.65 749.25h3.9v3.9h-3.9zM465.45 750.25h3.9v3.9h-3.9zM477.25 749.75h3.9v3.9h-3.9zM478.05 751.75h3.9v3.9h-3.9zM482.05 751.55h3.9v3.9h-3.9zM484.65 750.25h3.9v3.9h-3.9zM487.05 749.75h3.9v3.9h-3.9zM489.65 751.65h3.9v3.9h-3.9zM492.05 750.25h3.9v3.9h-3.9zM493.95 750.65h3.9v3.9h-3.9zM498.95 750.55h3.9v3.9h-3.9zM496.75 749.95h3.9v3.9h-3.9zM497.35 750.95h3.9v3.9h-3.9zM500.95 751.25h3.9v3.9h-3.9zM502.25 751.55h3.9v3.9h-3.9zM501.85 751.35h3.9v3.9h-3.9zM507.85 750.45h3.9v3.9h-3.9zM513.95 752.05h3.9v3.9h-3.9zM511.25 749.15h3.9v3.9h-3.9zM510.95 750.35h3.9v3.9h-3.9zM512.15 750.15h3.9v3.9h-3.9zM517.75 749.05h3.9v3.9h-3.9zM518.65 750.15h3.9v3.9h-3.9zM520.65 750.55h3.9v3.9h-3.9zM515.55 751.35h3.9v3.9h-3.9zM517.05 750.65h3.9v3.9h-3.9zM523.15 749.25h3.9v3.9h-3.9zM524.35 750.45h3.9v3.9h-3.9zM522.45 750.05h3.9v3.9h-3.9zM537.35 751.65h3.9v3.9h-3.9zM535.75 751.45h3.9v3.9h-3.9zM540.85 749.15h3.9v3.9h-3.9zM535.45 751.05h3.9v3.9h-3.9zM538.75 749.45h3.9v3.9h-3.9zM534.45 751.85h3.9v3.9h-3.9zM540.85 751.75h3.9v3.9h-3.9zM534.75 751.25h3.9v3.9h-3.9zM537.25 750.15h3.9v3.9h-3.9zM541.15 749.15h3.9v3.9h-3.9zM543.75 751.25h3.9v3.9h-3.9zM544.75 751.95h3.9v3.9h-3.9zM551.15 750.35h3.9v3.9h-3.9zM550.85 750.45h3.9v3.9h-3.9zM550.95 750.85h3.9v3.9h-3.9zM549.65 749.45h3.9v3.9h-3.9zM554.15 751.25h3.9v3.9h-3.9zM549.45 751.55h3.9v3.9h-3.9zM554.35 749.75h3.9v3.9h-3.9zM560.25 751.95h3.9v3.9h-3.9zM558.35 751.95h3.9v3.9h-3.9zM567.25 749.75h3.9v3.9h-3.9zM579.55 750.75h3.9v3.9h-3.9zM579.75 749.95h3.9v3.9h-3.9zM574.25 750.95h3.9v3.9h-3.9zM581.75 749.25h3.9v3.9h-3.9zM588.55 751.55h3.9v3.9h-3.9zM588.95 750.75h3.9v3.9h-3.9zM594.55 750.05h3.9v3.9h-3.9zM598.35 749.75h3.9v3.9h-3.9zM607.55 749.35h3.9v3.9h-3.9zM625.35 751.55h3.9v3.9h-3.9zM626.85 749.65h3.9v3.9h-3.9zM394.15 754.45h3.9v3.9h-3.9zM392.55 752.15h3.9v3.9h-3.9zM389.15 752.05h3.9v3.9h-3.9zM395.95 754.65h3.9v3.9h-3.9zM405.75 752.85h3.9v3.9h-3.9zM423.35 752.45h3.9v3.9h-3.9zM429.35 752.15h3.9v3.9h-3.9zM434.55 753.95h3.9v3.9h-3.9zM447.85 752.55h3.9v3.9h-3.9zM444.55 753.35h3.9v3.9h-3.9zM451.25 753.45h3.9v3.9h-3.9zM450.45 752.65h3.9v3.9h-3.9zM449.35 755.05h3.9v3.9h-3.9zM454.35 752.55h3.9v3.9h-3.9zM457.65 752.15h3.9v3.9h-3.9zM458.35 752.85h3.9v3.9h-3.9zM460.95 753.95h3.9v3.9h-3.9zM456.75 754.65h3.9v3.9h-3.9zM467.25 754.35h3.9v3.9h-3.9zM466.55 754.35h3.9v3.9h-3.9zM463.05 755.05h3.9v3.9h-3.9zM466.25 754.85h3.9v3.9h-3.9zM469.05 752.95h3.9v3.9h-3.9zM471.65 752.05h3.9v3.9h-3.9zM470.35 753.75h3.9v3.9h-3.9zM474.25 754.15h3.9v3.9h-3.9zM476.35 754.05h3.9v3.9h-3.9zM476.35 752.05h3.9v3.9h-3.9zM479.35 752.25h3.9v3.9h-3.9zM487.25 753.35h3.9v3.9h-3.9zM482.65 754.75h3.9v3.9h-3.9zM489.45 753.85h3.9v3.9h-3.9zM493.15 752.45h3.9v3.9h-3.9zM488.95 752.95h3.9v3.9h-3.9zM489.65 753.15h3.9v3.9h-3.9zM495.95 752.65h3.9v3.9h-3.9zM496.95 754.65h3.9v3.9h-3.9zM500.55 753.45h3.9v3.9h-3.9zM496.95 753.05h3.9v3.9h-3.9zM498.35 753.45h3.9v3.9h-3.9zM501.15 754.15h3.9v3.9h-3.9zM496.95 753.75h3.9v3.9h-3.9zM497.65 754.95h3.9v3.9h-3.9zM501.45 752.85h3.9v3.9h-3.9zM503.35 752.85h3.9v3.9h-3.9zM505.45 752.45h3.9v3.9h-3.9zM509.55 754.45h3.9v3.9h-3.9zM514.35 752.55h3.9v3.9h-3.9zM508.45 754.75h3.9v3.9h-3.9zM514.45 753.25h3.9v3.9h-3.9zM520.05 753.45h3.9v3.9h-3.9zM515.15 754.45h3.9v3.9h-3.9zM514.45 752.65h3.9v3.9h-3.9zM519.35 754.35h3.9v3.9h-3.9zM522.65 754.45h3.9v3.9h-3.9zM527.15 753.95h3.9v3.9h-3.9zM522.15 752.95h3.9v3.9h-3.9zM524.95 753.45h3.9v3.9h-3.9zM523.65 752.15h3.9v3.9h-3.9zM534.05 752.85h3.9v3.9h-3.9zM532.25 754.25h3.9v3.9h-3.9zM529.35 753.85h3.9v3.9h-3.9zM532.45 753.85h3.9v3.9h-3.9zM537.65 753.35h3.9v3.9h-3.9zM535.65 752.25h3.9v3.9h-3.9zM540.85 753.15h3.9v3.9h-3.9zM540.95 752.75h3.9v3.9h-3.9zM545.05 754.25h3.9v3.9h-3.9zM542.05 753.65h3.9v3.9h-3.9zM545.25 754.25h3.9v3.9h-3.9zM552.35 753.45h3.9v3.9h-3.9zM552.25 754.25h3.9v3.9h-3.9zM552.65 754.25h3.9v3.9h-3.9zM558.15 755.05h3.9v3.9h-3.9zM555.45 752.95h3.9v3.9h-3.9zM554.85 754.05h3.9v3.9h-3.9zM557.35 753.55h3.9v3.9h-3.9zM556.55 753.15h3.9v3.9h-3.9zM558.05 752.55h3.9v3.9h-3.9zM563.55 753.05h3.9v3.9h-3.9zM566.15 752.75h3.9v3.9h-3.9zM564.35 755.05h3.9v3.9h-3.9zM573.35 752.75h3.9v3.9h-3.9zM570.75 753.55h3.9v3.9h-3.9zM570.45 754.05h3.9v3.9h-3.9zM568.75 752.95h3.9v3.9h-3.9zM576.05 754.95h3.9v3.9h-3.9zM578.15 753.05h3.9v3.9h-3.9zM584.65 753.85h3.9v3.9h-3.9zM596.45 752.85h3.9v3.9h-3.9zM598.95 754.35h3.9v3.9h-3.9zM597.55 753.65h3.9v3.9h-3.9zM595.85 755.05h3.9v3.9h-3.9zM612.45 755.05h3.9v3.9h-3.9zM620.35 753.45h3.9v3.9h-3.9zM619.55 752.15h3.9v3.9h-3.9zM621.55 752.05h3.9v3.9h-3.9zM399.15 757.75h3.9v3.9h-3.9zM400.35 757.05h3.9v3.9h-3.9zM403.65 756.85h3.9v3.9h-3.9zM419.25 755.75h3.9v3.9h-3.9zM427.85 755.55h3.9v3.9h-3.9zM424.35 756.05h3.9v3.9h-3.9zM424.35 755.25h3.9v3.9h-3.9zM433.35 756.45h3.9v3.9h-3.9zM440.05 756.65h3.9v3.9h-3.9zM436.85 757.15h3.9v3.9h-3.9zM439.65 755.25h3.9v3.9h-3.9zM439.75 758.05h3.9v3.9h-3.9zM452.55 756.05h3.9v3.9h-3.9zM449.75 757.15h3.9v3.9h-3.9zM450.45 755.25h3.9v3.9h-3.9zM450.15 757.85h3.9v3.9h-3.9zM458.85 755.65h3.9v3.9h-3.9zM460.25 758.15h3.9v3.9h-3.9zM465.95 757.85h3.9v3.9h-3.9zM466.35 755.55h3.9v3.9h-3.9zM468.05 757.95h3.9v3.9h-3.9zM468.85 757.55h3.9v3.9h-3.9zM471.75 758.15h3.9v3.9h-3.9zM480.35 757.45h3.9v3.9h-3.9zM479.55 756.65h3.9v3.9h-3.9zM486.05 756.95h3.9v3.9h-3.9zM484.95 757.75h3.9v3.9h-3.9zM489.65 757.15h3.9v3.9h-3.9zM491.35 757.85h3.9v3.9h-3.9zM499.05 756.15h3.9v3.9h-3.9zM497.25 757.55h3.9v3.9h-3.9zM495.05 757.15h3.9v3.9h-3.9zM502.05 757.35h3.9v3.9h-3.9zM503.35 755.85h3.9v3.9h-3.9zM502.55 757.05h3.9v3.9h-3.9zM510.75 756.35h3.9v3.9h-3.9zM509.05 757.45h3.9v3.9h-3.9zM516.75 756.25h3.9v3.9h-3.9zM515.15 757.05h3.9v3.9h-3.9zM516.45 758.05h3.9v3.9h-3.9zM520.45 755.25h3.9v3.9h-3.9zM515.75 757.15h3.9v3.9h-3.9zM527.55 757.15h3.9v3.9h-3.9zM523.85 757.95h3.9v3.9h-3.9zM524.95 757.15h3.9v3.9h-3.9zM527.05 755.25h3.9v3.9h-3.9zM521.75 755.35h3.9v3.9h-3.9zM522.95 758.15h3.9v3.9h-3.9zM533.85 757.45h3.9v3.9h-3.9zM528.05 756.95h3.9v3.9h-3.9zM533.95 756.35h3.9v3.9h-3.9zM528.55 755.25h3.9v3.9h-3.9zM531.25 756.25h3.9v3.9h-3.9zM536.15 757.15h3.9v3.9h-3.9zM540.55 755.45h3.9v3.9h-3.9zM534.65 756.55h3.9v3.9h-3.9zM540.55 757.85h3.9v3.9h-3.9zM535.75 757.05h3.9v3.9h-3.9zM534.85 757.55h3.9v3.9h-3.9zM534.75 758.05h3.9v3.9h-3.9zM543.35 755.75h3.9v3.9h-3.9zM541.15 756.55h3.9v3.9h-3.9zM546.45 757.45h3.9v3.9h-3.9zM550.65 757.85h3.9v3.9h-3.9zM548.85 756.75h3.9v3.9h-3.9zM550.65 756.45h3.9v3.9h-3.9zM559.95 756.55h3.9v3.9h-3.9zM559.85 756.05h3.9v3.9h-3.9zM554.55 758.15h3.9v3.9h-3.9zM562.25 756.15h3.9v3.9h-3.9zM568.25 758.15h3.9v3.9h-3.9zM570.55 755.55h3.9v3.9h-3.9zM569.45 756.65h3.9v3.9h-3.9zM574.75 756.05h3.9v3.9h-3.9zM575.95 757.85h3.9v3.9h-3.9zM579.85 757.25h3.9v3.9h-3.9zM578.55 755.55h3.9v3.9h-3.9zM574.15 755.35h3.9v3.9h-3.9zM577.05 756.05h3.9v3.9h-3.9zM582.75 755.65h3.9v3.9h-3.9zM586.05 757.65h3.9v3.9h-3.9zM591.25 757.45h3.9v3.9h-3.9zM593.15 757.65h3.9v3.9h-3.9zM595.45 756.75h3.9v3.9h-3.9zM598.65 757.05h3.9v3.9h-3.9zM598.05 757.35h3.9v3.9h-3.9zM602.45 756.85h3.9v3.9h-3.9zM612.85 757.05h3.9v3.9h-3.9zM610.35 756.35h3.9v3.9h-3.9zM623.45 757.15h3.9v3.9h-3.9zM621.95 756.45h3.9v3.9h-3.9zM400.55 760.55h3.9v3.9h-3.9zM409.55 758.25h3.9v3.9h-3.9zM410.85 760.05h3.9v3.9h-3.9zM429.85 759.75h3.9v3.9h-3.9zM437.05 758.65h3.9v3.9h-3.9zM440.25 760.15h3.9v3.9h-3.9zM442.65 759.85h3.9v3.9h-3.9zM445.95 758.35h3.9v3.9h-3.9zM446.45 761.05h3.9v3.9h-3.9zM451.75 760.45h3.9v3.9h-3.9zM453.45 761.05h3.9v3.9h-3.9zM450.95 758.35h3.9v3.9h-3.9zM453.15 761.25h3.9v3.9h-3.9zM459.35 761.05h3.9v3.9h-3.9zM456.85 760.05h3.9v3.9h-3.9zM462.65 760.45h3.9v3.9h-3.9zM466.55 759.65h3.9v3.9h-3.9zM467.25 758.75h3.9v3.9h-3.9zM473.65 759.15h3.9v3.9h-3.9zM475.55 760.65h3.9v3.9h-3.9zM477.65 759.25h3.9v3.9h-3.9zM478.35 758.35h3.9v3.9h-3.9zM481.65 760.45h3.9v3.9h-3.9zM485.75 760.65h3.9v3.9h-3.9zM484.45 760.85h3.9v3.9h-3.9zM490.35 758.35h3.9v3.9h-3.9zM494.35 760.75h3.9v3.9h-3.9zM493.15 758.25h3.9v3.9h-3.9zM493.95 758.55h3.9v3.9h-3.9zM499.65 758.25h3.9v3.9h-3.9zM500.05 758.65h3.9v3.9h-3.9zM505.75 760.05h3.9v3.9h-3.9zM505.95 758.55h3.9v3.9h-3.9zM509.65 760.75h3.9v3.9h-3.9zM509.35 758.55h3.9v3.9h-3.9zM513.15 761.15h3.9v3.9h-3.9zM508.65 758.35h3.9v3.9h-3.9zM511.25 759.95h3.9v3.9h-3.9zM512.15 760.05h3.9v3.9h-3.9zM511.05 758.55h3.9v3.9h-3.9zM510.25 759.65h3.9v3.9h-3.9zM514.35 759.75h3.9v3.9h-3.9zM512.15 760.25h3.9v3.9h-3.9zM515.75 759.55h3.9v3.9h-3.9zM516.45 760.95h3.9v3.9h-3.9zM515.05 758.35h3.9v3.9h-3.9zM522.85 759.35h3.9v3.9h-3.9zM524.35 759.95h3.9v3.9h-3.9zM531.45 760.85h3.9v3.9h-3.9zM529.15 758.65h3.9v3.9h-3.9zM528.25 759.45h3.9v3.9h-3.9zM534.35 760.15h3.9v3.9h-3.9zM528.45 761.15h3.9v3.9h-3.9zM538.25 760.75h3.9v3.9h-3.9zM536.35 760.15h3.9v3.9h-3.9zM539.15 761.25h3.9v3.9h-3.9zM539.95 760.05h3.9v3.9h-3.9zM534.85 760.45h3.9v3.9h-3.9zM535.15 761.05h3.9v3.9h-3.9zM542.25 758.25h3.9v3.9h-3.9zM547.45 759.65h3.9v3.9h-3.9zM544.85 760.85h3.9v3.9h-3.9zM542.15 759.15h3.9v3.9h-3.9zM545.25 759.25h3.9v3.9h-3.9zM545.85 759.45h3.9v3.9h-3.9zM544.85 759.85h3.9v3.9h-3.9zM548.65 759.45h3.9v3.9h-3.9zM551.45 760.75h3.9v3.9h-3.9zM551.25 759.75h3.9v3.9h-3.9zM550.65 758.35h3.9v3.9h-3.9zM549.65 760.55h3.9v3.9h-3.9zM551.85 758.45h3.9v3.9h-3.9zM556.95 758.35h3.9v3.9h-3.9zM555.45 760.35h3.9v3.9h-3.9zM559.75 758.45h3.9v3.9h-3.9zM555.35 758.95h3.9v3.9h-3.9zM559.65 759.65h3.9v3.9h-3.9zM556.15 760.05h3.9v3.9h-3.9zM566.55 761.05h3.9v3.9h-3.9zM564.55 760.05h3.9v3.9h-3.9zM566.65 758.55h3.9v3.9h-3.9zM563.15 759.25h3.9v3.9h-3.9zM564.75 760.55h3.9v3.9h-3.9zM564.75 759.95h3.9v3.9h-3.9zM571.55 760.45h3.9v3.9h-3.9zM572.05 758.55h3.9v3.9h-3.9zM570.85 760.15h3.9v3.9h-3.9zM572.15 761.15h3.9v3.9h-3.9zM568.15 758.85h3.9v3.9h-3.9zM571.85 758.35h3.9v3.9h-3.9zM578.25 760.15h3.9v3.9h-3.9zM582.95 759.15h3.9v3.9h-3.9zM587.45 758.35h3.9v3.9h-3.9zM592.95 758.75h3.9v3.9h-3.9zM597.75 758.45h3.9v3.9h-3.9zM595.55 760.05h3.9v3.9h-3.9zM604.85 758.95h3.9v3.9h-3.9zM608.25 759.05h3.9v3.9h-3.9zM616.45 759.85h3.9v3.9h-3.9zM617.25 761.05h3.9v3.9h-3.9zM618.95 759.75h3.9v3.9h-3.9zM394.85 763.55h3.9v3.9h-3.9zM392.45 762.95h3.9v3.9h-3.9zM392.65 761.45h3.9v3.9h-3.9zM392.75 761.55h3.9v3.9h-3.9zM397.15 763.55h3.9v3.9h-3.9zM415.25 761.75h3.9v3.9h-3.9zM420.35 763.25h3.9v3.9h-3.9zM420.65 762.85h3.9v3.9h-3.9zM424.15 763.75h3.9v3.9h-3.9zM428.55 762.75h3.9v3.9h-3.9zM438.15 763.55h3.9v3.9h-3.9zM437.05 763.35h3.9v3.9h-3.9zM442.15 763.05h3.9v3.9h-3.9zM448.85 761.85h3.9v3.9h-3.9zM453.95 762.45h3.9v3.9h-3.9zM456.45 761.45h3.9v3.9h-3.9zM464.35 764.25h3.9v3.9h-3.9zM464.05 761.25h3.9v3.9h-3.9zM464.15 763.15h3.9v3.9h-3.9zM472.65 762.55h3.9v3.9h-3.9zM478.65 763.65h3.9v3.9h-3.9zM479.95 763.05h3.9v3.9h-3.9zM479.65 763.75h3.9v3.9h-3.9zM480.15 761.95h3.9v3.9h-3.9zM481.25 763.95h3.9v3.9h-3.9zM481.95 762.85h3.9v3.9h-3.9zM491.85 762.25h3.9v3.9h-3.9zM488.75 761.25h3.9v3.9h-3.9zM495.05 762.95h3.9v3.9h-3.9zM498.85 764.15h3.9v3.9h-3.9zM496.35 763.95h3.9v3.9h-3.9zM505.65 763.75h3.9v3.9h-3.9zM506.75 763.15h3.9v3.9h-3.9zM503.45 761.65h3.9v3.9h-3.9zM509.95 763.85h3.9v3.9h-3.9zM511.85 764.05h3.9v3.9h-3.9zM518.65 764.25h3.9v3.9h-3.9zM518.65 764.15h3.9v3.9h-3.9zM526.15 763.85h3.9v3.9h-3.9zM521.15 763.05h3.9v3.9h-3.9zM524.45 762.65h3.9v3.9h-3.9zM523.25 761.55h3.9v3.9h-3.9zM524.55 763.95h3.9v3.9h-3.9zM526.25 761.35h3.9v3.9h-3.9zM527.85 762.55h3.9v3.9h-3.9zM528.85 763.65h3.9v3.9h-3.9zM531.05 762.85h3.9v3.9h-3.9zM528.35 761.65h3.9v3.9h-3.9zM528.95 761.75h3.9v3.9h-3.9zM537.05 762.85h3.9v3.9h-3.9zM534.65 762.55h3.9v3.9h-3.9zM538.65 761.35h3.9v3.9h-3.9zM541.35 763.35h3.9v3.9h-3.9zM544.15 761.35h3.9v3.9h-3.9zM545.75 763.85h3.9v3.9h-3.9zM545.15 762.45h3.9v3.9h-3.9zM543.15 761.45h3.9v3.9h-3.9zM542.65 764.25h3.9v3.9h-3.9zM548.75 762.45h3.9v3.9h-3.9zM548.75 763.75h3.9v3.9h-3.9zM552.75 763.65h3.9v3.9h-3.9zM557.05 762.85h3.9v3.9h-3.9zM559.15 761.65h3.9v3.9h-3.9zM557.15 762.95h3.9v3.9h-3.9zM558.35 763.65h3.9v3.9h-3.9zM557.25 764.25h3.9v3.9h-3.9zM555.45 763.95h3.9v3.9h-3.9zM563.65 762.75h3.9v3.9h-3.9zM564.35 763.35h3.9v3.9h-3.9zM567.05 761.35h3.9v3.9h-3.9zM561.75 762.05h3.9v3.9h-3.9zM563.25 762.35h3.9v3.9h-3.9zM560.95 761.85h3.9v3.9h-3.9zM573.05 761.25h3.9v3.9h-3.9zM572.15 762.35h3.9v3.9h-3.9zM575.05 764.05h3.9v3.9h-3.9zM578.55 763.65h3.9v3.9h-3.9zM576.95 764.05h3.9v3.9h-3.9zM581.75 763.25h3.9v3.9h-3.9zM582.45 762.45h3.9v3.9h-3.9zM582.45 761.65h3.9v3.9h-3.9zM584.15 763.95h3.9v3.9h-3.9zM583.05 761.85h3.9v3.9h-3.9zM587.65 763.45h3.9v3.9h-3.9zM593.65 763.35h3.9v3.9h-3.9zM600.55 763.35h3.9v3.9h-3.9zM596.55 764.05h3.9v3.9h-3.9zM599.85 762.45h3.9v3.9h-3.9zM596.65 761.75h3.9v3.9h-3.9zM600.25 763.45h3.9v3.9h-3.9zM605.45 764.15h3.9v3.9h-3.9zM611.45 761.45h3.9v3.9h-3.9zM610.05 762.55h3.9v3.9h-3.9zM617.35 763.25h3.9v3.9h-3.9zM615.45 763.05h3.9v3.9h-3.9zM394.75 767.15h3.9v3.9h-3.9zM413.45 765.35h3.9v3.9h-3.9zM422.55 766.55h3.9v3.9h-3.9zM423.75 767.15h3.9v3.9h-3.9zM428.55 765.95h3.9v3.9h-3.9zM433.15 764.65h3.9v3.9h-3.9zM438.15 766.15h3.9v3.9h-3.9zM446.45 765.85h3.9v3.9h-3.9zM445.45 766.25h3.9v3.9h-3.9zM452.95 765.95h3.9v3.9h-3.9zM452.45 765.05h3.9v3.9h-3.9zM460.95 765.25h3.9v3.9h-3.9zM457.85 764.45h3.9v3.9h-3.9zM464.05 764.85h3.9v3.9h-3.9zM471.15 765.75h3.9v3.9h-3.9zM478.15 766.35h3.9v3.9h-3.9zM477.05 767.35h3.9v3.9h-3.9zM480.05 766.95h3.9v3.9h-3.9zM485.45 766.95h3.9v3.9h-3.9zM494.45 767.15h3.9v3.9h-3.9zM490.45 766.85h3.9v3.9h-3.9zM489.35 766.35h3.9v3.9h-3.9zM495.75 766.05h3.9v3.9h-3.9zM499.45 764.35h3.9v3.9h-3.9zM499.05 765.05h3.9v3.9h-3.9zM507.45 765.45h3.9v3.9h-3.9zM502.35 765.35h3.9v3.9h-3.9zM507.45 766.45h3.9v3.9h-3.9zM503.35 764.65h3.9v3.9h-3.9zM505.75 766.55h3.9v3.9h-3.9zM508.95 765.95h3.9v3.9h-3.9zM512.55 767.35h3.9v3.9h-3.9zM509.85 764.75h3.9v3.9h-3.9zM513.35 766.55h3.9v3.9h-3.9zM508.65 765.75h3.9v3.9h-3.9zM518.05 765.25h3.9v3.9h-3.9zM520.65 765.65h3.9v3.9h-3.9zM518.75 766.85h3.9v3.9h-3.9zM519.85 765.85h3.9v3.9h-3.9zM519.95 766.45h3.9v3.9h-3.9zM526.55 766.95h3.9v3.9h-3.9zM522.25 766.65h3.9v3.9h-3.9zM522.15 765.45h3.9v3.9h-3.9zM526.15 764.45h3.9v3.9h-3.9zM527.55 764.95h3.9v3.9h-3.9zM533.05 764.45h3.9v3.9h-3.9zM529.25 765.45h3.9v3.9h-3.9zM532.35 767.15h3.9v3.9h-3.9zM532.15 764.75h3.9v3.9h-3.9zM533.35 767.35h3.9v3.9h-3.9zM532.95 765.25h3.9v3.9h-3.9zM532.85 764.75h3.9v3.9h-3.9zM531.55 766.55h3.9v3.9h-3.9zM535.55 767.25h3.9v3.9h-3.9zM540.55 764.75h3.9v3.9h-3.9zM535.55 766.05h3.9v3.9h-3.9zM539.75 766.15h3.9v3.9h-3.9zM540.85 765.35h3.9v3.9h-3.9zM542.55 767.15h3.9v3.9h-3.9zM542.05 765.35h3.9v3.9h-3.9zM546.65 765.15h3.9v3.9h-3.9zM552.65 766.35h3.9v3.9h-3.9zM548.45 766.45h3.9v3.9h-3.9zM548.65 766.85h3.9v3.9h-3.9zM548.05 764.95h3.9v3.9h-3.9zM550.85 766.85h3.9v3.9h-3.9zM558.75 765.25h3.9v3.9h-3.9zM556.25 764.35h3.9v3.9h-3.9zM561.55 764.95h3.9v3.9h-3.9zM568.85 765.15h3.9v3.9h-3.9zM571.65 766.35h3.9v3.9h-3.9zM570.75 765.65h3.9v3.9h-3.9zM572.95 764.75h3.9v3.9h-3.9zM568.15 766.35h3.9v3.9h-3.9zM572.65 765.35h3.9v3.9h-3.9zM578.35 766.05h3.9v3.9h-3.9zM574.25 764.55h3.9v3.9h-3.9zM580.85 766.65h3.9v3.9h-3.9zM588.35 767.15h3.9v3.9h-3.9zM590.35 765.25h3.9v3.9h-3.9zM595.65 764.55h3.9v3.9h-3.9zM599.65 766.85h3.9v3.9h-3.9zM598.55 764.95h3.9v3.9h-3.9zM603.95 766.75h3.9v3.9h-3.9zM605.85 766.75h3.9v3.9h-3.9zM603.45 765.05h3.9v3.9h-3.9zM613.15 764.95h3.9v3.9h-3.9zM608.45 765.65h3.9v3.9h-3.9zM611.45 765.15h3.9v3.9h-3.9zM608.45 766.95h3.9v3.9h-3.9zM610.95 765.65h3.9v3.9h-3.9zM614.75 764.55h3.9v3.9h-3.9zM618.15 765.35h3.9v3.9h-3.9zM614.15 765.95h3.9v3.9h-3.9zM622.75 767.15h3.9v3.9h-3.9zM624.85 764.75h3.9v3.9h-3.9zM404.95 767.55h3.9v3.9h-3.9zM422.25 770.15h3.9v3.9h-3.9zM428.55 770.45h3.9v3.9h-3.9zM429.95 767.45h3.9v3.9h-3.9zM451.55 768.85h3.9v3.9h-3.9zM460.55 768.05h3.9v3.9h-3.9zM456.15 770.15h3.9v3.9h-3.9zM457.25 768.85h3.9v3.9h-3.9zM459.25 770.25h3.9v3.9h-3.9zM463.15 770.05h3.9v3.9h-3.9zM462.95 770.25h3.9v3.9h-3.9zM466.35 768.45h3.9v3.9h-3.9zM462.45 769.85h3.9v3.9h-3.9zM469.25 767.95h3.9v3.9h-3.9zM471.45 769.75h3.9v3.9h-3.9zM477.95 768.75h3.9v3.9h-3.9zM481.35 767.45h3.9v3.9h-3.9zM482.55 768.15h3.9v3.9h-3.9zM483.95 769.95h3.9v3.9h-3.9zM487.15 770.05h3.9v3.9h-3.9zM489.65 769.85h3.9v3.9h-3.9zM488.45 770.35h3.9v3.9h-3.9zM489.35 769.85h3.9v3.9h-3.9zM492.05 768.85h3.9v3.9h-3.9zM493.75 768.15h3.9v3.9h-3.9zM492.65 768.15h3.9v3.9h-3.9zM493.05 769.35h3.9v3.9h-3.9zM497.75 770.15h3.9v3.9h-3.9zM499.25 767.95h3.9v3.9h-3.9zM499.65 769.65h3.9v3.9h-3.9zM495.35 767.85h3.9v3.9h-3.9zM498.35 768.05h3.9v3.9h-3.9zM494.75 770.05h3.9v3.9h-3.9zM500.75 770.35h3.9v3.9h-3.9zM506.25 768.45h3.9v3.9h-3.9zM504.55 770.45h3.9v3.9h-3.9zM514.35 767.55h3.9v3.9h-3.9zM507.85 768.15h3.9v3.9h-3.9zM512.45 769.65h3.9v3.9h-3.9zM508.55 768.35h3.9v3.9h-3.9zM511.25 770.25h3.9v3.9h-3.9zM515.55 770.35h3.9v3.9h-3.9zM520.55 767.45h3.9v3.9h-3.9zM526.65 768.25h3.9v3.9h-3.9zM521.15 768.15h3.9v3.9h-3.9zM528.65 770.05h3.9v3.9h-3.9zM528.25 768.45h3.9v3.9h-3.9zM533.95 769.75h3.9v3.9h-3.9zM529.45 770.35h3.9v3.9h-3.9zM532.05 767.65h3.9v3.9h-3.9zM531.35 768.35h3.9v3.9h-3.9zM533.75 767.65h3.9v3.9h-3.9zM535.45 769.95h3.9v3.9h-3.9zM538.15 768.75h3.9v3.9h-3.9zM534.65 767.65h3.9v3.9h-3.9zM546.85 770.25h3.9v3.9h-3.9zM541.05 768.85h3.9v3.9h-3.9zM543.95 769.35h3.9v3.9h-3.9zM553.35 768.75h3.9v3.9h-3.9zM554.45 767.55h3.9v3.9h-3.9zM560.75 767.85h3.9v3.9h-3.9zM558.85 768.75h3.9v3.9h-3.9zM562.15 768.75h3.9v3.9h-3.9zM560.95 768.65h3.9v3.9h-3.9zM573.05 770.45h3.9v3.9h-3.9zM573.65 768.25h3.9v3.9h-3.9zM572.15 768.05h3.9v3.9h-3.9zM573.05 769.05h3.9v3.9h-3.9zM580.45 767.85h3.9v3.9h-3.9zM580.85 769.65h3.9v3.9h-3.9zM586.65 769.95h3.9v3.9h-3.9zM594.95 768.65h3.9v3.9h-3.9zM606.65 769.65h3.9v3.9h-3.9zM606.75 767.95h3.9v3.9h-3.9zM601.45 768.95h3.9v3.9h-3.9zM617.45 770.35h3.9v3.9h-3.9zM618.25 768.15h3.9v3.9h-3.9zM619.55 768.75h3.9v3.9h-3.9zM625.15 770.45h3.9v3.9h-3.9zM390.85 770.95h3.9v3.9h-3.9zM410.85 771.65h3.9v3.9h-3.9zM415.95 770.55h3.9v3.9h-3.9zM431.95 772.45h3.9v3.9h-3.9zM447.05 771.25h3.9v3.9h-3.9zM448.05 773.35h3.9v3.9h-3.9zM464.65 772.25h3.9v3.9h-3.9zM472.25 773.05h3.9v3.9h-3.9zM476.95 773.45h3.9v3.9h-3.9zM480.75 772.05h3.9v3.9h-3.9zM487.95 772.75h3.9v3.9h-3.9zM485.65 771.85h3.9v3.9h-3.9zM493.75 771.85h3.9v3.9h-3.9zM490.85 771.15h3.9v3.9h-3.9zM494.35 773.45h3.9v3.9h-3.9zM493.05 771.75h3.9v3.9h-3.9zM495.65 772.35h3.9v3.9h-3.9zM504.35 772.95h3.9v3.9h-3.9zM504.05 772.95h3.9v3.9h-3.9zM506.85 772.65h3.9v3.9h-3.9zM502.55 772.35h3.9v3.9h-3.9zM501.45 770.95h3.9v3.9h-3.9zM501.75 771.05h3.9v3.9h-3.9zM503.85 771.15h3.9v3.9h-3.9zM514.35 771.05h3.9v3.9h-3.9zM514.35 771.75h3.9v3.9h-3.9zM511.55 773.05h3.9v3.9h-3.9zM516.45 772.95h3.9v3.9h-3.9zM516.85 773.15h3.9v3.9h-3.9zM520.25 773.05h3.9v3.9h-3.9zM527.45 773.55h3.9v3.9h-3.9zM523.75 772.45h3.9v3.9h-3.9zM526.75 772.95h3.9v3.9h-3.9zM521.75 773.05h3.9v3.9h-3.9zM522.75 772.65h3.9v3.9h-3.9zM530.65 771.55h3.9v3.9h-3.9zM528.65 773.45h3.9v3.9h-3.9zM534.05 772.55h3.9v3.9h-3.9zM534.45 772.95h3.9v3.9h-3.9zM538.05 772.25h3.9v3.9h-3.9zM537.25 772.75h3.9v3.9h-3.9zM539.55 772.55h3.9v3.9h-3.9zM543.45 770.75h3.9v3.9h-3.9zM541.55 773.35h3.9v3.9h-3.9zM541.15 773.35h3.9v3.9h-3.9zM544.05 773.35h3.9v3.9h-3.9zM543.45 771.95h3.9v3.9h-3.9zM543.65 771.25h3.9v3.9h-3.9zM552.65 770.55h3.9v3.9h-3.9zM552.35 771.25h3.9v3.9h-3.9zM547.75 771.95h3.9v3.9h-3.9zM556.65 772.65h3.9v3.9h-3.9zM560.85 770.75h3.9v3.9h-3.9zM563.75 773.05h3.9v3.9h-3.9zM571.15 773.35h3.9v3.9h-3.9zM570.95 771.45h3.9v3.9h-3.9zM569.25 771.65h3.9v3.9h-3.9zM573.55 771.75h3.9v3.9h-3.9zM586.35 770.55h3.9v3.9h-3.9zM587.05 771.15h3.9v3.9h-3.9zM581.65 771.95h3.9v3.9h-3.9zM584.95 773.05h3.9v3.9h-3.9zM584.05 773.25h3.9v3.9h-3.9zM589.25 771.15h3.9v3.9h-3.9zM597.85 772.65h3.9v3.9h-3.9zM598.65 770.55h3.9v3.9h-3.9zM595.35 772.15h3.9v3.9h-3.9zM597.85 773.35h3.9v3.9h-3.9zM603.65 770.95h3.9v3.9h-3.9zM604.65 772.25h3.9v3.9h-3.9zM602.05 770.85h3.9v3.9h-3.9zM612.35 770.65h3.9v3.9h-3.9zM417.65 774.95h3.9v3.9h-3.9zM435.15 773.75h3.9v3.9h-3.9zM450.45 775.15h3.9v3.9h-3.9zM452.15 774.35h3.9v3.9h-3.9zM469.05 774.85h3.9v3.9h-3.9zM468.65 775.25h3.9v3.9h-3.9zM476.45 774.95h3.9v3.9h-3.9zM477.65 774.25h3.9v3.9h-3.9zM477.65 775.35h3.9v3.9h-3.9zM486.45 776.45h3.9v3.9h-3.9zM486.85 775.55h3.9v3.9h-3.9zM487.55 774.85h3.9v3.9h-3.9zM496.15 773.95h3.9v3.9h-3.9zM495.85 773.85h3.9v3.9h-3.9zM503.95 775.15h3.9v3.9h-3.9zM503.95 776.35h3.9v3.9h-3.9zM504.95 774.55h3.9v3.9h-3.9zM507.05 775.25h3.9v3.9h-3.9zM504.55 774.15h3.9v3.9h-3.9zM508.75 774.45h3.9v3.9h-3.9zM510.15 774.35h3.9v3.9h-3.9zM513.55 776.15h3.9v3.9h-3.9zM508.85 774.05h3.9v3.9h-3.9zM514.85 776.25h3.9v3.9h-3.9zM516.95 775.45h3.9v3.9h-3.9zM523.35 776.55h3.9v3.9h-3.9zM521.45 776.45h3.9v3.9h-3.9zM522.45 775.85h3.9v3.9h-3.9zM523.55 776.45h3.9v3.9h-3.9zM523.65 775.25h3.9v3.9h-3.9zM532.35 775.35h3.9v3.9h-3.9zM527.95 773.85h3.9v3.9h-3.9zM534.65 774.35h3.9v3.9h-3.9zM540.55 774.25h3.9v3.9h-3.9zM544.35 774.15h3.9v3.9h-3.9zM541.05 776.15h3.9v3.9h-3.9zM548.65 774.55h3.9v3.9h-3.9zM556.85 774.65h3.9v3.9h-3.9zM556.15 775.25h3.9v3.9h-3.9zM555.05 775.85h3.9v3.9h-3.9zM568.75 774.05h3.9v3.9h-3.9zM567.85 774.25h3.9v3.9h-3.9zM568.05 775.15h3.9v3.9h-3.9zM579.15 774.55h3.9v3.9h-3.9zM586.05 774.45h3.9v3.9h-3.9zM584.25 773.55h3.9v3.9h-3.9zM585.15 773.85h3.9v3.9h-3.9zM603.05 773.65h3.9v3.9h-3.9zM608.35 776.45h3.9v3.9h-3.9zM612.65 775.55h3.9v3.9h-3.9zM609.95 774.95h3.9v3.9h-3.9zM620.25 775.65h3.9v3.9h-3.9zM402.85 777.95h3.9v3.9h-3.9zM418.95 778.45h3.9v3.9h-3.9zM422.05 776.85h3.9v3.9h-3.9zM441.15 779.55h3.9v3.9h-3.9zM453.15 778.25h3.9v3.9h-3.9zM453.85 779.25h3.9v3.9h-3.9zM461.55 777.65h3.9v3.9h-3.9zM466.55 777.85h3.9v3.9h-3.9zM472.35 778.15h3.9v3.9h-3.9zM476.65 777.15h3.9v3.9h-3.9zM477.45 778.15h3.9v3.9h-3.9zM489.85 776.95h3.9v3.9h-3.9zM492.25 777.75h3.9v3.9h-3.9zM500.25 776.95h3.9v3.9h-3.9zM495.95 778.45h3.9v3.9h-3.9zM504.85 778.75h3.9v3.9h-3.9zM512.65 777.05h3.9v3.9h-3.9zM510.65 777.05h3.9v3.9h-3.9zM508.15 778.55h3.9v3.9h-3.9zM513.45 777.55h3.9v3.9h-3.9zM509.05 778.65h3.9v3.9h-3.9zM517.35 779.55h3.9v3.9h-3.9zM516.65 779.45h3.9v3.9h-3.9zM515.95 777.15h3.9v3.9h-3.9zM526.05 779.05h3.9v3.9h-3.9zM525.15 779.35h3.9v3.9h-3.9zM527.85 777.55h3.9v3.9h-3.9zM528.75 778.25h3.9v3.9h-3.9zM535.95 777.55h3.9v3.9h-3.9zM539.65 778.55h3.9v3.9h-3.9zM542.35 779.55h3.9v3.9h-3.9zM545.75 778.25h3.9v3.9h-3.9zM546.15 779.05h3.9v3.9h-3.9zM541.25 777.05h3.9v3.9h-3.9zM558.95 777.85h3.9v3.9h-3.9zM560.95 777.85h3.9v3.9h-3.9zM561.45 777.45h3.9v3.9h-3.9zM565.65 776.65h3.9v3.9h-3.9zM566.75 779.35h3.9v3.9h-3.9zM568.45 779.25h3.9v3.9h-3.9zM572.25 777.65h3.9v3.9h-3.9zM573.95 778.85h3.9v3.9h-3.9zM588.85 777.95h3.9v3.9h-3.9zM589.25 778.15h3.9v3.9h-3.9zM614.65 777.75h3.9v3.9h-3.9zM413.05 782.65h3.9v3.9h-3.9zM426.25 781.85h3.9v3.9h-3.9zM438.75 781.65h3.9v3.9h-3.9zM444.75 782.55h3.9v3.9h-3.9zM450.75 780.65h3.9v3.9h-3.9zM473.05 780.45h3.9v3.9h-3.9zM479.65 782.75h3.9v3.9h-3.9zM485.35 780.65h3.9v3.9h-3.9zM486.95 780.35h3.9v3.9h-3.9zM484.25 780.25h3.9v3.9h-3.9zM492.85 781.05h3.9v3.9h-3.9zM499.45 780.95h3.9v3.9h-3.9zM495.05 780.05h3.9v3.9h-3.9zM497.35 781.85h3.9v3.9h-3.9zM500.75 780.75h3.9v3.9h-3.9zM501.75 782.75h3.9v3.9h-3.9zM501.35 782.25h3.9v3.9h-3.9zM504.65 782.15h3.9v3.9h-3.9zM506.85 781.55h3.9v3.9h-3.9zM510.65 780.75h3.9v3.9h-3.9zM511.55 782.15h3.9v3.9h-3.9zM511.95 779.75h3.9v3.9h-3.9zM508.25 781.25h3.9v3.9h-3.9zM515.15 779.85h3.9v3.9h-3.9zM525.75 781.55h3.9v3.9h-3.9zM537.15 780.85h3.9v3.9h-3.9zM534.45 779.95h3.9v3.9h-3.9zM546.25 779.85h3.9v3.9h-3.9zM544.95 781.15h3.9v3.9h-3.9zM543.65 781.85h3.9v3.9h-3.9zM546.05 781.45h3.9v3.9h-3.9zM544.85 779.85h3.9v3.9h-3.9zM562.05 780.45h3.9v3.9h-3.9zM580.85 781.25h3.9v3.9h-3.9zM587.05 782.35h3.9v3.9h-3.9zM580.95 780.65h3.9v3.9h-3.9zM588.35 780.35h3.9v3.9h-3.9zM610.85 780.55h3.9v3.9h-3.9zM609.35 779.85h3.9v3.9h-3.9zM611.85 780.85h3.9v3.9h-3.9zM608.55 781.25h3.9v3.9h-3.9zM389.75 783.15h3.9v3.9h-3.9zM398.85 783.75h3.9v3.9h-3.9zM396.35 784.75h3.9v3.9h-3.9zM442.65 783.95h3.9v3.9h-3.9zM450.45 783.05h3.9v3.9h-3.9zM467.85 783.55h3.9v3.9h-3.9zM461.95 784.75h3.9v3.9h-3.9zM461.55 784.35h3.9v3.9h-3.9zM469.55 783.45h3.9v3.9h-3.9zM476.55 785.25h3.9v3.9h-3.9zM481.45 784.15h3.9v3.9h-3.9zM493.75 785.35h3.9v3.9h-3.9zM499.65 784.25h3.9v3.9h-3.9zM505.15 785.35h3.9v3.9h-3.9zM503.15 784.05h3.9v3.9h-3.9zM503.65 785.15h3.9v3.9h-3.9zM503.15 783.95h3.9v3.9h-3.9zM520.85 782.95h3.9v3.9h-3.9zM533.75 785.65h3.9v3.9h-3.9zM544.85 783.35h3.9v3.9h-3.9zM552.95 785.65h3.9v3.9h-3.9zM556.95 784.25h3.9v3.9h-3.9zM555.75 783.25h3.9v3.9h-3.9zM571.75 785.05h3.9v3.9h-3.9zM569.15 784.75h3.9v3.9h-3.9zM579.45 783.15h3.9v3.9h-3.9zM597.05 785.25h3.9v3.9h-3.9zM607.55 785.55h3.9v3.9h-3.9zM626.85 784.95h3.9v3.9h-3.9zM625.95 785.05h3.9v3.9h-3.9zM626.15 783.75h3.9v3.9h-3.9zM426.55 787.25h3.9v3.9h-3.9zM429.45 786.15h3.9v3.9h-3.9zM449.25 787.95h3.9v3.9h-3.9zM465.75 788.25h3.9v3.9h-3.9zM480.55 786.35h3.9v3.9h-3.9zM484.75 786.45h3.9v3.9h-3.9zM483.45 786.25h3.9v3.9h-3.9zM489.15 785.85h3.9v3.9h-3.9zM495.25 786.15h3.9v3.9h-3.9zM496.35 788.45h3.9v3.9h-3.9zM533.25 786.55h3.9v3.9h-3.9zM530.65 788.25h3.9v3.9h-3.9zM534.45 785.85h3.9v3.9h-3.9zM543.85 786.55h3.9v3.9h-3.9zM548.65 788.45h3.9v3.9h-3.9zM557.35 788.45h3.9v3.9h-3.9zM557.15 786.75h3.9v3.9h-3.9zM561.35 785.85h3.9v3.9h-3.9zM574.05 786.25h3.9v3.9h-3.9zM573.95 788.85h3.9v3.9h-3.9zM583.05 787.25h3.9v3.9h-3.9zM591.35 786.85h3.9v3.9h-3.9zM592.55 787.25h3.9v3.9h-3.9zM596.55 786.75h3.9v3.9h-3.9zM598.95 787.55h3.9v3.9h-3.9zM598.75 786.75h3.9v3.9h-3.9zM603.55 786.55h3.9v3.9h-3.9zM611.45 786.35h3.9v3.9h-3.9zM622.05 788.45h3.9v3.9h-3.9zM420.85 789.05h3.9v3.9h-3.9zM418.95 790.65h3.9v3.9h-3.9zM476.85 791.15h3.9v3.9h-3.9zM511.35 791.45h3.9v3.9h-3.9zM512.85 791.45h3.9v3.9h-3.9zM509.05 790.75h3.9v3.9h-3.9zM519.85 789.25h3.9v3.9h-3.9zM523.05 789.15h3.9v3.9h-3.9zM534.15 789.45h3.9v3.9h-3.9zM546.85 789.55h3.9v3.9h-3.9zM552.15 791.85h3.9v3.9h-3.9zM553.85 791.35h3.9v3.9h-3.9zM556.15 789.65h3.9v3.9h-3.9zM565.65 791.15h3.9v3.9h-3.9zM572.95 790.75h3.9v3.9h-3.9zM577.75 791.45h3.9v3.9h-3.9zM579.75 789.95h3.9v3.9h-3.9zM583.75 791.85h3.9v3.9h-3.9zM581.05 791.45h3.9v3.9h-3.9zM595.75 789.05h3.9v3.9h-3.9zM598.25 790.95h3.9v3.9h-3.9zM608.35 790.15h3.9v3.9h-3.9zM614.45 790.85h3.9v3.9h-3.9zM427.75 795.05h3.9v3.9h-3.9zM433.35 794.85h3.9v3.9h-3.9zM441.05 794.85h3.9v3.9h-3.9zM477.15 794.05h3.9v3.9h-3.9zM482.45 794.55h3.9v3.9h-3.9zM505.85 794.75h3.9v3.9h-3.9zM509.25 794.85h3.9v3.9h-3.9zM518.05 794.65h3.9v3.9h-3.9zM524.55 794.45h3.9v3.9h-3.9zM530.95 794.55h3.9v3.9h-3.9zM535.65 793.25h3.9v3.9h-3.9zM538.95 793.05h3.9v3.9h-3.9zM537.55 791.95h3.9v3.9h-3.9zM544.35 792.75h3.9v3.9h-3.9zM548.45 793.65h3.9v3.9h-3.9zM558.45 794.35h3.9v3.9h-3.9zM561.45 793.55h3.9v3.9h-3.9zM597.65 792.55h3.9v3.9h-3.9zM615.45 794.45h3.9v3.9h-3.9zM440.15 795.45h3.9v3.9h-3.9zM479.85 797.25h3.9v3.9h-3.9zM478.55 795.95h3.9v3.9h-3.9zM488.25 796.65h3.9v3.9h-3.9zM507.55 796.25h3.9v3.9h-3.9zM507.35 795.25h3.9v3.9h-3.9zM508.25 797.95h3.9v3.9h-3.9zM510.25 797.05h3.9v3.9h-3.9zM514.75 795.85h3.9v3.9h-3.9zM522.65 797.85h3.9v3.9h-3.9zM529.65 795.55h3.9v3.9h-3.9zM535.65 796.75h3.9v3.9h-3.9zM542.95 797.25h3.9v3.9h-3.9zM555.85 796.45h3.9v3.9h-3.9zM558.65 797.15h3.9v3.9h-3.9zM564.25 796.35h3.9v3.9h-3.9zM586.75 796.75h3.9v3.9h-3.9zM592.65 795.95h3.9v3.9h-3.9zM594.75 796.65h3.9v3.9h-3.9zM616.05 797.85h3.9v3.9h-3.9zM626.25 796.25h3.9v3.9h-3.9zM622.65 795.85h3.9v3.9h-3.9zM458.35 798.95h3.9v3.9h-3.9zM508.45 800.55h3.9v3.9h-3.9zM527.25 799.05h3.9v3.9h-3.9zM525.95 799.35h3.9v3.9h-3.9zM545.65 800.85h3.9v3.9h-3.9zM552.45 798.95h3.9v3.9h-3.9zM553.25 799.15h3.9v3.9h-3.9zM559.45 800.95h3.9v3.9h-3.9zM582.25 799.15h3.9v3.9h-3.9zM587.75 799.95h3.9v3.9h-3.9zM603.55 799.75h3.9v3.9h-3.9zM400.85 803.05h3.9v3.9h-3.9zM408.85 803.15h3.9v3.9h-3.9zM497.65 801.45h3.9v3.9h-3.9zM502.95 803.05h3.9v3.9h-3.9zM507.35 801.85h3.9v3.9h-3.9zM512.55 803.65h3.9v3.9h-3.9zM511.45 801.35h3.9v3.9h-3.9zM513.45 803.65h3.9v3.9h-3.9zM535.25 802.45h3.9v3.9h-3.9zM535.35 803.05h3.9v3.9h-3.9zM540.45 803.65h3.9v3.9h-3.9zM540.85 801.25h3.9v3.9h-3.9zM548.15 801.65h3.9v3.9h-3.9zM573.65 802.35h3.9v3.9h-3.9zM574.55 803.35h3.9v3.9h-3.9zM577.95 803.55h3.9v3.9h-3.9zM579.65 802.85h3.9v3.9h-3.9zM617.55 803.25h3.9v3.9h-3.9zM618.25 803.65h3.9v3.9h-3.9zM500.85 804.65h3.9v3.9h-3.9zM523.15 806.85h3.9v3.9h-3.9zM536.75 805.95h3.9v3.9h-3.9zM546.05 804.65h3.9v3.9h-3.9zM558.95 804.95h3.9v3.9h-3.9zM560.45 805.35h3.9v3.9h-3.9zM566.65 804.75h3.9v3.9h-3.9zM568.05 805.45h3.9v3.9h-3.9zM584.95 804.35h3.9v3.9h-3.9zM582.65 806.45h3.9v3.9h-3.9zM614.85 805.65h3.9v3.9h-3.9zM489.05 807.95h3.9v3.9h-3.9zM547.45 808.85h3.9v3.9h-3.9zM559.25 809.35h3.9v3.9h-3.9zM563.05 808.85h3.9v3.9h-3.9zM502.55 813.25h3.9v3.9h-3.9zM514.25 812.15h3.9v3.9h-3.9zM518.85 813.35h3.9v3.9h-3.9zM519.45 811.05h3.9v3.9h-3.9zM559.75 812.05h3.9v3.9h-3.9zM611.95 813.25h3.9v3.9h-3.9zM615.55 813.05h3.9v3.9h-3.9zM497.05 814.05h3.9v3.9h-3.9zM516.25 814.15h3.9v3.9h-3.9zM532.65 814.05h3.9v3.9h-3.9zM553.35 813.95h3.9v3.9h-3.9zM563.25 814.65h3.9v3.9h-3.9zM578.15 814.55h3.9v3.9h-3.9zM126.35 745.95h3.9v3.9h-3.9zM133.55 743.25h3.9v3.9h-3.9zM156.95 740.55h3.9v3.9h-3.9zM161.75 705.15h3.9v3.9h-3.9zM182.25 763.75h3.9v3.9h-3.9zM184.35 740.55h3.9v3.9h-3.9zM194.25 701.15h3.9v3.9h-3.9zM201.75 752.05h3.9v3.9h-3.9zM208.05 757.85h3.9v3.9h-3.9zM210.25 706.45h3.9v3.9h-3.9zM226.25 706.45h3.9v3.9h-3.9zM227.55 746.75h3.9v3.9h-3.9zM230.75 759.45h3.9v3.9h-3.9zM235.55 729.35h3.9v3.9h-3.9zM237.15 750.65h3.9v3.9h-3.9zM236.85 760.05h3.9v3.9h-3.9zM242.15 760.05h3.9v3.9h-3.9zM255.45 787.15h3.9v3.9h-3.9zM258.65 745.65h3.9v3.9h-3.9zM260.85 737.95h3.9v3.9h-3.9zM268.05 764.55h3.9v3.9h-3.9zM272.25 729.35h3.9v3.9h-3.9zM278.65 739.75h3.9v3.9h-3.9zM280.05 716.65h3.9v3.9h-3.9zM264.45 849.45h3.9v3.9h-3.9zM350.55 684.15h3.9v3.9h-3.9zM374.35 696.05h3.9v3.9h-3.9zM348.55 701.25h3.9v3.9h-3.9zM366.45 703.15h3.9v3.9h-3.9zM323.35 707.55h3.9v3.9h-3.9zM339.25 707.15h3.9v3.9h-3.9zM349.55 711.95h3.9v3.9h-3.9zM382.95 708.55h3.9v3.9h-3.9zM311.45 711.15h3.9v3.9h-3.9zM311.45 714.55h3.9v3.9h-3.9zM311.45 716.55h3.9v3.9h-3.9zM290.35 716.55h3.9v3.9h-3.9zM328.75 717.45h3.9v3.9h-3.9zM345.95 718.45h3.9v3.9h-3.9zM359.45 716.55h3.9v3.9h-3.9zM358.45 719.45h3.9v3.9h-3.9zM381.35 717.45h3.9v3.9h-3.9zM383.65 719.45h3.9v3.9h-3.9zM327.35 725.45h3.9v3.9h-3.9zM347.55 725.45h3.9v3.9h-3.9zM350.55 727.45h3.9v3.9h-3.9zM372.35 723.85h3.9v3.9h-3.9zM369.45 726.45h3.9v3.9h-3.9zM384.25 725.45h3.9v3.9h-3.9zM313.85 728.45h3.9v3.9h-3.9zM300.35 729.85h3.9v3.9h-3.9zM301.95 732.35h3.9v3.9h-3.9zM288.05 734.35h3.9v3.9h-3.9zM329.35 732.35h3.9v3.9h-3.9zM342.65 729.85h3.9v3.9h-3.9zM343.95 732.95h3.9v3.9h-3.9zM350.55 732.95h3.9v3.9h-3.9zM358.45 730.45h3.9v3.9h-3.9zM362.45 729.45h3.9v3.9h-3.9zM365.45 731.35h3.9v3.9h-3.9zM368.45 733.35h3.9v3.9h-3.9zM336.65 734.35h3.9v3.9h-3.9zM311.45 735.75h3.9v3.9h-3.9zM369.45 737.35h3.9v3.9h-3.9zM381.35 736.35h3.9v3.9h-3.9zM385.25 733.35h3.9v3.9h-3.9zM341.25 738.95h3.9v3.9h-3.9zM312.25 741.35h3.9v3.9h-3.9zM335.25 742.35h3.9v3.9h-3.9zM325.75 744.35h3.9v3.9h-3.9zM328.15 745.65h3.9v3.9h-3.9zM338.65 746.85h3.9v3.9h-3.9zM345.95 743.35h3.9v3.9h-3.9zM347.55 744.35h3.9v3.9h-3.9zM353.95 745.25h3.9v3.9h-3.9zM362.45 743.95h3.9v3.9h-3.9zM370.35 745.25h3.9v3.9h-3.9zM376.35 742.35h3.9v3.9h-3.9zM380.35 746.25h3.9v3.9h-3.9zM285.05 746.25h3.9v3.9h-3.9zM306.25 746.25h3.9v3.9h-3.9zM310.85 750.25h3.9v3.9h-3.9zM354.55 750.85h3.9v3.9h-3.9zM377.35 752.25h3.9v3.9h-3.9zM383.25 751.25h3.9v3.9h-3.9zM384.25 755.25h3.9v3.9h-3.9zM358.45 754.85h3.9v3.9h-3.9zM333.25 756.25h3.9v3.9h-3.9zM294.95 760.15h3.9v3.9h-3.9zM351.55 758.25h3.9v3.9h-3.9zM349.95 762.15h3.9v3.9h-3.9zM355.15 761.55h3.9v3.9h-3.9zM375.35 761.15h3.9v3.9h-3.9zM381.35 761.15h3.9v3.9h-3.9zM336.65 763.55h3.9v3.9h-3.9zM349.55 766.15h3.9v3.9h-3.9zM361.45 767.15h3.9v3.9h-3.9zM383.25 767.15h3.9v3.9h-3.9zM385.65 769.15h3.9v3.9h-3.9zM339.25 771.55h3.9v3.9h-3.9zM351.15 772.75h3.9v3.9h-3.9zM372.95 773.15h3.9v3.9h-3.9zM296.95 781.05h3.9v3.9h-3.9zM309.45 782.65h3.9v3.9h-3.9zM314.85 783.65h3.9v3.9h-3.9zM309.85 788.95h3.9v3.9h-3.9zM336.05 783.05h3.9v3.9h-3.9zM372.35 782.05h3.9v3.9h-3.9zM316.15 803.85h3.9v3.9h-3.9zM387.85 777.05h3.9v3.9h-3.9zM659.15 699.45h3.9v3.9h-3.9zM645.65 716.55h3.9v3.9h-3.9zM672.05 715.85h3.9v3.9h-3.9zM627.85 718.65h3.9v3.9h-3.9zM629.25 720.05h3.9v3.9h-3.9zM627.85 724.35h3.9v3.9h-3.9zM634.95 720.75h3.9v3.9h-3.9zM637.05 723.65h3.9v3.9h-3.9zM636.85 727.95h3.9v3.9h-3.9zM645.35 730.05h3.9v3.9h-3.9zM627.45 733.65h3.9v3.9h-3.9zM632.55 733.65h3.9v3.9h-3.9zM647.05 742.15h3.9v3.9h-3.9zM667.05 740.75h3.9v3.9h-3.9zM664.15 747.85h3.9v3.9h-3.9zM669.85 748.55h3.9v3.9h-3.9zM634.55 749.95h3.9v3.9h-3.9zM626.85 753.55h3.9v3.9h-3.9zM645.65 756.15h3.9v3.9h-3.9zM649.25 759.25h3.9v3.9h-3.9zM652.75 762.15h3.9v3.9h-3.9zM657.05 762.15h3.9v3.9h-3.9zM662.05 756.15h3.9v3.9h-3.9zM669.45 762.85h3.9v3.9h-3.9zM687.65 759.95h3.9v3.9h-3.9zM642.55 762.85h3.9v3.9h-3.9zM626.45 762.15h3.9v3.9h-3.9zM648.45 768.55h3.9v3.9h-3.9zM649.25 772.75h3.9v3.9h-3.9zM655.65 774.95h3.9v3.9h-3.9zM638.25 772.75h3.9v3.9h-3.9zM640.25 770.35h3.9v3.9h-3.9zM626.45 776.35h3.9v3.9h-3.9zM640.65 779.95h3.9v3.9h-3.9zM646.35 780.95h3.9v3.9h-3.9zM666.75 779.95h3.9v3.9h-3.9zM691.25 783.15h3.9v3.9h-3.9zM679.15 787.05h3.9v3.9h-3.9zM641.35 786.35h3.9v3.9h-3.9zM647.75 787.05h3.9v3.9h-3.9zM652.05 786.35h3.9v3.9h-3.9zM653.95 787.45h3.9v3.9h-3.9zM631.35 786.35h3.9v3.9h-3.9zM634.95 790.55h3.9v3.9h-3.9zM636.85 796.25h3.9v3.9h-3.9zM640.65 794.55h3.9v3.9h-3.9zM646.35 799.85h3.9v3.9h-3.9zM632.85 802.75h3.9v3.9h-3.9zM637.35 806.95h3.9v3.9h-3.9zM639.95 804.15h3.9v3.9h-3.9zM652.75 806.25h3.9v3.9h-3.9zM646.35 810.85h3.9v3.9h-3.9zM654.15 812.65h3.9v3.9h-3.9zM672.45 804.85h3.9v3.9h-3.9zM685.55 802.75h3.9v3.9h-3.9zM674.15 815.55h3.9v3.9h-3.9zM667.05 818.05h3.9v3.9h-3.9zM658.85 826.05h3.9v3.9h-3.9zM646.45 855.35h3.9v3.9h-3.9zM642.85 861.95h3.9v3.9h-3.9zM682.75 857.35h3.9v3.9h-3.9zM688.45 871.95h3.9v3.9h-3.9zM672.85 892.95h3.9v3.9h-3.9zM403.75 683.75h3.9v3.9h-3.9zM413.65 688.35h3.9v3.9h-3.9zM422.95 687.35h3.9v3.9h-3.9zM439.35 687.35h3.9v3.9h-3.9zM437.25 679.45h3.9v3.9h-3.9zM457.85 679.45h3.9v3.9h-3.9zM462.85 680.15h3.9v3.9h-3.9zM459.25 686.55h3.9v3.9h-3.9zM475.65 686.55h3.9v3.9h-3.9zM489.25 680.15h3.9v3.9h-3.9zM393.05 679.45h3.9v3.9h-3.9zM390.85 691.55h3.9v3.9h-3.9zM362.65 580.45h3.9v3.9h-3.9zM405.95 634.95h3.9v3.9h-3.9zM396.95 641.55h3.9v3.9h-3.9zM464.85 650.95h3.9v3.9h-3.9zM453.85 666.85h3.9v3.9h-3.9zM425.55 670.25h3.9v3.9h-3.9zM471.45 673.45h3.9v3.9h-3.9zM438.25 676.85h3.9v3.9h-3.9zM436.85 679.45h3.9v3.9h-3.9zM392.95 678.45h3.9v3.9h-3.9zM456.85 679.25h3.9v3.9h-3.9zM463.45 680.25h3.9v3.9h-3.9zM461.45 692.85h3.9v3.9h-3.9zM470.25 693.85h3.9v3.9h-3.9zM502.45 662.35h3.9v3.9h-3.9zM539.95 667.55h3.9v3.9h-3.9zM585.85 666.55h3.9v3.9h-3.9zM480.05 676.35h3.9v3.9h-3.9zM489.05 679.95h3.9v3.9h-3.9zM504.95 679.55h3.9v3.9h-3.9zM514.95 678.55h3.9v3.9h-3.9zM506.95 685.95h3.9v3.9h-3.9zM525.55 682.95h3.9v3.9h-3.9zM525.95 685.95h3.9v3.9h-3.9zM532.95 680.95h3.9v3.9h-3.9zM577.45 682.55h3.9v3.9h-3.9zM515.95 689.55h3.9v3.9h-3.9zM472.05 692.95h3.9v3.9h-3.9zM525.55 693.55h3.9v3.9h-3.9zM536.95 693.95h3.9v3.9h-3.9zM544.35 691.55h3.9v3.9h-3.9zM572.35 692.95h3.9v3.9h-3.9zM598.25 692.95h3.9v3.9h-3.9zM610.25 693.55h3.9v3.9h-3.9zM504.75 679.45h3.9v3.9h-3.9zM532.55 680.85h3.9v3.9h-3.9zM516.15 689.45h3.9v3.9h-3.9zM421.55 818.05h3.9v3.9h-3.9zM440.35 820.65h3.9v3.9h-3.9zM441.55 822.05h3.9v3.9h-3.9zM452.35 817.45h3.9v3.9h-3.9zM464.35 823.45h3.9v3.9h-3.9zM460.35 829.45h3.9v3.9h-3.9zM441.55 831.45h3.9v3.9h-3.9zM435.95 841.05h3.9v3.9h-3.9zM508.25 819.45h3.9v3.9h-3.9zM494.85 837.05h3.9v3.9h-3.9zM493.85 841.35h3.9v3.9h-3.9zM489.45 846.95h3.9v3.9h-3.9zM511.45 841.95h3.9v3.9h-3.9zM517.85 833.45h3.9v3.9h-3.9zM548.05 817.45h3.9v3.9h-3.9zM559.05 817.05h3.9v3.9h-3.9zM563.05 816.65h3.9v3.9h-3.9zM575.35 816.65h3.9v3.9h-3.9zM586.55 818.05h3.9v3.9h-3.9zM585.95 823.05h3.9v3.9h-3.9zM594.55 821.05h3.9v3.9h-3.9zM600.95 817.05h3.9v3.9h-3.9zM607.95 819.05h3.9v3.9h-3.9zM564.55 827.45h3.9v3.9h-3.9zM600.55 826.65h3.9v3.9h-3.9zM593.35 831.05h3.9v3.9h-3.9zM591.95 833.45h3.9v3.9h-3.9zM610.55 831.05h3.9v3.9h-3.9zM616.95 832.65h3.9v3.9h-3.9zM626.55 836.05h3.9v3.9h-3.9zM544.65 838.65h3.9v3.9h-3.9zM604.95 845.35h3.9v3.9h-3.9zM617.35 842.55h3.9v3.9h-3.9zM546.65 855.35h3.9v3.9h-3.9zM561.05 854.55h3.9v3.9h-3.9zM568.95 850.95h3.9v3.9h-3.9zM573.95 855.95h3.9v3.9h-3.9zM589.35 855.35h3.9v3.9h-3.9zM545.45 867.95h3.9v3.9h-3.9zM590.55 865.35h3.9v3.9h-3.9zM581.35 871.95h3.9v3.9h-3.9zM549.45 886.55h3.9v3.9h-3.9zM613.95 900.95h3.9v3.9h-3.9z" fill="#7d7d7d" filter="url(#bl)"/>
<line x1="95" y1="752.10" x2="740.7" y2="752.10" stroke="rgb(245,45,0)" stroke-opacity="0.4" stroke-width="1.8"/>
<line x1="95" y1="753.50" x2="740.7" y2="753.50" stroke="rgba(200,150,80,0.3)" stroke-width="1"/>
<line x1="95" y1="555.0" x2="95" y2="934.4" stroke="#333" stroke-width="2"/>
<line x1="96" y1="932.4" x2="742" y2="932.4" stroke="#c0c0c0" stroke-width="1"/>
<line x1="94" y1="933.7" x2="742.4" y2="933.7" stroke="#333" stroke-width="1.5"/>
</svg>
</body></html>
